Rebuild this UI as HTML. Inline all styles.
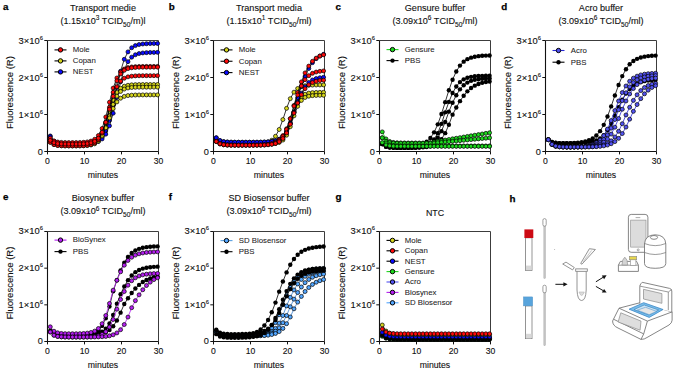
<!DOCTYPE html>
<html><head><meta charset="utf-8"><style>
html,body{margin:0;padding:0;background:#fff;overflow:hidden;width:676px;height:371px;}
svg{display:block;}
text{font-family:"Liberation Sans", sans-serif;} .t{fill:#111;stroke:#111;stroke-width:0.12px;} .lg{fill:#222;stroke:#222;stroke-width:0.06px;}
</style></head><body>
<svg width="676" height="371" viewBox="0 0 676 371">
<rect width="676" height="371" fill="#fff"/>
<text x="3.0" y="9.8" font-size="9.8" font-weight="bold" fill="#000" stroke="#000" stroke-width="0.25">a</text>
<text x="103.0" y="10.5" font-size="9.1" text-anchor="middle" class="t">Transport medie</text>
<text x="103.0" y="23.9" font-size="9.1" text-anchor="middle" class="t">(1.15x10<tspan dy="-3.6" font-size="6.5">3</tspan><tspan dy="3.6"> TCID</tspan><tspan dy="2.6" font-size="6.6">50</tspan><tspan dy="-2.6">/m)l</tspan></text>
<path d="M47.5 40.5H158.5V151.5" fill="none" stroke="#3c3c3c" stroke-width="1.0"/>
<path d="M47.5 40.5V151.5H158.5" fill="none" stroke="#111" stroke-width="1.1"/>
<path d="M44.3 151.5H47.5" stroke="#111" stroke-width="1"/>
<text x="42.9" y="154.8" font-size="9.2" text-anchor="end" class="t">0</text>
<path d="M44.3 114.5H47.5" stroke="#111" stroke-width="1"/>
<text x="42.9" y="117.8" font-size="9.4" text-anchor="end" class="t">1×10<tspan dy="-3.9" font-size="5.8">6</tspan></text>
<path d="M44.3 77.5H47.5" stroke="#111" stroke-width="1"/>
<text x="42.9" y="80.8" font-size="9.4" text-anchor="end" class="t">2×10<tspan dy="-3.9" font-size="5.8">6</tspan></text>
<path d="M44.3 40.5H47.5" stroke="#111" stroke-width="1"/>
<text x="42.9" y="43.8" font-size="9.4" text-anchor="end" class="t">3×10<tspan dy="-3.9" font-size="5.8">6</tspan></text>
<path d="M47.5 151.5V154.4" stroke="#111" stroke-width="1"/>
<text x="47.5" y="164.4" font-size="8.6" text-anchor="middle" class="t">0</text>
<path d="M84.5 151.5V154.4" stroke="#111" stroke-width="1"/>
<text x="84.5" y="164.4" font-size="8.6" text-anchor="middle" class="t">10</text>
<path d="M121.5 151.5V154.4" stroke="#111" stroke-width="1"/>
<text x="121.5" y="164.4" font-size="8.6" text-anchor="middle" class="t">20</text>
<path d="M158.5 151.5V154.4" stroke="#111" stroke-width="1"/>
<text x="158.5" y="164.4" font-size="8.6" text-anchor="middle" class="t">30</text>
<text x="103.0" y="177.9" font-size="8.7" text-anchor="middle" class="t">minutes</text>
<text transform="translate(12.899999999999999 92.6) rotate(-90)" x="0" y="0" font-size="9.5" text-anchor="middle" class="t">Fluorescence (R)</text>
<polyline points="50.27,135.96 53.98,141.10 57.67,143.00 61.38,143.69 65.08,143.95 68.78,144.03 72.47,144.06 76.17,144.04 79.88,144.00 83.58,143.89 87.28,143.68 90.97,143.24 94.68,142.35 98.38,140.59 102.08,137.19 105.78,130.92 109.47,120.42 113.17,105.26 116.88,87.52 120.58,71.24 124.28,59.29 127.98,51.89 131.68,47.77 135.38,45.62 139.07,44.53 142.78,43.99 146.48,43.72 150.18,43.59 153.88,43.52 157.57,43.49" fill="none" stroke="#000" stroke-width="0.8"/>
<circle cx="50.27" cy="135.96" r="2.0" fill="#0a0aff" stroke="#000" stroke-width="0.7"/>
<circle cx="53.98" cy="141.10" r="2.0" fill="#0a0aff" stroke="#000" stroke-width="0.7"/>
<circle cx="57.67" cy="143.00" r="2.0" fill="#0a0aff" stroke="#000" stroke-width="0.7"/>
<circle cx="61.38" cy="143.69" r="2.0" fill="#0a0aff" stroke="#000" stroke-width="0.7"/>
<circle cx="65.08" cy="143.95" r="2.0" fill="#0a0aff" stroke="#000" stroke-width="0.7"/>
<circle cx="68.78" cy="144.03" r="2.0" fill="#0a0aff" stroke="#000" stroke-width="0.7"/>
<circle cx="72.47" cy="144.06" r="2.0" fill="#0a0aff" stroke="#000" stroke-width="0.7"/>
<circle cx="76.17" cy="144.04" r="2.0" fill="#0a0aff" stroke="#000" stroke-width="0.7"/>
<circle cx="79.88" cy="144.00" r="2.0" fill="#0a0aff" stroke="#000" stroke-width="0.7"/>
<circle cx="83.58" cy="143.89" r="2.0" fill="#0a0aff" stroke="#000" stroke-width="0.7"/>
<circle cx="87.28" cy="143.68" r="2.0" fill="#0a0aff" stroke="#000" stroke-width="0.7"/>
<circle cx="90.97" cy="143.24" r="2.0" fill="#0a0aff" stroke="#000" stroke-width="0.7"/>
<circle cx="94.68" cy="142.35" r="2.0" fill="#0a0aff" stroke="#000" stroke-width="0.7"/>
<circle cx="98.38" cy="140.59" r="2.0" fill="#0a0aff" stroke="#000" stroke-width="0.7"/>
<circle cx="102.08" cy="137.19" r="2.0" fill="#0a0aff" stroke="#000" stroke-width="0.7"/>
<circle cx="105.78" cy="130.92" r="2.0" fill="#0a0aff" stroke="#000" stroke-width="0.7"/>
<circle cx="109.47" cy="120.42" r="2.0" fill="#0a0aff" stroke="#000" stroke-width="0.7"/>
<circle cx="113.17" cy="105.26" r="2.0" fill="#0a0aff" stroke="#000" stroke-width="0.7"/>
<circle cx="116.88" cy="87.52" r="2.0" fill="#0a0aff" stroke="#000" stroke-width="0.7"/>
<circle cx="120.58" cy="71.24" r="2.0" fill="#0a0aff" stroke="#000" stroke-width="0.7"/>
<circle cx="124.28" cy="59.29" r="2.0" fill="#0a0aff" stroke="#000" stroke-width="0.7"/>
<circle cx="127.98" cy="51.89" r="2.0" fill="#0a0aff" stroke="#000" stroke-width="0.7"/>
<circle cx="131.68" cy="47.77" r="2.0" fill="#0a0aff" stroke="#000" stroke-width="0.7"/>
<circle cx="135.38" cy="45.62" r="2.0" fill="#0a0aff" stroke="#000" stroke-width="0.7"/>
<circle cx="139.07" cy="44.53" r="2.0" fill="#0a0aff" stroke="#000" stroke-width="0.7"/>
<circle cx="142.78" cy="43.99" r="2.0" fill="#0a0aff" stroke="#000" stroke-width="0.7"/>
<circle cx="146.48" cy="43.72" r="2.0" fill="#0a0aff" stroke="#000" stroke-width="0.7"/>
<circle cx="150.18" cy="43.59" r="2.0" fill="#0a0aff" stroke="#000" stroke-width="0.7"/>
<circle cx="153.88" cy="43.52" r="2.0" fill="#0a0aff" stroke="#000" stroke-width="0.7"/>
<circle cx="157.57" cy="43.49" r="2.0" fill="#0a0aff" stroke="#000" stroke-width="0.7"/>
<polyline points="50.27,136.70 53.98,141.38 57.67,143.10 61.38,143.73 65.08,143.96 68.78,144.04 72.47,144.06 76.17,144.06 79.88,144.02 83.58,143.95 87.28,143.79 90.97,143.46 94.68,142.81 98.38,141.50 102.08,138.95 105.78,134.15 109.47,125.84 113.17,113.22 116.88,97.40 120.58,81.78 124.28,69.57 127.98,61.67 131.68,57.16 135.38,54.76 139.07,53.54 142.78,52.93 146.48,52.63 150.18,52.48 153.88,52.41 157.57,52.37" fill="none" stroke="#000" stroke-width="0.8"/>
<circle cx="50.27" cy="136.70" r="2.0" fill="#0a0aff" stroke="#000" stroke-width="0.7"/>
<circle cx="53.98" cy="141.38" r="2.0" fill="#0a0aff" stroke="#000" stroke-width="0.7"/>
<circle cx="57.67" cy="143.10" r="2.0" fill="#0a0aff" stroke="#000" stroke-width="0.7"/>
<circle cx="61.38" cy="143.73" r="2.0" fill="#0a0aff" stroke="#000" stroke-width="0.7"/>
<circle cx="65.08" cy="143.96" r="2.0" fill="#0a0aff" stroke="#000" stroke-width="0.7"/>
<circle cx="68.78" cy="144.04" r="2.0" fill="#0a0aff" stroke="#000" stroke-width="0.7"/>
<circle cx="72.47" cy="144.06" r="2.0" fill="#0a0aff" stroke="#000" stroke-width="0.7"/>
<circle cx="76.17" cy="144.06" r="2.0" fill="#0a0aff" stroke="#000" stroke-width="0.7"/>
<circle cx="79.88" cy="144.02" r="2.0" fill="#0a0aff" stroke="#000" stroke-width="0.7"/>
<circle cx="83.58" cy="143.95" r="2.0" fill="#0a0aff" stroke="#000" stroke-width="0.7"/>
<circle cx="87.28" cy="143.79" r="2.0" fill="#0a0aff" stroke="#000" stroke-width="0.7"/>
<circle cx="90.97" cy="143.46" r="2.0" fill="#0a0aff" stroke="#000" stroke-width="0.7"/>
<circle cx="94.68" cy="142.81" r="2.0" fill="#0a0aff" stroke="#000" stroke-width="0.7"/>
<circle cx="98.38" cy="141.50" r="2.0" fill="#0a0aff" stroke="#000" stroke-width="0.7"/>
<circle cx="102.08" cy="138.95" r="2.0" fill="#0a0aff" stroke="#000" stroke-width="0.7"/>
<circle cx="105.78" cy="134.15" r="2.0" fill="#0a0aff" stroke="#000" stroke-width="0.7"/>
<circle cx="109.47" cy="125.84" r="2.0" fill="#0a0aff" stroke="#000" stroke-width="0.7"/>
<circle cx="113.17" cy="113.22" r="2.0" fill="#0a0aff" stroke="#000" stroke-width="0.7"/>
<circle cx="116.88" cy="97.40" r="2.0" fill="#0a0aff" stroke="#000" stroke-width="0.7"/>
<circle cx="120.58" cy="81.78" r="2.0" fill="#0a0aff" stroke="#000" stroke-width="0.7"/>
<circle cx="124.28" cy="69.57" r="2.0" fill="#0a0aff" stroke="#000" stroke-width="0.7"/>
<circle cx="127.98" cy="61.67" r="2.0" fill="#0a0aff" stroke="#000" stroke-width="0.7"/>
<circle cx="131.68" cy="57.16" r="2.0" fill="#0a0aff" stroke="#000" stroke-width="0.7"/>
<circle cx="135.38" cy="54.76" r="2.0" fill="#0a0aff" stroke="#000" stroke-width="0.7"/>
<circle cx="139.07" cy="53.54" r="2.0" fill="#0a0aff" stroke="#000" stroke-width="0.7"/>
<circle cx="142.78" cy="52.93" r="2.0" fill="#0a0aff" stroke="#000" stroke-width="0.7"/>
<circle cx="146.48" cy="52.63" r="2.0" fill="#0a0aff" stroke="#000" stroke-width="0.7"/>
<circle cx="150.18" cy="52.48" r="2.0" fill="#0a0aff" stroke="#000" stroke-width="0.7"/>
<circle cx="153.88" cy="52.41" r="2.0" fill="#0a0aff" stroke="#000" stroke-width="0.7"/>
<circle cx="157.57" cy="52.37" r="2.0" fill="#0a0aff" stroke="#000" stroke-width="0.7"/>
<polyline points="50.27,139.66 53.98,142.47 57.67,143.50 61.38,143.88 65.08,144.02 68.78,144.06 72.47,144.07 76.17,144.06 79.88,144.01 83.58,143.89 87.28,143.61 90.97,142.98 94.68,141.59 98.38,138.63 102.08,132.86 105.78,123.33 109.47,111.22 113.17,100.07 116.88,92.45 120.58,88.25 124.28,86.21 127.98,85.27 131.68,84.85 135.38,84.67 139.07,84.59 142.78,84.56 146.48,84.54 150.18,84.54 153.88,84.53 157.57,84.53" fill="none" stroke="#000" stroke-width="0.8"/>
<circle cx="50.27" cy="139.66" r="2.0" fill="#d4d41c" stroke="#000" stroke-width="0.7"/>
<circle cx="53.98" cy="142.47" r="2.0" fill="#d4d41c" stroke="#000" stroke-width="0.7"/>
<circle cx="57.67" cy="143.50" r="2.0" fill="#d4d41c" stroke="#000" stroke-width="0.7"/>
<circle cx="61.38" cy="143.88" r="2.0" fill="#d4d41c" stroke="#000" stroke-width="0.7"/>
<circle cx="65.08" cy="144.02" r="2.0" fill="#d4d41c" stroke="#000" stroke-width="0.7"/>
<circle cx="68.78" cy="144.06" r="2.0" fill="#d4d41c" stroke="#000" stroke-width="0.7"/>
<circle cx="72.47" cy="144.07" r="2.0" fill="#d4d41c" stroke="#000" stroke-width="0.7"/>
<circle cx="76.17" cy="144.06" r="2.0" fill="#d4d41c" stroke="#000" stroke-width="0.7"/>
<circle cx="79.88" cy="144.01" r="2.0" fill="#d4d41c" stroke="#000" stroke-width="0.7"/>
<circle cx="83.58" cy="143.89" r="2.0" fill="#d4d41c" stroke="#000" stroke-width="0.7"/>
<circle cx="87.28" cy="143.61" r="2.0" fill="#d4d41c" stroke="#000" stroke-width="0.7"/>
<circle cx="90.97" cy="142.98" r="2.0" fill="#d4d41c" stroke="#000" stroke-width="0.7"/>
<circle cx="94.68" cy="141.59" r="2.0" fill="#d4d41c" stroke="#000" stroke-width="0.7"/>
<circle cx="98.38" cy="138.63" r="2.0" fill="#d4d41c" stroke="#000" stroke-width="0.7"/>
<circle cx="102.08" cy="132.86" r="2.0" fill="#d4d41c" stroke="#000" stroke-width="0.7"/>
<circle cx="105.78" cy="123.33" r="2.0" fill="#d4d41c" stroke="#000" stroke-width="0.7"/>
<circle cx="109.47" cy="111.22" r="2.0" fill="#d4d41c" stroke="#000" stroke-width="0.7"/>
<circle cx="113.17" cy="100.07" r="2.0" fill="#d4d41c" stroke="#000" stroke-width="0.7"/>
<circle cx="116.88" cy="92.45" r="2.0" fill="#d4d41c" stroke="#000" stroke-width="0.7"/>
<circle cx="120.58" cy="88.25" r="2.0" fill="#d4d41c" stroke="#000" stroke-width="0.7"/>
<circle cx="124.28" cy="86.21" r="2.0" fill="#d4d41c" stroke="#000" stroke-width="0.7"/>
<circle cx="127.98" cy="85.27" r="2.0" fill="#d4d41c" stroke="#000" stroke-width="0.7"/>
<circle cx="131.68" cy="84.85" r="2.0" fill="#d4d41c" stroke="#000" stroke-width="0.7"/>
<circle cx="135.38" cy="84.67" r="2.0" fill="#d4d41c" stroke="#000" stroke-width="0.7"/>
<circle cx="139.07" cy="84.59" r="2.0" fill="#d4d41c" stroke="#000" stroke-width="0.7"/>
<circle cx="142.78" cy="84.56" r="2.0" fill="#d4d41c" stroke="#000" stroke-width="0.7"/>
<circle cx="146.48" cy="84.54" r="2.0" fill="#d4d41c" stroke="#000" stroke-width="0.7"/>
<circle cx="150.18" cy="84.54" r="2.0" fill="#d4d41c" stroke="#000" stroke-width="0.7"/>
<circle cx="153.88" cy="84.53" r="2.0" fill="#d4d41c" stroke="#000" stroke-width="0.7"/>
<circle cx="157.57" cy="84.53" r="2.0" fill="#d4d41c" stroke="#000" stroke-width="0.7"/>
<polyline points="50.27,142.25 53.98,144.59 57.67,145.45 61.38,145.76 65.08,145.88 68.78,145.92 72.47,145.93 76.17,145.91 79.88,145.87 83.58,145.77 87.28,145.54 90.97,145.01 94.68,143.84 98.38,141.31 102.08,136.27 105.78,127.61 109.47,115.92 113.17,104.43 116.88,96.14 120.58,91.41 124.28,89.07 127.98,87.98 131.68,87.50 135.38,87.28 139.07,87.19 142.78,87.15 146.48,87.13 150.18,87.13 153.88,87.12 157.57,87.12" fill="none" stroke="#000" stroke-width="0.8"/>
<circle cx="50.27" cy="142.25" r="2.0" fill="#d4d41c" stroke="#000" stroke-width="0.7"/>
<circle cx="53.98" cy="144.59" r="2.0" fill="#d4d41c" stroke="#000" stroke-width="0.7"/>
<circle cx="57.67" cy="145.45" r="2.0" fill="#d4d41c" stroke="#000" stroke-width="0.7"/>
<circle cx="61.38" cy="145.76" r="2.0" fill="#d4d41c" stroke="#000" stroke-width="0.7"/>
<circle cx="65.08" cy="145.88" r="2.0" fill="#d4d41c" stroke="#000" stroke-width="0.7"/>
<circle cx="68.78" cy="145.92" r="2.0" fill="#d4d41c" stroke="#000" stroke-width="0.7"/>
<circle cx="72.47" cy="145.93" r="2.0" fill="#d4d41c" stroke="#000" stroke-width="0.7"/>
<circle cx="76.17" cy="145.91" r="2.0" fill="#d4d41c" stroke="#000" stroke-width="0.7"/>
<circle cx="79.88" cy="145.87" r="2.0" fill="#d4d41c" stroke="#000" stroke-width="0.7"/>
<circle cx="83.58" cy="145.77" r="2.0" fill="#d4d41c" stroke="#000" stroke-width="0.7"/>
<circle cx="87.28" cy="145.54" r="2.0" fill="#d4d41c" stroke="#000" stroke-width="0.7"/>
<circle cx="90.97" cy="145.01" r="2.0" fill="#d4d41c" stroke="#000" stroke-width="0.7"/>
<circle cx="94.68" cy="143.84" r="2.0" fill="#d4d41c" stroke="#000" stroke-width="0.7"/>
<circle cx="98.38" cy="141.31" r="2.0" fill="#d4d41c" stroke="#000" stroke-width="0.7"/>
<circle cx="102.08" cy="136.27" r="2.0" fill="#d4d41c" stroke="#000" stroke-width="0.7"/>
<circle cx="105.78" cy="127.61" r="2.0" fill="#d4d41c" stroke="#000" stroke-width="0.7"/>
<circle cx="109.47" cy="115.92" r="2.0" fill="#d4d41c" stroke="#000" stroke-width="0.7"/>
<circle cx="113.17" cy="104.43" r="2.0" fill="#d4d41c" stroke="#000" stroke-width="0.7"/>
<circle cx="116.88" cy="96.14" r="2.0" fill="#d4d41c" stroke="#000" stroke-width="0.7"/>
<circle cx="120.58" cy="91.41" r="2.0" fill="#d4d41c" stroke="#000" stroke-width="0.7"/>
<circle cx="124.28" cy="89.07" r="2.0" fill="#d4d41c" stroke="#000" stroke-width="0.7"/>
<circle cx="127.98" cy="87.98" r="2.0" fill="#d4d41c" stroke="#000" stroke-width="0.7"/>
<circle cx="131.68" cy="87.50" r="2.0" fill="#d4d41c" stroke="#000" stroke-width="0.7"/>
<circle cx="135.38" cy="87.28" r="2.0" fill="#d4d41c" stroke="#000" stroke-width="0.7"/>
<circle cx="139.07" cy="87.19" r="2.0" fill="#d4d41c" stroke="#000" stroke-width="0.7"/>
<circle cx="142.78" cy="87.15" r="2.0" fill="#d4d41c" stroke="#000" stroke-width="0.7"/>
<circle cx="146.48" cy="87.13" r="2.0" fill="#d4d41c" stroke="#000" stroke-width="0.7"/>
<circle cx="150.18" cy="87.13" r="2.0" fill="#d4d41c" stroke="#000" stroke-width="0.7"/>
<circle cx="153.88" cy="87.12" r="2.0" fill="#d4d41c" stroke="#000" stroke-width="0.7"/>
<circle cx="157.57" cy="87.12" r="2.0" fill="#d4d41c" stroke="#000" stroke-width="0.7"/>
<polyline points="50.27,140.40 53.98,142.74 57.67,143.60 61.38,143.91 65.08,144.03 68.78,144.07 72.47,144.08 76.17,144.07 79.88,144.03 83.58,143.94 87.28,143.73 90.97,143.25 94.68,142.19 98.38,139.91 102.08,135.42 105.78,127.86 109.47,117.96 113.17,108.53 116.88,101.92 120.58,98.21 124.28,96.39 127.98,95.55 131.68,95.18 135.38,95.02 139.07,94.95 142.78,94.91 146.48,94.90 150.18,94.89 153.88,94.89 157.57,94.89" fill="none" stroke="#000" stroke-width="0.8"/>
<circle cx="50.27" cy="140.40" r="2.0" fill="#d4d41c" stroke="#000" stroke-width="0.7"/>
<circle cx="53.98" cy="142.74" r="2.0" fill="#d4d41c" stroke="#000" stroke-width="0.7"/>
<circle cx="57.67" cy="143.60" r="2.0" fill="#d4d41c" stroke="#000" stroke-width="0.7"/>
<circle cx="61.38" cy="143.91" r="2.0" fill="#d4d41c" stroke="#000" stroke-width="0.7"/>
<circle cx="65.08" cy="144.03" r="2.0" fill="#d4d41c" stroke="#000" stroke-width="0.7"/>
<circle cx="68.78" cy="144.07" r="2.0" fill="#d4d41c" stroke="#000" stroke-width="0.7"/>
<circle cx="72.47" cy="144.08" r="2.0" fill="#d4d41c" stroke="#000" stroke-width="0.7"/>
<circle cx="76.17" cy="144.07" r="2.0" fill="#d4d41c" stroke="#000" stroke-width="0.7"/>
<circle cx="79.88" cy="144.03" r="2.0" fill="#d4d41c" stroke="#000" stroke-width="0.7"/>
<circle cx="83.58" cy="143.94" r="2.0" fill="#d4d41c" stroke="#000" stroke-width="0.7"/>
<circle cx="87.28" cy="143.73" r="2.0" fill="#d4d41c" stroke="#000" stroke-width="0.7"/>
<circle cx="90.97" cy="143.25" r="2.0" fill="#d4d41c" stroke="#000" stroke-width="0.7"/>
<circle cx="94.68" cy="142.19" r="2.0" fill="#d4d41c" stroke="#000" stroke-width="0.7"/>
<circle cx="98.38" cy="139.91" r="2.0" fill="#d4d41c" stroke="#000" stroke-width="0.7"/>
<circle cx="102.08" cy="135.42" r="2.0" fill="#d4d41c" stroke="#000" stroke-width="0.7"/>
<circle cx="105.78" cy="127.86" r="2.0" fill="#d4d41c" stroke="#000" stroke-width="0.7"/>
<circle cx="109.47" cy="117.96" r="2.0" fill="#d4d41c" stroke="#000" stroke-width="0.7"/>
<circle cx="113.17" cy="108.53" r="2.0" fill="#d4d41c" stroke="#000" stroke-width="0.7"/>
<circle cx="116.88" cy="101.92" r="2.0" fill="#d4d41c" stroke="#000" stroke-width="0.7"/>
<circle cx="120.58" cy="98.21" r="2.0" fill="#d4d41c" stroke="#000" stroke-width="0.7"/>
<circle cx="124.28" cy="96.39" r="2.0" fill="#d4d41c" stroke="#000" stroke-width="0.7"/>
<circle cx="127.98" cy="95.55" r="2.0" fill="#d4d41c" stroke="#000" stroke-width="0.7"/>
<circle cx="131.68" cy="95.18" r="2.0" fill="#d4d41c" stroke="#000" stroke-width="0.7"/>
<circle cx="135.38" cy="95.02" r="2.0" fill="#d4d41c" stroke="#000" stroke-width="0.7"/>
<circle cx="139.07" cy="94.95" r="2.0" fill="#d4d41c" stroke="#000" stroke-width="0.7"/>
<circle cx="142.78" cy="94.91" r="2.0" fill="#d4d41c" stroke="#000" stroke-width="0.7"/>
<circle cx="146.48" cy="94.90" r="2.0" fill="#d4d41c" stroke="#000" stroke-width="0.7"/>
<circle cx="150.18" cy="94.89" r="2.0" fill="#d4d41c" stroke="#000" stroke-width="0.7"/>
<circle cx="153.88" cy="94.89" r="2.0" fill="#d4d41c" stroke="#000" stroke-width="0.7"/>
<circle cx="157.57" cy="94.89" r="2.0" fill="#d4d41c" stroke="#000" stroke-width="0.7"/>
<polyline points="50.27,138.18 53.98,140.99 57.67,142.02 61.38,142.40 65.08,142.53 68.78,142.58 72.47,142.58 76.17,142.55 79.88,142.48 83.58,142.30 87.28,141.92 90.97,141.08 94.68,139.27 98.38,135.55 102.08,128.49 105.78,116.99 109.47,102.23 113.17,88.12 116.88,77.98 120.58,72.08 124.28,69.06 127.98,67.62 131.68,66.95 135.38,66.65 139.07,66.51 142.78,66.45 146.48,66.42 150.18,66.41 153.88,66.40 157.57,66.40" fill="none" stroke="#000" stroke-width="0.8"/>
<circle cx="50.27" cy="138.18" r="2.0" fill="#ff0a0a" stroke="#000" stroke-width="0.7"/>
<circle cx="53.98" cy="140.99" r="2.0" fill="#ff0a0a" stroke="#000" stroke-width="0.7"/>
<circle cx="57.67" cy="142.02" r="2.0" fill="#ff0a0a" stroke="#000" stroke-width="0.7"/>
<circle cx="61.38" cy="142.40" r="2.0" fill="#ff0a0a" stroke="#000" stroke-width="0.7"/>
<circle cx="65.08" cy="142.53" r="2.0" fill="#ff0a0a" stroke="#000" stroke-width="0.7"/>
<circle cx="68.78" cy="142.58" r="2.0" fill="#ff0a0a" stroke="#000" stroke-width="0.7"/>
<circle cx="72.47" cy="142.58" r="2.0" fill="#ff0a0a" stroke="#000" stroke-width="0.7"/>
<circle cx="76.17" cy="142.55" r="2.0" fill="#ff0a0a" stroke="#000" stroke-width="0.7"/>
<circle cx="79.88" cy="142.48" r="2.0" fill="#ff0a0a" stroke="#000" stroke-width="0.7"/>
<circle cx="83.58" cy="142.30" r="2.0" fill="#ff0a0a" stroke="#000" stroke-width="0.7"/>
<circle cx="87.28" cy="141.92" r="2.0" fill="#ff0a0a" stroke="#000" stroke-width="0.7"/>
<circle cx="90.97" cy="141.08" r="2.0" fill="#ff0a0a" stroke="#000" stroke-width="0.7"/>
<circle cx="94.68" cy="139.27" r="2.0" fill="#ff0a0a" stroke="#000" stroke-width="0.7"/>
<circle cx="98.38" cy="135.55" r="2.0" fill="#ff0a0a" stroke="#000" stroke-width="0.7"/>
<circle cx="102.08" cy="128.49" r="2.0" fill="#ff0a0a" stroke="#000" stroke-width="0.7"/>
<circle cx="105.78" cy="116.99" r="2.0" fill="#ff0a0a" stroke="#000" stroke-width="0.7"/>
<circle cx="109.47" cy="102.23" r="2.0" fill="#ff0a0a" stroke="#000" stroke-width="0.7"/>
<circle cx="113.17" cy="88.12" r="2.0" fill="#ff0a0a" stroke="#000" stroke-width="0.7"/>
<circle cx="116.88" cy="77.98" r="2.0" fill="#ff0a0a" stroke="#000" stroke-width="0.7"/>
<circle cx="120.58" cy="72.08" r="2.0" fill="#ff0a0a" stroke="#000" stroke-width="0.7"/>
<circle cx="124.28" cy="69.06" r="2.0" fill="#ff0a0a" stroke="#000" stroke-width="0.7"/>
<circle cx="127.98" cy="67.62" r="2.0" fill="#ff0a0a" stroke="#000" stroke-width="0.7"/>
<circle cx="131.68" cy="66.95" r="2.0" fill="#ff0a0a" stroke="#000" stroke-width="0.7"/>
<circle cx="135.38" cy="66.65" r="2.0" fill="#ff0a0a" stroke="#000" stroke-width="0.7"/>
<circle cx="139.07" cy="66.51" r="2.0" fill="#ff0a0a" stroke="#000" stroke-width="0.7"/>
<circle cx="142.78" cy="66.45" r="2.0" fill="#ff0a0a" stroke="#000" stroke-width="0.7"/>
<circle cx="146.48" cy="66.42" r="2.0" fill="#ff0a0a" stroke="#000" stroke-width="0.7"/>
<circle cx="150.18" cy="66.41" r="2.0" fill="#ff0a0a" stroke="#000" stroke-width="0.7"/>
<circle cx="153.88" cy="66.40" r="2.0" fill="#ff0a0a" stroke="#000" stroke-width="0.7"/>
<circle cx="157.57" cy="66.40" r="2.0" fill="#ff0a0a" stroke="#000" stroke-width="0.7"/>
<polyline points="50.27,142.25 53.98,144.59 57.67,145.45 61.38,145.76 65.08,145.88 68.78,145.91 72.47,145.92 76.17,145.89 79.88,145.82 83.58,145.67 87.28,145.33 90.97,144.59 94.68,142.98 98.38,139.63 102.08,133.15 105.78,122.19 109.47,107.33 113.17,92.25 116.88,80.83 120.58,73.94 124.28,70.35 127.98,68.61 131.68,67.81 135.38,67.44 139.07,67.28 142.78,67.20 146.48,67.17 150.18,67.15 153.88,67.15 157.57,67.14" fill="none" stroke="#000" stroke-width="0.8"/>
<circle cx="50.27" cy="142.25" r="2.0" fill="#ff0a0a" stroke="#000" stroke-width="0.7"/>
<circle cx="53.98" cy="144.59" r="2.0" fill="#ff0a0a" stroke="#000" stroke-width="0.7"/>
<circle cx="57.67" cy="145.45" r="2.0" fill="#ff0a0a" stroke="#000" stroke-width="0.7"/>
<circle cx="61.38" cy="145.76" r="2.0" fill="#ff0a0a" stroke="#000" stroke-width="0.7"/>
<circle cx="65.08" cy="145.88" r="2.0" fill="#ff0a0a" stroke="#000" stroke-width="0.7"/>
<circle cx="68.78" cy="145.91" r="2.0" fill="#ff0a0a" stroke="#000" stroke-width="0.7"/>
<circle cx="72.47" cy="145.92" r="2.0" fill="#ff0a0a" stroke="#000" stroke-width="0.7"/>
<circle cx="76.17" cy="145.89" r="2.0" fill="#ff0a0a" stroke="#000" stroke-width="0.7"/>
<circle cx="79.88" cy="145.82" r="2.0" fill="#ff0a0a" stroke="#000" stroke-width="0.7"/>
<circle cx="83.58" cy="145.67" r="2.0" fill="#ff0a0a" stroke="#000" stroke-width="0.7"/>
<circle cx="87.28" cy="145.33" r="2.0" fill="#ff0a0a" stroke="#000" stroke-width="0.7"/>
<circle cx="90.97" cy="144.59" r="2.0" fill="#ff0a0a" stroke="#000" stroke-width="0.7"/>
<circle cx="94.68" cy="142.98" r="2.0" fill="#ff0a0a" stroke="#000" stroke-width="0.7"/>
<circle cx="98.38" cy="139.63" r="2.0" fill="#ff0a0a" stroke="#000" stroke-width="0.7"/>
<circle cx="102.08" cy="133.15" r="2.0" fill="#ff0a0a" stroke="#000" stroke-width="0.7"/>
<circle cx="105.78" cy="122.19" r="2.0" fill="#ff0a0a" stroke="#000" stroke-width="0.7"/>
<circle cx="109.47" cy="107.33" r="2.0" fill="#ff0a0a" stroke="#000" stroke-width="0.7"/>
<circle cx="113.17" cy="92.25" r="2.0" fill="#ff0a0a" stroke="#000" stroke-width="0.7"/>
<circle cx="116.88" cy="80.83" r="2.0" fill="#ff0a0a" stroke="#000" stroke-width="0.7"/>
<circle cx="120.58" cy="73.94" r="2.0" fill="#ff0a0a" stroke="#000" stroke-width="0.7"/>
<circle cx="124.28" cy="70.35" r="2.0" fill="#ff0a0a" stroke="#000" stroke-width="0.7"/>
<circle cx="127.98" cy="68.61" r="2.0" fill="#ff0a0a" stroke="#000" stroke-width="0.7"/>
<circle cx="131.68" cy="67.81" r="2.0" fill="#ff0a0a" stroke="#000" stroke-width="0.7"/>
<circle cx="135.38" cy="67.44" r="2.0" fill="#ff0a0a" stroke="#000" stroke-width="0.7"/>
<circle cx="139.07" cy="67.28" r="2.0" fill="#ff0a0a" stroke="#000" stroke-width="0.7"/>
<circle cx="142.78" cy="67.20" r="2.0" fill="#ff0a0a" stroke="#000" stroke-width="0.7"/>
<circle cx="146.48" cy="67.17" r="2.0" fill="#ff0a0a" stroke="#000" stroke-width="0.7"/>
<circle cx="150.18" cy="67.15" r="2.0" fill="#ff0a0a" stroke="#000" stroke-width="0.7"/>
<circle cx="153.88" cy="67.15" r="2.0" fill="#ff0a0a" stroke="#000" stroke-width="0.7"/>
<circle cx="157.57" cy="67.14" r="2.0" fill="#ff0a0a" stroke="#000" stroke-width="0.7"/>
<polyline points="50.27,140.40 53.98,142.74 57.67,143.60 61.38,143.91 65.08,144.03 68.78,144.06 72.47,144.07 76.17,144.04 79.88,143.98 83.58,143.84 87.28,143.52 90.97,142.82 94.68,141.31 98.38,138.19 102.08,132.21 105.78,122.29 109.47,109.19 113.17,96.29 116.88,86.77 120.58,81.14 124.28,78.23 127.98,76.83 131.68,76.19 135.38,75.89 139.07,75.76 142.78,75.70 146.48,75.67 150.18,75.66 153.88,75.65 157.57,75.65" fill="none" stroke="#000" stroke-width="0.8"/>
<circle cx="50.27" cy="140.40" r="2.0" fill="#ff0a0a" stroke="#000" stroke-width="0.7"/>
<circle cx="53.98" cy="142.74" r="2.0" fill="#ff0a0a" stroke="#000" stroke-width="0.7"/>
<circle cx="57.67" cy="143.60" r="2.0" fill="#ff0a0a" stroke="#000" stroke-width="0.7"/>
<circle cx="61.38" cy="143.91" r="2.0" fill="#ff0a0a" stroke="#000" stroke-width="0.7"/>
<circle cx="65.08" cy="144.03" r="2.0" fill="#ff0a0a" stroke="#000" stroke-width="0.7"/>
<circle cx="68.78" cy="144.06" r="2.0" fill="#ff0a0a" stroke="#000" stroke-width="0.7"/>
<circle cx="72.47" cy="144.07" r="2.0" fill="#ff0a0a" stroke="#000" stroke-width="0.7"/>
<circle cx="76.17" cy="144.04" r="2.0" fill="#ff0a0a" stroke="#000" stroke-width="0.7"/>
<circle cx="79.88" cy="143.98" r="2.0" fill="#ff0a0a" stroke="#000" stroke-width="0.7"/>
<circle cx="83.58" cy="143.84" r="2.0" fill="#ff0a0a" stroke="#000" stroke-width="0.7"/>
<circle cx="87.28" cy="143.52" r="2.0" fill="#ff0a0a" stroke="#000" stroke-width="0.7"/>
<circle cx="90.97" cy="142.82" r="2.0" fill="#ff0a0a" stroke="#000" stroke-width="0.7"/>
<circle cx="94.68" cy="141.31" r="2.0" fill="#ff0a0a" stroke="#000" stroke-width="0.7"/>
<circle cx="98.38" cy="138.19" r="2.0" fill="#ff0a0a" stroke="#000" stroke-width="0.7"/>
<circle cx="102.08" cy="132.21" r="2.0" fill="#ff0a0a" stroke="#000" stroke-width="0.7"/>
<circle cx="105.78" cy="122.29" r="2.0" fill="#ff0a0a" stroke="#000" stroke-width="0.7"/>
<circle cx="109.47" cy="109.19" r="2.0" fill="#ff0a0a" stroke="#000" stroke-width="0.7"/>
<circle cx="113.17" cy="96.29" r="2.0" fill="#ff0a0a" stroke="#000" stroke-width="0.7"/>
<circle cx="116.88" cy="86.77" r="2.0" fill="#ff0a0a" stroke="#000" stroke-width="0.7"/>
<circle cx="120.58" cy="81.14" r="2.0" fill="#ff0a0a" stroke="#000" stroke-width="0.7"/>
<circle cx="124.28" cy="78.23" r="2.0" fill="#ff0a0a" stroke="#000" stroke-width="0.7"/>
<circle cx="127.98" cy="76.83" r="2.0" fill="#ff0a0a" stroke="#000" stroke-width="0.7"/>
<circle cx="131.68" cy="76.19" r="2.0" fill="#ff0a0a" stroke="#000" stroke-width="0.7"/>
<circle cx="135.38" cy="75.89" r="2.0" fill="#ff0a0a" stroke="#000" stroke-width="0.7"/>
<circle cx="139.07" cy="75.76" r="2.0" fill="#ff0a0a" stroke="#000" stroke-width="0.7"/>
<circle cx="142.78" cy="75.70" r="2.0" fill="#ff0a0a" stroke="#000" stroke-width="0.7"/>
<circle cx="146.48" cy="75.67" r="2.0" fill="#ff0a0a" stroke="#000" stroke-width="0.7"/>
<circle cx="150.18" cy="75.66" r="2.0" fill="#ff0a0a" stroke="#000" stroke-width="0.7"/>
<circle cx="153.88" cy="75.65" r="2.0" fill="#ff0a0a" stroke="#000" stroke-width="0.7"/>
<circle cx="157.57" cy="75.65" r="2.0" fill="#ff0a0a" stroke="#000" stroke-width="0.7"/>
<path d="M54.5 49.9H66.5" stroke="#000" stroke-width="1.1"/>
<circle cx="60.5" cy="49.9" r="2.2" fill="#ff0a0a" stroke="#000" stroke-width="1.0"/>
<text x="72.8" y="52.25" font-size="7.8" class="lg">Mole</text>
<path d="M54.5 60.9H66.5" stroke="#000" stroke-width="1.1"/>
<circle cx="60.5" cy="60.9" r="2.2" fill="#d4d41c" stroke="#000" stroke-width="1.0"/>
<text x="72.8" y="63.25" font-size="7.8" class="lg">Copan</text>
<path d="M54.5 71.9H66.5" stroke="#000" stroke-width="1.1"/>
<circle cx="60.5" cy="71.9" r="2.2" fill="#0a0aff" stroke="#000" stroke-width="1.0"/>
<text x="72.8" y="74.25" font-size="7.8" class="lg">NEST</text>
<text x="168.8" y="9.8" font-size="9.8" font-weight="bold" fill="#000" stroke="#000" stroke-width="0.25">b</text>
<text x="269.0" y="10.5" font-size="9.1" text-anchor="middle" class="t">Transport media</text>
<text x="269.0" y="23.9" font-size="9.1" text-anchor="middle" class="t">(1.15x10<tspan dy="-3.6" font-size="6.5">1</tspan><tspan dy="3.6"> TCID</tspan><tspan dy="2.6" font-size="6.6">50</tspan><tspan dy="-2.6">/ml)</tspan></text>
<path d="M213.5 40.5H324.5V151.5" fill="none" stroke="#3c3c3c" stroke-width="1.0"/>
<path d="M213.5 40.5V151.5H324.5" fill="none" stroke="#111" stroke-width="1.1"/>
<path d="M210.3 151.5H213.5" stroke="#111" stroke-width="1"/>
<text x="208.9" y="154.8" font-size="9.2" text-anchor="end" class="t">0</text>
<path d="M210.3 114.5H213.5" stroke="#111" stroke-width="1"/>
<text x="208.9" y="117.8" font-size="9.4" text-anchor="end" class="t">1×10<tspan dy="-3.9" font-size="5.8">6</tspan></text>
<path d="M210.3 77.5H213.5" stroke="#111" stroke-width="1"/>
<text x="208.9" y="80.8" font-size="9.4" text-anchor="end" class="t">2×10<tspan dy="-3.9" font-size="5.8">6</tspan></text>
<path d="M210.3 40.5H213.5" stroke="#111" stroke-width="1"/>
<text x="208.9" y="43.8" font-size="9.4" text-anchor="end" class="t">3×10<tspan dy="-3.9" font-size="5.8">6</tspan></text>
<path d="M213.5 151.5V154.4" stroke="#111" stroke-width="1"/>
<text x="213.5" y="164.4" font-size="8.6" text-anchor="middle" class="t">0</text>
<path d="M250.5 151.5V154.4" stroke="#111" stroke-width="1"/>
<text x="250.5" y="164.4" font-size="8.6" text-anchor="middle" class="t">10</text>
<path d="M287.5 151.5V154.4" stroke="#111" stroke-width="1"/>
<text x="287.5" y="164.4" font-size="8.6" text-anchor="middle" class="t">20</text>
<path d="M324.5 151.5V154.4" stroke="#111" stroke-width="1"/>
<text x="324.5" y="164.4" font-size="8.6" text-anchor="middle" class="t">30</text>
<text x="269.0" y="177.9" font-size="8.7" text-anchor="middle" class="t">minutes</text>
<text transform="translate(178.9 92.6) rotate(-90)" x="0" y="0" font-size="9.5" text-anchor="middle" class="t">Fluorescence (R)</text>
<polyline points="216.28,140.40 219.97,142.74 223.68,143.60 227.38,143.92 231.07,144.03 234.78,144.07 238.47,144.09 242.18,144.09 245.88,144.08 249.57,144.06 253.28,144.01 256.98,143.91 260.68,143.69 264.38,143.22 268.07,142.23 271.77,140.21 275.48,136.29 279.18,129.49 282.88,119.57 286.57,108.33 290.27,98.68 293.98,92.20 297.68,88.52 301.38,86.64 305.07,85.72 308.77,85.28 312.48,85.08 316.18,84.98 319.88,84.94 323.57,84.92" fill="none" stroke="#000" stroke-width="0.8"/>
<circle cx="216.28" cy="140.40" r="2.0" fill="#d4d41c" stroke="#000" stroke-width="0.7"/>
<circle cx="219.97" cy="142.74" r="2.0" fill="#d4d41c" stroke="#000" stroke-width="0.7"/>
<circle cx="223.68" cy="143.60" r="2.0" fill="#d4d41c" stroke="#000" stroke-width="0.7"/>
<circle cx="227.38" cy="143.92" r="2.0" fill="#d4d41c" stroke="#000" stroke-width="0.7"/>
<circle cx="231.07" cy="144.03" r="2.0" fill="#d4d41c" stroke="#000" stroke-width="0.7"/>
<circle cx="234.78" cy="144.07" r="2.0" fill="#d4d41c" stroke="#000" stroke-width="0.7"/>
<circle cx="238.47" cy="144.09" r="2.0" fill="#d4d41c" stroke="#000" stroke-width="0.7"/>
<circle cx="242.18" cy="144.09" r="2.0" fill="#d4d41c" stroke="#000" stroke-width="0.7"/>
<circle cx="245.88" cy="144.08" r="2.0" fill="#d4d41c" stroke="#000" stroke-width="0.7"/>
<circle cx="249.57" cy="144.06" r="2.0" fill="#d4d41c" stroke="#000" stroke-width="0.7"/>
<circle cx="253.28" cy="144.01" r="2.0" fill="#d4d41c" stroke="#000" stroke-width="0.7"/>
<circle cx="256.98" cy="143.91" r="2.0" fill="#d4d41c" stroke="#000" stroke-width="0.7"/>
<circle cx="260.68" cy="143.69" r="2.0" fill="#d4d41c" stroke="#000" stroke-width="0.7"/>
<circle cx="264.38" cy="143.22" r="2.0" fill="#d4d41c" stroke="#000" stroke-width="0.7"/>
<circle cx="268.07" cy="142.23" r="2.0" fill="#d4d41c" stroke="#000" stroke-width="0.7"/>
<circle cx="271.77" cy="140.21" r="2.0" fill="#d4d41c" stroke="#000" stroke-width="0.7"/>
<circle cx="275.48" cy="136.29" r="2.0" fill="#d4d41c" stroke="#000" stroke-width="0.7"/>
<circle cx="279.18" cy="129.49" r="2.0" fill="#d4d41c" stroke="#000" stroke-width="0.7"/>
<circle cx="282.88" cy="119.57" r="2.0" fill="#d4d41c" stroke="#000" stroke-width="0.7"/>
<circle cx="286.57" cy="108.33" r="2.0" fill="#d4d41c" stroke="#000" stroke-width="0.7"/>
<circle cx="290.27" cy="98.68" r="2.0" fill="#d4d41c" stroke="#000" stroke-width="0.7"/>
<circle cx="293.98" cy="92.20" r="2.0" fill="#d4d41c" stroke="#000" stroke-width="0.7"/>
<circle cx="297.68" cy="88.52" r="2.0" fill="#d4d41c" stroke="#000" stroke-width="0.7"/>
<circle cx="301.38" cy="86.64" r="2.0" fill="#d4d41c" stroke="#000" stroke-width="0.7"/>
<circle cx="305.07" cy="85.72" r="2.0" fill="#d4d41c" stroke="#000" stroke-width="0.7"/>
<circle cx="308.77" cy="85.28" r="2.0" fill="#d4d41c" stroke="#000" stroke-width="0.7"/>
<circle cx="312.48" cy="85.08" r="2.0" fill="#d4d41c" stroke="#000" stroke-width="0.7"/>
<circle cx="316.18" cy="84.98" r="2.0" fill="#d4d41c" stroke="#000" stroke-width="0.7"/>
<circle cx="319.88" cy="84.94" r="2.0" fill="#d4d41c" stroke="#000" stroke-width="0.7"/>
<circle cx="323.57" cy="84.92" r="2.0" fill="#d4d41c" stroke="#000" stroke-width="0.7"/>
<polyline points="216.28,140.40 219.97,142.74 223.68,143.60 227.38,143.92 231.07,144.03 234.78,144.08 238.47,144.09 242.18,144.10 245.88,144.10 249.57,144.10 253.28,144.10 256.98,144.09 260.68,144.08 264.38,144.04 268.07,143.95 271.77,143.74 275.48,143.21 279.18,141.94 282.88,139.06 286.57,133.16 290.27,123.43 293.98,111.86 297.68,102.47 301.38,96.94 305.07,94.28 308.77,93.11 312.48,92.63 316.18,92.43 319.88,92.35 323.57,92.32" fill="none" stroke="#000" stroke-width="0.8"/>
<circle cx="216.28" cy="140.40" r="2.0" fill="#d4d41c" stroke="#000" stroke-width="0.7"/>
<circle cx="219.97" cy="142.74" r="2.0" fill="#d4d41c" stroke="#000" stroke-width="0.7"/>
<circle cx="223.68" cy="143.60" r="2.0" fill="#d4d41c" stroke="#000" stroke-width="0.7"/>
<circle cx="227.38" cy="143.92" r="2.0" fill="#d4d41c" stroke="#000" stroke-width="0.7"/>
<circle cx="231.07" cy="144.03" r="2.0" fill="#d4d41c" stroke="#000" stroke-width="0.7"/>
<circle cx="234.78" cy="144.08" r="2.0" fill="#d4d41c" stroke="#000" stroke-width="0.7"/>
<circle cx="238.47" cy="144.09" r="2.0" fill="#d4d41c" stroke="#000" stroke-width="0.7"/>
<circle cx="242.18" cy="144.10" r="2.0" fill="#d4d41c" stroke="#000" stroke-width="0.7"/>
<circle cx="245.88" cy="144.10" r="2.0" fill="#d4d41c" stroke="#000" stroke-width="0.7"/>
<circle cx="249.57" cy="144.10" r="2.0" fill="#d4d41c" stroke="#000" stroke-width="0.7"/>
<circle cx="253.28" cy="144.10" r="2.0" fill="#d4d41c" stroke="#000" stroke-width="0.7"/>
<circle cx="256.98" cy="144.09" r="2.0" fill="#d4d41c" stroke="#000" stroke-width="0.7"/>
<circle cx="260.68" cy="144.08" r="2.0" fill="#d4d41c" stroke="#000" stroke-width="0.7"/>
<circle cx="264.38" cy="144.04" r="2.0" fill="#d4d41c" stroke="#000" stroke-width="0.7"/>
<circle cx="268.07" cy="143.95" r="2.0" fill="#d4d41c" stroke="#000" stroke-width="0.7"/>
<circle cx="271.77" cy="143.74" r="2.0" fill="#d4d41c" stroke="#000" stroke-width="0.7"/>
<circle cx="275.48" cy="143.21" r="2.0" fill="#d4d41c" stroke="#000" stroke-width="0.7"/>
<circle cx="279.18" cy="141.94" r="2.0" fill="#d4d41c" stroke="#000" stroke-width="0.7"/>
<circle cx="282.88" cy="139.06" r="2.0" fill="#d4d41c" stroke="#000" stroke-width="0.7"/>
<circle cx="286.57" cy="133.16" r="2.0" fill="#d4d41c" stroke="#000" stroke-width="0.7"/>
<circle cx="290.27" cy="123.43" r="2.0" fill="#d4d41c" stroke="#000" stroke-width="0.7"/>
<circle cx="293.98" cy="111.86" r="2.0" fill="#d4d41c" stroke="#000" stroke-width="0.7"/>
<circle cx="297.68" cy="102.47" r="2.0" fill="#d4d41c" stroke="#000" stroke-width="0.7"/>
<circle cx="301.38" cy="96.94" r="2.0" fill="#d4d41c" stroke="#000" stroke-width="0.7"/>
<circle cx="305.07" cy="94.28" r="2.0" fill="#d4d41c" stroke="#000" stroke-width="0.7"/>
<circle cx="308.77" cy="93.11" r="2.0" fill="#d4d41c" stroke="#000" stroke-width="0.7"/>
<circle cx="312.48" cy="92.63" r="2.0" fill="#d4d41c" stroke="#000" stroke-width="0.7"/>
<circle cx="316.18" cy="92.43" r="2.0" fill="#d4d41c" stroke="#000" stroke-width="0.7"/>
<circle cx="319.88" cy="92.35" r="2.0" fill="#d4d41c" stroke="#000" stroke-width="0.7"/>
<circle cx="323.57" cy="92.32" r="2.0" fill="#d4d41c" stroke="#000" stroke-width="0.7"/>
<polyline points="216.28,140.40 219.97,142.74 223.68,143.60 227.38,143.92 231.07,144.03 234.78,144.08 238.47,144.09 242.18,144.10 245.88,144.10 249.57,144.10 253.28,144.10 256.98,144.09 260.68,144.08 264.38,144.05 268.07,143.98 271.77,143.81 275.48,143.40 279.18,142.39 282.88,140.07 286.57,135.19 290.27,126.69 293.98,115.83 297.68,106.33 301.38,100.42 305.07,97.48 308.77,96.18 312.48,95.63 316.18,95.41 319.88,95.32 323.57,95.28" fill="none" stroke="#000" stroke-width="0.8"/>
<circle cx="216.28" cy="140.40" r="2.0" fill="#d4d41c" stroke="#000" stroke-width="0.7"/>
<circle cx="219.97" cy="142.74" r="2.0" fill="#d4d41c" stroke="#000" stroke-width="0.7"/>
<circle cx="223.68" cy="143.60" r="2.0" fill="#d4d41c" stroke="#000" stroke-width="0.7"/>
<circle cx="227.38" cy="143.92" r="2.0" fill="#d4d41c" stroke="#000" stroke-width="0.7"/>
<circle cx="231.07" cy="144.03" r="2.0" fill="#d4d41c" stroke="#000" stroke-width="0.7"/>
<circle cx="234.78" cy="144.08" r="2.0" fill="#d4d41c" stroke="#000" stroke-width="0.7"/>
<circle cx="238.47" cy="144.09" r="2.0" fill="#d4d41c" stroke="#000" stroke-width="0.7"/>
<circle cx="242.18" cy="144.10" r="2.0" fill="#d4d41c" stroke="#000" stroke-width="0.7"/>
<circle cx="245.88" cy="144.10" r="2.0" fill="#d4d41c" stroke="#000" stroke-width="0.7"/>
<circle cx="249.57" cy="144.10" r="2.0" fill="#d4d41c" stroke="#000" stroke-width="0.7"/>
<circle cx="253.28" cy="144.10" r="2.0" fill="#d4d41c" stroke="#000" stroke-width="0.7"/>
<circle cx="256.98" cy="144.09" r="2.0" fill="#d4d41c" stroke="#000" stroke-width="0.7"/>
<circle cx="260.68" cy="144.08" r="2.0" fill="#d4d41c" stroke="#000" stroke-width="0.7"/>
<circle cx="264.38" cy="144.05" r="2.0" fill="#d4d41c" stroke="#000" stroke-width="0.7"/>
<circle cx="268.07" cy="143.98" r="2.0" fill="#d4d41c" stroke="#000" stroke-width="0.7"/>
<circle cx="271.77" cy="143.81" r="2.0" fill="#d4d41c" stroke="#000" stroke-width="0.7"/>
<circle cx="275.48" cy="143.40" r="2.0" fill="#d4d41c" stroke="#000" stroke-width="0.7"/>
<circle cx="279.18" cy="142.39" r="2.0" fill="#d4d41c" stroke="#000" stroke-width="0.7"/>
<circle cx="282.88" cy="140.07" r="2.0" fill="#d4d41c" stroke="#000" stroke-width="0.7"/>
<circle cx="286.57" cy="135.19" r="2.0" fill="#d4d41c" stroke="#000" stroke-width="0.7"/>
<circle cx="290.27" cy="126.69" r="2.0" fill="#d4d41c" stroke="#000" stroke-width="0.7"/>
<circle cx="293.98" cy="115.83" r="2.0" fill="#d4d41c" stroke="#000" stroke-width="0.7"/>
<circle cx="297.68" cy="106.33" r="2.0" fill="#d4d41c" stroke="#000" stroke-width="0.7"/>
<circle cx="301.38" cy="100.42" r="2.0" fill="#d4d41c" stroke="#000" stroke-width="0.7"/>
<circle cx="305.07" cy="97.48" r="2.0" fill="#d4d41c" stroke="#000" stroke-width="0.7"/>
<circle cx="308.77" cy="96.18" r="2.0" fill="#d4d41c" stroke="#000" stroke-width="0.7"/>
<circle cx="312.48" cy="95.63" r="2.0" fill="#d4d41c" stroke="#000" stroke-width="0.7"/>
<circle cx="316.18" cy="95.41" r="2.0" fill="#d4d41c" stroke="#000" stroke-width="0.7"/>
<circle cx="319.88" cy="95.32" r="2.0" fill="#d4d41c" stroke="#000" stroke-width="0.7"/>
<circle cx="323.57" cy="95.28" r="2.0" fill="#d4d41c" stroke="#000" stroke-width="0.7"/>
<polyline points="216.28,137.81 219.97,140.62 223.68,141.65 227.38,142.03 231.07,142.17 234.78,142.22 238.47,142.24 242.18,142.24 245.88,142.24 249.57,142.23 253.28,142.22 256.98,142.19 260.68,142.14 264.38,142.03 268.07,141.83 271.77,141.43 275.48,140.67 279.18,139.23 282.88,136.54 286.57,131.76 290.27,123.83 293.98,112.17 297.68,97.68 301.38,86.36 305.07,76.43 308.77,68.48 312.48,62.65 316.18,58.64 319.88,56.00 323.57,54.32" fill="none" stroke="#000" stroke-width="0.8"/>
<circle cx="216.28" cy="137.81" r="2.0" fill="#0a0aff" stroke="#000" stroke-width="0.7"/>
<circle cx="219.97" cy="140.62" r="2.0" fill="#0a0aff" stroke="#000" stroke-width="0.7"/>
<circle cx="223.68" cy="141.65" r="2.0" fill="#0a0aff" stroke="#000" stroke-width="0.7"/>
<circle cx="227.38" cy="142.03" r="2.0" fill="#0a0aff" stroke="#000" stroke-width="0.7"/>
<circle cx="231.07" cy="142.17" r="2.0" fill="#0a0aff" stroke="#000" stroke-width="0.7"/>
<circle cx="234.78" cy="142.22" r="2.0" fill="#0a0aff" stroke="#000" stroke-width="0.7"/>
<circle cx="238.47" cy="142.24" r="2.0" fill="#0a0aff" stroke="#000" stroke-width="0.7"/>
<circle cx="242.18" cy="142.24" r="2.0" fill="#0a0aff" stroke="#000" stroke-width="0.7"/>
<circle cx="245.88" cy="142.24" r="2.0" fill="#0a0aff" stroke="#000" stroke-width="0.7"/>
<circle cx="249.57" cy="142.23" r="2.0" fill="#0a0aff" stroke="#000" stroke-width="0.7"/>
<circle cx="253.28" cy="142.22" r="2.0" fill="#0a0aff" stroke="#000" stroke-width="0.7"/>
<circle cx="256.98" cy="142.19" r="2.0" fill="#0a0aff" stroke="#000" stroke-width="0.7"/>
<circle cx="260.68" cy="142.14" r="2.0" fill="#0a0aff" stroke="#000" stroke-width="0.7"/>
<circle cx="264.38" cy="142.03" r="2.0" fill="#0a0aff" stroke="#000" stroke-width="0.7"/>
<circle cx="268.07" cy="141.83" r="2.0" fill="#0a0aff" stroke="#000" stroke-width="0.7"/>
<circle cx="271.77" cy="141.43" r="2.0" fill="#0a0aff" stroke="#000" stroke-width="0.7"/>
<circle cx="275.48" cy="140.67" r="2.0" fill="#0a0aff" stroke="#000" stroke-width="0.7"/>
<circle cx="279.18" cy="139.23" r="2.0" fill="#0a0aff" stroke="#000" stroke-width="0.7"/>
<circle cx="282.88" cy="136.54" r="2.0" fill="#0a0aff" stroke="#000" stroke-width="0.7"/>
<circle cx="286.57" cy="131.76" r="2.0" fill="#0a0aff" stroke="#000" stroke-width="0.7"/>
<circle cx="290.27" cy="123.83" r="2.0" fill="#0a0aff" stroke="#000" stroke-width="0.7"/>
<circle cx="293.98" cy="112.17" r="2.0" fill="#0a0aff" stroke="#000" stroke-width="0.7"/>
<circle cx="297.68" cy="97.68" r="2.0" fill="#0a0aff" stroke="#000" stroke-width="0.7"/>
<circle cx="301.38" cy="86.36" r="2.0" fill="#0a0aff" stroke="#000" stroke-width="0.7"/>
<circle cx="305.07" cy="76.43" r="2.0" fill="#0a0aff" stroke="#000" stroke-width="0.7"/>
<circle cx="308.77" cy="68.48" r="2.0" fill="#0a0aff" stroke="#000" stroke-width="0.7"/>
<circle cx="312.48" cy="62.65" r="2.0" fill="#0a0aff" stroke="#000" stroke-width="0.7"/>
<circle cx="316.18" cy="58.64" r="2.0" fill="#0a0aff" stroke="#000" stroke-width="0.7"/>
<circle cx="319.88" cy="56.00" r="2.0" fill="#0a0aff" stroke="#000" stroke-width="0.7"/>
<circle cx="323.57" cy="54.32" r="2.0" fill="#0a0aff" stroke="#000" stroke-width="0.7"/>
<polyline points="216.28,137.81 219.97,140.62 223.68,141.65 227.38,142.03 231.07,142.17 234.78,142.22 238.47,142.24 242.18,142.24 245.88,142.24 249.57,142.24 253.28,142.23 256.98,142.21 260.68,142.16 264.38,142.07 268.07,141.88 271.77,141.50 275.48,140.75 279.18,139.25 282.88,136.40 286.57,131.31 290.27,123.22 293.98,112.42 297.68,101.97 301.38,93.19 305.07,86.72 308.77,82.49 312.48,79.96 316.18,78.51 319.88,77.71 323.57,77.27" fill="none" stroke="#000" stroke-width="0.8"/>
<circle cx="216.28" cy="137.81" r="2.0" fill="#0a0aff" stroke="#000" stroke-width="0.7"/>
<circle cx="219.97" cy="140.62" r="2.0" fill="#0a0aff" stroke="#000" stroke-width="0.7"/>
<circle cx="223.68" cy="141.65" r="2.0" fill="#0a0aff" stroke="#000" stroke-width="0.7"/>
<circle cx="227.38" cy="142.03" r="2.0" fill="#0a0aff" stroke="#000" stroke-width="0.7"/>
<circle cx="231.07" cy="142.17" r="2.0" fill="#0a0aff" stroke="#000" stroke-width="0.7"/>
<circle cx="234.78" cy="142.22" r="2.0" fill="#0a0aff" stroke="#000" stroke-width="0.7"/>
<circle cx="238.47" cy="142.24" r="2.0" fill="#0a0aff" stroke="#000" stroke-width="0.7"/>
<circle cx="242.18" cy="142.24" r="2.0" fill="#0a0aff" stroke="#000" stroke-width="0.7"/>
<circle cx="245.88" cy="142.24" r="2.0" fill="#0a0aff" stroke="#000" stroke-width="0.7"/>
<circle cx="249.57" cy="142.24" r="2.0" fill="#0a0aff" stroke="#000" stroke-width="0.7"/>
<circle cx="253.28" cy="142.23" r="2.0" fill="#0a0aff" stroke="#000" stroke-width="0.7"/>
<circle cx="256.98" cy="142.21" r="2.0" fill="#0a0aff" stroke="#000" stroke-width="0.7"/>
<circle cx="260.68" cy="142.16" r="2.0" fill="#0a0aff" stroke="#000" stroke-width="0.7"/>
<circle cx="264.38" cy="142.07" r="2.0" fill="#0a0aff" stroke="#000" stroke-width="0.7"/>
<circle cx="268.07" cy="141.88" r="2.0" fill="#0a0aff" stroke="#000" stroke-width="0.7"/>
<circle cx="271.77" cy="141.50" r="2.0" fill="#0a0aff" stroke="#000" stroke-width="0.7"/>
<circle cx="275.48" cy="140.75" r="2.0" fill="#0a0aff" stroke="#000" stroke-width="0.7"/>
<circle cx="279.18" cy="139.25" r="2.0" fill="#0a0aff" stroke="#000" stroke-width="0.7"/>
<circle cx="282.88" cy="136.40" r="2.0" fill="#0a0aff" stroke="#000" stroke-width="0.7"/>
<circle cx="286.57" cy="131.31" r="2.0" fill="#0a0aff" stroke="#000" stroke-width="0.7"/>
<circle cx="290.27" cy="123.22" r="2.0" fill="#0a0aff" stroke="#000" stroke-width="0.7"/>
<circle cx="293.98" cy="112.42" r="2.0" fill="#0a0aff" stroke="#000" stroke-width="0.7"/>
<circle cx="297.68" cy="101.97" r="2.0" fill="#0a0aff" stroke="#000" stroke-width="0.7"/>
<circle cx="301.38" cy="93.19" r="2.0" fill="#0a0aff" stroke="#000" stroke-width="0.7"/>
<circle cx="305.07" cy="86.72" r="2.0" fill="#0a0aff" stroke="#000" stroke-width="0.7"/>
<circle cx="308.77" cy="82.49" r="2.0" fill="#0a0aff" stroke="#000" stroke-width="0.7"/>
<circle cx="312.48" cy="79.96" r="2.0" fill="#0a0aff" stroke="#000" stroke-width="0.7"/>
<circle cx="316.18" cy="78.51" r="2.0" fill="#0a0aff" stroke="#000" stroke-width="0.7"/>
<circle cx="319.88" cy="77.71" r="2.0" fill="#0a0aff" stroke="#000" stroke-width="0.7"/>
<circle cx="323.57" cy="77.27" r="2.0" fill="#0a0aff" stroke="#000" stroke-width="0.7"/>
<polyline points="216.28,141.51 219.97,143.85 223.68,144.71 227.38,145.02 231.07,145.14 234.78,145.18 238.47,145.19 242.18,145.20 245.88,145.19 249.57,145.17 253.28,145.14 256.98,145.08 260.68,144.96 264.38,144.74 268.07,144.34 271.77,143.60 275.48,142.24 279.18,139.81 282.88,135.61 286.57,128.76 290.27,118.59 293.98,105.42 297.68,92.64 301.38,81.88 305.07,72.91 308.77,66.12 312.48,61.33 316.18,58.14 319.88,56.08 323.57,54.78" fill="none" stroke="#000" stroke-width="0.8"/>
<circle cx="216.28" cy="141.51" r="2.0" fill="#ff0a0a" stroke="#000" stroke-width="0.7"/>
<circle cx="219.97" cy="143.85" r="2.0" fill="#ff0a0a" stroke="#000" stroke-width="0.7"/>
<circle cx="223.68" cy="144.71" r="2.0" fill="#ff0a0a" stroke="#000" stroke-width="0.7"/>
<circle cx="227.38" cy="145.02" r="2.0" fill="#ff0a0a" stroke="#000" stroke-width="0.7"/>
<circle cx="231.07" cy="145.14" r="2.0" fill="#ff0a0a" stroke="#000" stroke-width="0.7"/>
<circle cx="234.78" cy="145.18" r="2.0" fill="#ff0a0a" stroke="#000" stroke-width="0.7"/>
<circle cx="238.47" cy="145.19" r="2.0" fill="#ff0a0a" stroke="#000" stroke-width="0.7"/>
<circle cx="242.18" cy="145.20" r="2.0" fill="#ff0a0a" stroke="#000" stroke-width="0.7"/>
<circle cx="245.88" cy="145.19" r="2.0" fill="#ff0a0a" stroke="#000" stroke-width="0.7"/>
<circle cx="249.57" cy="145.17" r="2.0" fill="#ff0a0a" stroke="#000" stroke-width="0.7"/>
<circle cx="253.28" cy="145.14" r="2.0" fill="#ff0a0a" stroke="#000" stroke-width="0.7"/>
<circle cx="256.98" cy="145.08" r="2.0" fill="#ff0a0a" stroke="#000" stroke-width="0.7"/>
<circle cx="260.68" cy="144.96" r="2.0" fill="#ff0a0a" stroke="#000" stroke-width="0.7"/>
<circle cx="264.38" cy="144.74" r="2.0" fill="#ff0a0a" stroke="#000" stroke-width="0.7"/>
<circle cx="268.07" cy="144.34" r="2.0" fill="#ff0a0a" stroke="#000" stroke-width="0.7"/>
<circle cx="271.77" cy="143.60" r="2.0" fill="#ff0a0a" stroke="#000" stroke-width="0.7"/>
<circle cx="275.48" cy="142.24" r="2.0" fill="#ff0a0a" stroke="#000" stroke-width="0.7"/>
<circle cx="279.18" cy="139.81" r="2.0" fill="#ff0a0a" stroke="#000" stroke-width="0.7"/>
<circle cx="282.88" cy="135.61" r="2.0" fill="#ff0a0a" stroke="#000" stroke-width="0.7"/>
<circle cx="286.57" cy="128.76" r="2.0" fill="#ff0a0a" stroke="#000" stroke-width="0.7"/>
<circle cx="290.27" cy="118.59" r="2.0" fill="#ff0a0a" stroke="#000" stroke-width="0.7"/>
<circle cx="293.98" cy="105.42" r="2.0" fill="#ff0a0a" stroke="#000" stroke-width="0.7"/>
<circle cx="297.68" cy="92.64" r="2.0" fill="#ff0a0a" stroke="#000" stroke-width="0.7"/>
<circle cx="301.38" cy="81.88" r="2.0" fill="#ff0a0a" stroke="#000" stroke-width="0.7"/>
<circle cx="305.07" cy="72.91" r="2.0" fill="#ff0a0a" stroke="#000" stroke-width="0.7"/>
<circle cx="308.77" cy="66.12" r="2.0" fill="#ff0a0a" stroke="#000" stroke-width="0.7"/>
<circle cx="312.48" cy="61.33" r="2.0" fill="#ff0a0a" stroke="#000" stroke-width="0.7"/>
<circle cx="316.18" cy="58.14" r="2.0" fill="#ff0a0a" stroke="#000" stroke-width="0.7"/>
<circle cx="319.88" cy="56.08" r="2.0" fill="#ff0a0a" stroke="#000" stroke-width="0.7"/>
<circle cx="323.57" cy="54.78" r="2.0" fill="#ff0a0a" stroke="#000" stroke-width="0.7"/>
<polyline points="216.28,141.51 219.97,143.85 223.68,144.71 227.38,145.03 231.07,145.14 234.78,145.18 238.47,145.20 242.18,145.20 245.88,145.20 249.57,145.19 253.28,145.18 256.98,145.14 260.68,145.08 264.38,144.94 268.07,144.65 271.77,144.08 275.48,142.94 279.18,140.72 282.88,136.58 286.57,129.47 290.27,118.85 293.98,106.09 297.68,94.96 301.38,85.93 305.07,79.63 308.77,75.67 312.48,73.34 316.18,72.04 319.88,71.32 323.57,70.93" fill="none" stroke="#000" stroke-width="0.8"/>
<circle cx="216.28" cy="141.51" r="2.0" fill="#ff0a0a" stroke="#000" stroke-width="0.7"/>
<circle cx="219.97" cy="143.85" r="2.0" fill="#ff0a0a" stroke="#000" stroke-width="0.7"/>
<circle cx="223.68" cy="144.71" r="2.0" fill="#ff0a0a" stroke="#000" stroke-width="0.7"/>
<circle cx="227.38" cy="145.03" r="2.0" fill="#ff0a0a" stroke="#000" stroke-width="0.7"/>
<circle cx="231.07" cy="145.14" r="2.0" fill="#ff0a0a" stroke="#000" stroke-width="0.7"/>
<circle cx="234.78" cy="145.18" r="2.0" fill="#ff0a0a" stroke="#000" stroke-width="0.7"/>
<circle cx="238.47" cy="145.20" r="2.0" fill="#ff0a0a" stroke="#000" stroke-width="0.7"/>
<circle cx="242.18" cy="145.20" r="2.0" fill="#ff0a0a" stroke="#000" stroke-width="0.7"/>
<circle cx="245.88" cy="145.20" r="2.0" fill="#ff0a0a" stroke="#000" stroke-width="0.7"/>
<circle cx="249.57" cy="145.19" r="2.0" fill="#ff0a0a" stroke="#000" stroke-width="0.7"/>
<circle cx="253.28" cy="145.18" r="2.0" fill="#ff0a0a" stroke="#000" stroke-width="0.7"/>
<circle cx="256.98" cy="145.14" r="2.0" fill="#ff0a0a" stroke="#000" stroke-width="0.7"/>
<circle cx="260.68" cy="145.08" r="2.0" fill="#ff0a0a" stroke="#000" stroke-width="0.7"/>
<circle cx="264.38" cy="144.94" r="2.0" fill="#ff0a0a" stroke="#000" stroke-width="0.7"/>
<circle cx="268.07" cy="144.65" r="2.0" fill="#ff0a0a" stroke="#000" stroke-width="0.7"/>
<circle cx="271.77" cy="144.08" r="2.0" fill="#ff0a0a" stroke="#000" stroke-width="0.7"/>
<circle cx="275.48" cy="142.94" r="2.0" fill="#ff0a0a" stroke="#000" stroke-width="0.7"/>
<circle cx="279.18" cy="140.72" r="2.0" fill="#ff0a0a" stroke="#000" stroke-width="0.7"/>
<circle cx="282.88" cy="136.58" r="2.0" fill="#ff0a0a" stroke="#000" stroke-width="0.7"/>
<circle cx="286.57" cy="129.47" r="2.0" fill="#ff0a0a" stroke="#000" stroke-width="0.7"/>
<circle cx="290.27" cy="118.85" r="2.0" fill="#ff0a0a" stroke="#000" stroke-width="0.7"/>
<circle cx="293.98" cy="106.09" r="2.0" fill="#ff0a0a" stroke="#000" stroke-width="0.7"/>
<circle cx="297.68" cy="94.96" r="2.0" fill="#ff0a0a" stroke="#000" stroke-width="0.7"/>
<circle cx="301.38" cy="85.93" r="2.0" fill="#ff0a0a" stroke="#000" stroke-width="0.7"/>
<circle cx="305.07" cy="79.63" r="2.0" fill="#ff0a0a" stroke="#000" stroke-width="0.7"/>
<circle cx="308.77" cy="75.67" r="2.0" fill="#ff0a0a" stroke="#000" stroke-width="0.7"/>
<circle cx="312.48" cy="73.34" r="2.0" fill="#ff0a0a" stroke="#000" stroke-width="0.7"/>
<circle cx="316.18" cy="72.04" r="2.0" fill="#ff0a0a" stroke="#000" stroke-width="0.7"/>
<circle cx="319.88" cy="71.32" r="2.0" fill="#ff0a0a" stroke="#000" stroke-width="0.7"/>
<circle cx="323.57" cy="70.93" r="2.0" fill="#ff0a0a" stroke="#000" stroke-width="0.7"/>
<polyline points="216.28,141.51 219.97,143.85 223.68,144.71 227.38,145.03 231.07,145.14 234.78,145.18 238.47,145.20 242.18,145.20 245.88,145.20 249.57,145.20 253.28,145.19 256.98,145.16 260.68,145.11 264.38,145.00 268.07,144.79 271.77,144.35 275.48,143.48 279.18,141.77 282.88,138.55 286.57,132.91 290.27,124.20 293.98,113.05 297.68,103.02 301.38,94.66 305.07,88.67 308.77,84.83 312.48,82.56 316.18,81.27 319.88,80.56 323.57,80.17" fill="none" stroke="#000" stroke-width="0.8"/>
<circle cx="216.28" cy="141.51" r="2.0" fill="#ff0a0a" stroke="#000" stroke-width="0.7"/>
<circle cx="219.97" cy="143.85" r="2.0" fill="#ff0a0a" stroke="#000" stroke-width="0.7"/>
<circle cx="223.68" cy="144.71" r="2.0" fill="#ff0a0a" stroke="#000" stroke-width="0.7"/>
<circle cx="227.38" cy="145.03" r="2.0" fill="#ff0a0a" stroke="#000" stroke-width="0.7"/>
<circle cx="231.07" cy="145.14" r="2.0" fill="#ff0a0a" stroke="#000" stroke-width="0.7"/>
<circle cx="234.78" cy="145.18" r="2.0" fill="#ff0a0a" stroke="#000" stroke-width="0.7"/>
<circle cx="238.47" cy="145.20" r="2.0" fill="#ff0a0a" stroke="#000" stroke-width="0.7"/>
<circle cx="242.18" cy="145.20" r="2.0" fill="#ff0a0a" stroke="#000" stroke-width="0.7"/>
<circle cx="245.88" cy="145.20" r="2.0" fill="#ff0a0a" stroke="#000" stroke-width="0.7"/>
<circle cx="249.57" cy="145.20" r="2.0" fill="#ff0a0a" stroke="#000" stroke-width="0.7"/>
<circle cx="253.28" cy="145.19" r="2.0" fill="#ff0a0a" stroke="#000" stroke-width="0.7"/>
<circle cx="256.98" cy="145.16" r="2.0" fill="#ff0a0a" stroke="#000" stroke-width="0.7"/>
<circle cx="260.68" cy="145.11" r="2.0" fill="#ff0a0a" stroke="#000" stroke-width="0.7"/>
<circle cx="264.38" cy="145.00" r="2.0" fill="#ff0a0a" stroke="#000" stroke-width="0.7"/>
<circle cx="268.07" cy="144.79" r="2.0" fill="#ff0a0a" stroke="#000" stroke-width="0.7"/>
<circle cx="271.77" cy="144.35" r="2.0" fill="#ff0a0a" stroke="#000" stroke-width="0.7"/>
<circle cx="275.48" cy="143.48" r="2.0" fill="#ff0a0a" stroke="#000" stroke-width="0.7"/>
<circle cx="279.18" cy="141.77" r="2.0" fill="#ff0a0a" stroke="#000" stroke-width="0.7"/>
<circle cx="282.88" cy="138.55" r="2.0" fill="#ff0a0a" stroke="#000" stroke-width="0.7"/>
<circle cx="286.57" cy="132.91" r="2.0" fill="#ff0a0a" stroke="#000" stroke-width="0.7"/>
<circle cx="290.27" cy="124.20" r="2.0" fill="#ff0a0a" stroke="#000" stroke-width="0.7"/>
<circle cx="293.98" cy="113.05" r="2.0" fill="#ff0a0a" stroke="#000" stroke-width="0.7"/>
<circle cx="297.68" cy="103.02" r="2.0" fill="#ff0a0a" stroke="#000" stroke-width="0.7"/>
<circle cx="301.38" cy="94.66" r="2.0" fill="#ff0a0a" stroke="#000" stroke-width="0.7"/>
<circle cx="305.07" cy="88.67" r="2.0" fill="#ff0a0a" stroke="#000" stroke-width="0.7"/>
<circle cx="308.77" cy="84.83" r="2.0" fill="#ff0a0a" stroke="#000" stroke-width="0.7"/>
<circle cx="312.48" cy="82.56" r="2.0" fill="#ff0a0a" stroke="#000" stroke-width="0.7"/>
<circle cx="316.18" cy="81.27" r="2.0" fill="#ff0a0a" stroke="#000" stroke-width="0.7"/>
<circle cx="319.88" cy="80.56" r="2.0" fill="#ff0a0a" stroke="#000" stroke-width="0.7"/>
<circle cx="323.57" cy="80.17" r="2.0" fill="#ff0a0a" stroke="#000" stroke-width="0.7"/>
<path d="M220.5 49.9H232.5" stroke="#000" stroke-width="1.1"/>
<circle cx="226.5" cy="49.9" r="2.2" fill="#d4d41c" stroke="#000" stroke-width="1.0"/>
<text x="238.8" y="52.25" font-size="7.8" class="lg">Mole</text>
<path d="M220.5 61.25H232.5" stroke="#000" stroke-width="1.1"/>
<circle cx="226.5" cy="61.25" r="2.2" fill="#ff0a0a" stroke="#000" stroke-width="1.0"/>
<text x="238.8" y="63.6" font-size="7.8" class="lg">Copan</text>
<path d="M220.5 72.6H232.5" stroke="#000" stroke-width="1.1"/>
<circle cx="226.5" cy="72.6" r="2.2" fill="#0a0aff" stroke="#000" stroke-width="1.0"/>
<text x="238.8" y="74.94999999999999" font-size="7.8" class="lg">NEST</text>
<text x="335.5" y="9.8" font-size="9.8" font-weight="bold" fill="#000" stroke="#000" stroke-width="0.25">c</text>
<text x="435.0" y="10.5" font-size="9.1" text-anchor="middle" class="t">Gensure buffer</text>
<text x="435.0" y="23.9" font-size="9.1" text-anchor="middle" class="t">(3.09x10<tspan dy="-3.6" font-size="6.5">6</tspan><tspan dy="3.6"> TCID</tspan><tspan dy="2.6" font-size="6.6">50</tspan><tspan dy="-2.6">/ml)</tspan></text>
<path d="M379.5 40.5H490.5V151.5" fill="none" stroke="#3c3c3c" stroke-width="1.0"/>
<path d="M379.5 40.5V151.5H490.5" fill="none" stroke="#111" stroke-width="1.1"/>
<path d="M376.3 151.5H379.5" stroke="#111" stroke-width="1"/>
<text x="374.9" y="154.8" font-size="9.2" text-anchor="end" class="t">0</text>
<path d="M376.3 114.5H379.5" stroke="#111" stroke-width="1"/>
<text x="374.9" y="117.8" font-size="9.4" text-anchor="end" class="t">1×10<tspan dy="-3.9" font-size="5.8">6</tspan></text>
<path d="M376.3 77.5H379.5" stroke="#111" stroke-width="1"/>
<text x="374.9" y="80.8" font-size="9.4" text-anchor="end" class="t">2×10<tspan dy="-3.9" font-size="5.8">6</tspan></text>
<path d="M376.3 40.5H379.5" stroke="#111" stroke-width="1"/>
<text x="374.9" y="43.8" font-size="9.4" text-anchor="end" class="t">3×10<tspan dy="-3.9" font-size="5.8">6</tspan></text>
<path d="M379.5 151.5V154.4" stroke="#111" stroke-width="1"/>
<text x="379.5" y="164.4" font-size="8.6" text-anchor="middle" class="t">0</text>
<path d="M416.5 151.5V154.4" stroke="#111" stroke-width="1"/>
<text x="416.5" y="164.4" font-size="8.6" text-anchor="middle" class="t">10</text>
<path d="M453.5 151.5V154.4" stroke="#111" stroke-width="1"/>
<text x="453.5" y="164.4" font-size="8.6" text-anchor="middle" class="t">20</text>
<path d="M490.5 151.5V154.4" stroke="#111" stroke-width="1"/>
<text x="490.5" y="164.4" font-size="8.6" text-anchor="middle" class="t">30</text>
<text x="435.0" y="177.9" font-size="8.7" text-anchor="middle" class="t">minutes</text>
<text transform="translate(344.9 92.6) rotate(-90)" x="0" y="0" font-size="9.5" text-anchor="middle" class="t">Fluorescence (R)</text>
<polyline points="382.27,144.09 385.98,146.42 389.68,147.27 393.38,147.56 397.07,147.64 400.77,147.61 404.48,147.52 408.18,147.33 411.88,147.02 415.57,146.48 419.27,145.59 422.98,144.12 426.68,141.74 430.38,137.99 434.07,132.33 437.77,124.33 441.48,114.01 445.18,102.16 448.88,90.22 452.57,79.70 456.27,71.46 459.98,65.58 463.68,61.66 467.38,59.17 471.07,57.63 474.77,56.69 478.48,56.13 482.18,55.79 485.88,55.59 489.57,55.47" fill="none" stroke="#000" stroke-width="0.8"/>
<circle cx="382.27" cy="144.09" r="2.2" fill="#000"/>
<circle cx="385.98" cy="146.42" r="2.2" fill="#000"/>
<circle cx="389.68" cy="147.27" r="2.2" fill="#000"/>
<circle cx="393.38" cy="147.56" r="2.2" fill="#000"/>
<circle cx="397.07" cy="147.64" r="2.2" fill="#000"/>
<circle cx="400.77" cy="147.61" r="2.2" fill="#000"/>
<circle cx="404.48" cy="147.52" r="2.2" fill="#000"/>
<circle cx="408.18" cy="147.33" r="2.2" fill="#000"/>
<circle cx="411.88" cy="147.02" r="2.2" fill="#000"/>
<circle cx="415.57" cy="146.48" r="2.2" fill="#000"/>
<circle cx="419.27" cy="145.59" r="2.2" fill="#000"/>
<circle cx="422.98" cy="144.12" r="2.2" fill="#000"/>
<circle cx="426.68" cy="141.74" r="2.2" fill="#000"/>
<circle cx="430.38" cy="137.99" r="2.2" fill="#000"/>
<circle cx="434.07" cy="132.33" r="2.2" fill="#000"/>
<circle cx="437.77" cy="124.33" r="2.2" fill="#000"/>
<circle cx="441.48" cy="114.01" r="2.2" fill="#000"/>
<circle cx="445.18" cy="102.16" r="2.2" fill="#000"/>
<circle cx="448.88" cy="90.22" r="2.2" fill="#000"/>
<circle cx="452.57" cy="79.70" r="2.2" fill="#000"/>
<circle cx="456.27" cy="71.46" r="2.2" fill="#000"/>
<circle cx="459.98" cy="65.58" r="2.2" fill="#000"/>
<circle cx="463.68" cy="61.66" r="2.2" fill="#000"/>
<circle cx="467.38" cy="59.17" r="2.2" fill="#000"/>
<circle cx="471.07" cy="57.63" r="2.2" fill="#000"/>
<circle cx="474.77" cy="56.69" r="2.2" fill="#000"/>
<circle cx="478.48" cy="56.13" r="2.2" fill="#000"/>
<circle cx="482.18" cy="55.79" r="2.2" fill="#000"/>
<circle cx="485.88" cy="55.59" r="2.2" fill="#000"/>
<circle cx="489.57" cy="55.47" r="2.2" fill="#000"/>
<polyline points="382.27,144.10 385.98,146.44 389.68,147.30 393.38,147.61 397.07,147.72 400.77,147.75 404.48,147.75 408.18,147.71 411.88,147.63 415.57,147.46 419.27,147.15 422.98,146.54 426.68,145.39 430.38,143.26 434.07,139.45 437.77,133.14 441.48,123.86 445.18,112.33 448.88,101.90 452.57,93.04 456.27,86.47 459.98,82.09 463.68,79.37 467.38,77.76 471.07,76.84 474.77,76.32 478.48,76.02 482.18,75.86 485.88,75.76 489.57,75.71" fill="none" stroke="#000" stroke-width="0.8"/>
<circle cx="382.27" cy="144.10" r="2.2" fill="#000"/>
<circle cx="385.98" cy="146.44" r="2.2" fill="#000"/>
<circle cx="389.68" cy="147.30" r="2.2" fill="#000"/>
<circle cx="393.38" cy="147.61" r="2.2" fill="#000"/>
<circle cx="397.07" cy="147.72" r="2.2" fill="#000"/>
<circle cx="400.77" cy="147.75" r="2.2" fill="#000"/>
<circle cx="404.48" cy="147.75" r="2.2" fill="#000"/>
<circle cx="408.18" cy="147.71" r="2.2" fill="#000"/>
<circle cx="411.88" cy="147.63" r="2.2" fill="#000"/>
<circle cx="415.57" cy="147.46" r="2.2" fill="#000"/>
<circle cx="419.27" cy="147.15" r="2.2" fill="#000"/>
<circle cx="422.98" cy="146.54" r="2.2" fill="#000"/>
<circle cx="426.68" cy="145.39" r="2.2" fill="#000"/>
<circle cx="430.38" cy="143.26" r="2.2" fill="#000"/>
<circle cx="434.07" cy="139.45" r="2.2" fill="#000"/>
<circle cx="437.77" cy="133.14" r="2.2" fill="#000"/>
<circle cx="441.48" cy="123.86" r="2.2" fill="#000"/>
<circle cx="445.18" cy="112.33" r="2.2" fill="#000"/>
<circle cx="448.88" cy="101.90" r="2.2" fill="#000"/>
<circle cx="452.57" cy="93.04" r="2.2" fill="#000"/>
<circle cx="456.27" cy="86.47" r="2.2" fill="#000"/>
<circle cx="459.98" cy="82.09" r="2.2" fill="#000"/>
<circle cx="463.68" cy="79.37" r="2.2" fill="#000"/>
<circle cx="467.38" cy="77.76" r="2.2" fill="#000"/>
<circle cx="471.07" cy="76.84" r="2.2" fill="#000"/>
<circle cx="474.77" cy="76.32" r="2.2" fill="#000"/>
<circle cx="478.48" cy="76.02" r="2.2" fill="#000"/>
<circle cx="482.18" cy="75.86" r="2.2" fill="#000"/>
<circle cx="485.88" cy="75.76" r="2.2" fill="#000"/>
<circle cx="489.57" cy="75.71" r="2.2" fill="#000"/>
<polyline points="382.27,144.10 385.98,146.44 389.68,147.30 393.38,147.61 397.07,147.72 400.77,147.75 404.48,147.75 408.18,147.72 411.88,147.65 415.57,147.53 419.27,147.29 422.98,146.85 426.68,146.05 430.38,144.60 434.07,142.05 437.77,137.77 441.48,131.15 445.18,122.05 448.88,111.65 452.57,102.80 456.27,95.20 459.98,89.37 463.68,85.28 467.38,82.58 471.07,80.87 474.77,79.82 478.48,79.18 482.18,78.80 485.88,78.57 489.57,78.44" fill="none" stroke="#000" stroke-width="0.8"/>
<circle cx="382.27" cy="144.10" r="2.2" fill="#000"/>
<circle cx="385.98" cy="146.44" r="2.2" fill="#000"/>
<circle cx="389.68" cy="147.30" r="2.2" fill="#000"/>
<circle cx="393.38" cy="147.61" r="2.2" fill="#000"/>
<circle cx="397.07" cy="147.72" r="2.2" fill="#000"/>
<circle cx="400.77" cy="147.75" r="2.2" fill="#000"/>
<circle cx="404.48" cy="147.75" r="2.2" fill="#000"/>
<circle cx="408.18" cy="147.72" r="2.2" fill="#000"/>
<circle cx="411.88" cy="147.65" r="2.2" fill="#000"/>
<circle cx="415.57" cy="147.53" r="2.2" fill="#000"/>
<circle cx="419.27" cy="147.29" r="2.2" fill="#000"/>
<circle cx="422.98" cy="146.85" r="2.2" fill="#000"/>
<circle cx="426.68" cy="146.05" r="2.2" fill="#000"/>
<circle cx="430.38" cy="144.60" r="2.2" fill="#000"/>
<circle cx="434.07" cy="142.05" r="2.2" fill="#000"/>
<circle cx="437.77" cy="137.77" r="2.2" fill="#000"/>
<circle cx="441.48" cy="131.15" r="2.2" fill="#000"/>
<circle cx="445.18" cy="122.05" r="2.2" fill="#000"/>
<circle cx="448.88" cy="111.65" r="2.2" fill="#000"/>
<circle cx="452.57" cy="102.80" r="2.2" fill="#000"/>
<circle cx="456.27" cy="95.20" r="2.2" fill="#000"/>
<circle cx="459.98" cy="89.37" r="2.2" fill="#000"/>
<circle cx="463.68" cy="85.28" r="2.2" fill="#000"/>
<circle cx="467.38" cy="82.58" r="2.2" fill="#000"/>
<circle cx="471.07" cy="80.87" r="2.2" fill="#000"/>
<circle cx="474.77" cy="79.82" r="2.2" fill="#000"/>
<circle cx="478.48" cy="79.18" r="2.2" fill="#000"/>
<circle cx="482.18" cy="78.80" r="2.2" fill="#000"/>
<circle cx="485.88" cy="78.57" r="2.2" fill="#000"/>
<circle cx="489.57" cy="78.44" r="2.2" fill="#000"/>
<polyline points="382.27,144.10 385.98,146.44 389.68,147.30 393.38,147.61 397.07,147.73 400.77,147.76 404.48,147.77 408.18,147.76 411.88,147.73 415.57,147.67 419.27,147.57 422.98,147.36 426.68,146.99 430.38,146.30 434.07,145.05 437.77,142.84 441.48,139.09 445.18,133.16 448.88,124.80 452.57,114.66 456.27,107.55 459.98,101.16 463.68,95.70 467.38,91.35 471.07,88.06 474.77,85.67 478.48,83.99 482.18,82.83 485.88,82.04 489.57,81.51" fill="none" stroke="#000" stroke-width="0.8"/>
<circle cx="382.27" cy="144.10" r="2.2" fill="#000"/>
<circle cx="385.98" cy="146.44" r="2.2" fill="#000"/>
<circle cx="389.68" cy="147.30" r="2.2" fill="#000"/>
<circle cx="393.38" cy="147.61" r="2.2" fill="#000"/>
<circle cx="397.07" cy="147.73" r="2.2" fill="#000"/>
<circle cx="400.77" cy="147.76" r="2.2" fill="#000"/>
<circle cx="404.48" cy="147.77" r="2.2" fill="#000"/>
<circle cx="408.18" cy="147.76" r="2.2" fill="#000"/>
<circle cx="411.88" cy="147.73" r="2.2" fill="#000"/>
<circle cx="415.57" cy="147.67" r="2.2" fill="#000"/>
<circle cx="419.27" cy="147.57" r="2.2" fill="#000"/>
<circle cx="422.98" cy="147.36" r="2.2" fill="#000"/>
<circle cx="426.68" cy="146.99" r="2.2" fill="#000"/>
<circle cx="430.38" cy="146.30" r="2.2" fill="#000"/>
<circle cx="434.07" cy="145.05" r="2.2" fill="#000"/>
<circle cx="437.77" cy="142.84" r="2.2" fill="#000"/>
<circle cx="441.48" cy="139.09" r="2.2" fill="#000"/>
<circle cx="445.18" cy="133.16" r="2.2" fill="#000"/>
<circle cx="448.88" cy="124.80" r="2.2" fill="#000"/>
<circle cx="452.57" cy="114.66" r="2.2" fill="#000"/>
<circle cx="456.27" cy="107.55" r="2.2" fill="#000"/>
<circle cx="459.98" cy="101.16" r="2.2" fill="#000"/>
<circle cx="463.68" cy="95.70" r="2.2" fill="#000"/>
<circle cx="467.38" cy="91.35" r="2.2" fill="#000"/>
<circle cx="471.07" cy="88.06" r="2.2" fill="#000"/>
<circle cx="474.77" cy="85.67" r="2.2" fill="#000"/>
<circle cx="478.48" cy="83.99" r="2.2" fill="#000"/>
<circle cx="482.18" cy="82.83" r="2.2" fill="#000"/>
<circle cx="485.88" cy="82.04" r="2.2" fill="#000"/>
<circle cx="489.57" cy="81.51" r="2.2" fill="#000"/>
<polyline points="382.27,131.89 385.98,138.91 389.68,141.49 393.38,142.44 397.07,142.79 400.77,142.92 404.48,142.96 408.18,142.98 411.88,142.99 415.57,142.99 419.27,142.99 422.98,142.99 426.68,142.99 430.38,142.53 434.07,141.92 437.77,141.31 441.48,140.70 445.18,140.09 448.88,139.48 452.57,138.87 456.27,138.26 459.98,137.65 463.68,137.04 467.38,136.43 471.07,135.82 474.77,135.21 478.48,134.60 482.18,133.99 485.88,133.37 489.57,132.76" fill="none" stroke="#1ed81e" stroke-width="0.8"/>
<circle cx="382.27" cy="131.89" r="2.0" fill="#1ed81e" stroke="#000" stroke-width="0.7"/>
<circle cx="385.98" cy="138.91" r="2.0" fill="#1ed81e" stroke="#000" stroke-width="0.7"/>
<circle cx="389.68" cy="141.49" r="2.0" fill="#1ed81e" stroke="#000" stroke-width="0.7"/>
<circle cx="393.38" cy="142.44" r="2.0" fill="#1ed81e" stroke="#000" stroke-width="0.7"/>
<circle cx="397.07" cy="142.79" r="2.0" fill="#1ed81e" stroke="#000" stroke-width="0.7"/>
<circle cx="400.77" cy="142.92" r="2.0" fill="#1ed81e" stroke="#000" stroke-width="0.7"/>
<circle cx="404.48" cy="142.96" r="2.0" fill="#1ed81e" stroke="#000" stroke-width="0.7"/>
<circle cx="408.18" cy="142.98" r="2.0" fill="#1ed81e" stroke="#000" stroke-width="0.7"/>
<circle cx="411.88" cy="142.99" r="2.0" fill="#1ed81e" stroke="#000" stroke-width="0.7"/>
<circle cx="415.57" cy="142.99" r="2.0" fill="#1ed81e" stroke="#000" stroke-width="0.7"/>
<circle cx="419.27" cy="142.99" r="2.0" fill="#1ed81e" stroke="#000" stroke-width="0.7"/>
<circle cx="422.98" cy="142.99" r="2.0" fill="#1ed81e" stroke="#000" stroke-width="0.7"/>
<circle cx="426.68" cy="142.99" r="2.0" fill="#1ed81e" stroke="#000" stroke-width="0.7"/>
<circle cx="430.38" cy="142.53" r="2.0" fill="#1ed81e" stroke="#000" stroke-width="0.7"/>
<circle cx="434.07" cy="141.92" r="2.0" fill="#1ed81e" stroke="#000" stroke-width="0.7"/>
<circle cx="437.77" cy="141.31" r="2.0" fill="#1ed81e" stroke="#000" stroke-width="0.7"/>
<circle cx="441.48" cy="140.70" r="2.0" fill="#1ed81e" stroke="#000" stroke-width="0.7"/>
<circle cx="445.18" cy="140.09" r="2.0" fill="#1ed81e" stroke="#000" stroke-width="0.7"/>
<circle cx="448.88" cy="139.48" r="2.0" fill="#1ed81e" stroke="#000" stroke-width="0.7"/>
<circle cx="452.57" cy="138.87" r="2.0" fill="#1ed81e" stroke="#000" stroke-width="0.7"/>
<circle cx="456.27" cy="138.26" r="2.0" fill="#1ed81e" stroke="#000" stroke-width="0.7"/>
<circle cx="459.98" cy="137.65" r="2.0" fill="#1ed81e" stroke="#000" stroke-width="0.7"/>
<circle cx="463.68" cy="137.04" r="2.0" fill="#1ed81e" stroke="#000" stroke-width="0.7"/>
<circle cx="467.38" cy="136.43" r="2.0" fill="#1ed81e" stroke="#000" stroke-width="0.7"/>
<circle cx="471.07" cy="135.82" r="2.0" fill="#1ed81e" stroke="#000" stroke-width="0.7"/>
<circle cx="474.77" cy="135.21" r="2.0" fill="#1ed81e" stroke="#000" stroke-width="0.7"/>
<circle cx="478.48" cy="134.60" r="2.0" fill="#1ed81e" stroke="#000" stroke-width="0.7"/>
<circle cx="482.18" cy="133.99" r="2.0" fill="#1ed81e" stroke="#000" stroke-width="0.7"/>
<circle cx="485.88" cy="133.37" r="2.0" fill="#1ed81e" stroke="#000" stroke-width="0.7"/>
<circle cx="489.57" cy="132.76" r="2.0" fill="#1ed81e" stroke="#000" stroke-width="0.7"/>
<polyline points="382.27,137.81 385.98,141.32 389.68,142.61 393.38,143.08 397.07,143.26 400.77,143.32 404.48,143.35 408.18,143.35 411.88,143.36 415.57,143.36 419.27,143.36 422.98,143.36 426.68,143.36 430.38,143.36 434.07,143.10 437.77,142.74 441.48,142.39 445.18,142.04 448.88,141.69 452.57,141.34 456.27,140.99 459.98,140.64 463.68,140.28 467.38,139.93 471.07,139.58 474.77,139.23 478.48,138.88 482.18,138.53 485.88,138.18 489.57,137.82" fill="none" stroke="#1ed81e" stroke-width="0.8"/>
<circle cx="382.27" cy="137.81" r="2.0" fill="#1ed81e" stroke="#000" stroke-width="0.7"/>
<circle cx="385.98" cy="141.32" r="2.0" fill="#1ed81e" stroke="#000" stroke-width="0.7"/>
<circle cx="389.68" cy="142.61" r="2.0" fill="#1ed81e" stroke="#000" stroke-width="0.7"/>
<circle cx="393.38" cy="143.08" r="2.0" fill="#1ed81e" stroke="#000" stroke-width="0.7"/>
<circle cx="397.07" cy="143.26" r="2.0" fill="#1ed81e" stroke="#000" stroke-width="0.7"/>
<circle cx="400.77" cy="143.32" r="2.0" fill="#1ed81e" stroke="#000" stroke-width="0.7"/>
<circle cx="404.48" cy="143.35" r="2.0" fill="#1ed81e" stroke="#000" stroke-width="0.7"/>
<circle cx="408.18" cy="143.35" r="2.0" fill="#1ed81e" stroke="#000" stroke-width="0.7"/>
<circle cx="411.88" cy="143.36" r="2.0" fill="#1ed81e" stroke="#000" stroke-width="0.7"/>
<circle cx="415.57" cy="143.36" r="2.0" fill="#1ed81e" stroke="#000" stroke-width="0.7"/>
<circle cx="419.27" cy="143.36" r="2.0" fill="#1ed81e" stroke="#000" stroke-width="0.7"/>
<circle cx="422.98" cy="143.36" r="2.0" fill="#1ed81e" stroke="#000" stroke-width="0.7"/>
<circle cx="426.68" cy="143.36" r="2.0" fill="#1ed81e" stroke="#000" stroke-width="0.7"/>
<circle cx="430.38" cy="143.36" r="2.0" fill="#1ed81e" stroke="#000" stroke-width="0.7"/>
<circle cx="434.07" cy="143.10" r="2.0" fill="#1ed81e" stroke="#000" stroke-width="0.7"/>
<circle cx="437.77" cy="142.74" r="2.0" fill="#1ed81e" stroke="#000" stroke-width="0.7"/>
<circle cx="441.48" cy="142.39" r="2.0" fill="#1ed81e" stroke="#000" stroke-width="0.7"/>
<circle cx="445.18" cy="142.04" r="2.0" fill="#1ed81e" stroke="#000" stroke-width="0.7"/>
<circle cx="448.88" cy="141.69" r="2.0" fill="#1ed81e" stroke="#000" stroke-width="0.7"/>
<circle cx="452.57" cy="141.34" r="2.0" fill="#1ed81e" stroke="#000" stroke-width="0.7"/>
<circle cx="456.27" cy="140.99" r="2.0" fill="#1ed81e" stroke="#000" stroke-width="0.7"/>
<circle cx="459.98" cy="140.64" r="2.0" fill="#1ed81e" stroke="#000" stroke-width="0.7"/>
<circle cx="463.68" cy="140.28" r="2.0" fill="#1ed81e" stroke="#000" stroke-width="0.7"/>
<circle cx="467.38" cy="139.93" r="2.0" fill="#1ed81e" stroke="#000" stroke-width="0.7"/>
<circle cx="471.07" cy="139.58" r="2.0" fill="#1ed81e" stroke="#000" stroke-width="0.7"/>
<circle cx="474.77" cy="139.23" r="2.0" fill="#1ed81e" stroke="#000" stroke-width="0.7"/>
<circle cx="478.48" cy="138.88" r="2.0" fill="#1ed81e" stroke="#000" stroke-width="0.7"/>
<circle cx="482.18" cy="138.53" r="2.0" fill="#1ed81e" stroke="#000" stroke-width="0.7"/>
<circle cx="485.88" cy="138.18" r="2.0" fill="#1ed81e" stroke="#000" stroke-width="0.7"/>
<circle cx="489.57" cy="137.82" r="2.0" fill="#1ed81e" stroke="#000" stroke-width="0.7"/>
<polyline points="382.27,137.81 385.98,142.96 389.68,144.85 393.38,145.54 397.07,145.80 400.77,145.90 404.48,145.93 408.18,145.94 411.88,145.95 415.57,145.95 419.27,145.95 422.98,145.95 426.68,145.95 430.38,145.95 434.07,145.95 437.77,145.95 441.48,145.95 445.18,145.95 448.88,145.95 452.57,145.95 456.27,145.95 459.98,145.95 463.68,145.95 467.38,145.95 471.07,145.95 474.77,145.95 478.48,145.95 482.18,145.95 485.88,145.95 489.57,145.95" fill="none" stroke="#1ed81e" stroke-width="0.8"/>
<circle cx="382.27" cy="137.81" r="2.0" fill="#1ed81e" stroke="#000" stroke-width="0.7"/>
<circle cx="385.98" cy="142.96" r="2.0" fill="#1ed81e" stroke="#000" stroke-width="0.7"/>
<circle cx="389.68" cy="144.85" r="2.0" fill="#1ed81e" stroke="#000" stroke-width="0.7"/>
<circle cx="393.38" cy="145.54" r="2.0" fill="#1ed81e" stroke="#000" stroke-width="0.7"/>
<circle cx="397.07" cy="145.80" r="2.0" fill="#1ed81e" stroke="#000" stroke-width="0.7"/>
<circle cx="400.77" cy="145.90" r="2.0" fill="#1ed81e" stroke="#000" stroke-width="0.7"/>
<circle cx="404.48" cy="145.93" r="2.0" fill="#1ed81e" stroke="#000" stroke-width="0.7"/>
<circle cx="408.18" cy="145.94" r="2.0" fill="#1ed81e" stroke="#000" stroke-width="0.7"/>
<circle cx="411.88" cy="145.95" r="2.0" fill="#1ed81e" stroke="#000" stroke-width="0.7"/>
<circle cx="415.57" cy="145.95" r="2.0" fill="#1ed81e" stroke="#000" stroke-width="0.7"/>
<circle cx="419.27" cy="145.95" r="2.0" fill="#1ed81e" stroke="#000" stroke-width="0.7"/>
<circle cx="422.98" cy="145.95" r="2.0" fill="#1ed81e" stroke="#000" stroke-width="0.7"/>
<circle cx="426.68" cy="145.95" r="2.0" fill="#1ed81e" stroke="#000" stroke-width="0.7"/>
<circle cx="430.38" cy="145.95" r="2.0" fill="#1ed81e" stroke="#000" stroke-width="0.7"/>
<circle cx="434.07" cy="145.95" r="2.0" fill="#1ed81e" stroke="#000" stroke-width="0.7"/>
<circle cx="437.77" cy="145.95" r="2.0" fill="#1ed81e" stroke="#000" stroke-width="0.7"/>
<circle cx="441.48" cy="145.95" r="2.0" fill="#1ed81e" stroke="#000" stroke-width="0.7"/>
<circle cx="445.18" cy="145.95" r="2.0" fill="#1ed81e" stroke="#000" stroke-width="0.7"/>
<circle cx="448.88" cy="145.95" r="2.0" fill="#1ed81e" stroke="#000" stroke-width="0.7"/>
<circle cx="452.57" cy="145.95" r="2.0" fill="#1ed81e" stroke="#000" stroke-width="0.7"/>
<circle cx="456.27" cy="145.95" r="2.0" fill="#1ed81e" stroke="#000" stroke-width="0.7"/>
<circle cx="459.98" cy="145.95" r="2.0" fill="#1ed81e" stroke="#000" stroke-width="0.7"/>
<circle cx="463.68" cy="145.95" r="2.0" fill="#1ed81e" stroke="#000" stroke-width="0.7"/>
<circle cx="467.38" cy="145.95" r="2.0" fill="#1ed81e" stroke="#000" stroke-width="0.7"/>
<circle cx="471.07" cy="145.95" r="2.0" fill="#1ed81e" stroke="#000" stroke-width="0.7"/>
<circle cx="474.77" cy="145.95" r="2.0" fill="#1ed81e" stroke="#000" stroke-width="0.7"/>
<circle cx="478.48" cy="145.95" r="2.0" fill="#1ed81e" stroke="#000" stroke-width="0.7"/>
<circle cx="482.18" cy="145.95" r="2.0" fill="#1ed81e" stroke="#000" stroke-width="0.7"/>
<circle cx="485.88" cy="145.95" r="2.0" fill="#1ed81e" stroke="#000" stroke-width="0.7"/>
<circle cx="489.57" cy="145.95" r="2.0" fill="#1ed81e" stroke="#000" stroke-width="0.7"/>
<polyline points="382.27,142.62 385.98,144.96 389.68,145.82 393.38,146.14 397.07,146.25 400.77,146.30 404.48,146.31 408.18,146.32 411.88,146.32 415.57,146.32 419.27,146.32 422.98,146.32 426.68,146.32 430.38,146.32 434.07,146.32 437.77,146.32 441.48,146.32 445.18,146.32 448.88,146.32 452.57,146.32 456.27,146.32 459.98,146.32 463.68,146.32 467.38,146.32 471.07,146.32 474.77,146.32 478.48,146.32 482.18,146.32 485.88,146.32 489.57,146.32" fill="none" stroke="#1ed81e" stroke-width="0.8"/>
<circle cx="382.27" cy="142.62" r="2.0" fill="#1ed81e" stroke="#000" stroke-width="0.7"/>
<circle cx="385.98" cy="144.96" r="2.0" fill="#1ed81e" stroke="#000" stroke-width="0.7"/>
<circle cx="389.68" cy="145.82" r="2.0" fill="#1ed81e" stroke="#000" stroke-width="0.7"/>
<circle cx="393.38" cy="146.14" r="2.0" fill="#1ed81e" stroke="#000" stroke-width="0.7"/>
<circle cx="397.07" cy="146.25" r="2.0" fill="#1ed81e" stroke="#000" stroke-width="0.7"/>
<circle cx="400.77" cy="146.30" r="2.0" fill="#1ed81e" stroke="#000" stroke-width="0.7"/>
<circle cx="404.48" cy="146.31" r="2.0" fill="#1ed81e" stroke="#000" stroke-width="0.7"/>
<circle cx="408.18" cy="146.32" r="2.0" fill="#1ed81e" stroke="#000" stroke-width="0.7"/>
<circle cx="411.88" cy="146.32" r="2.0" fill="#1ed81e" stroke="#000" stroke-width="0.7"/>
<circle cx="415.57" cy="146.32" r="2.0" fill="#1ed81e" stroke="#000" stroke-width="0.7"/>
<circle cx="419.27" cy="146.32" r="2.0" fill="#1ed81e" stroke="#000" stroke-width="0.7"/>
<circle cx="422.98" cy="146.32" r="2.0" fill="#1ed81e" stroke="#000" stroke-width="0.7"/>
<circle cx="426.68" cy="146.32" r="2.0" fill="#1ed81e" stroke="#000" stroke-width="0.7"/>
<circle cx="430.38" cy="146.32" r="2.0" fill="#1ed81e" stroke="#000" stroke-width="0.7"/>
<circle cx="434.07" cy="146.32" r="2.0" fill="#1ed81e" stroke="#000" stroke-width="0.7"/>
<circle cx="437.77" cy="146.32" r="2.0" fill="#1ed81e" stroke="#000" stroke-width="0.7"/>
<circle cx="441.48" cy="146.32" r="2.0" fill="#1ed81e" stroke="#000" stroke-width="0.7"/>
<circle cx="445.18" cy="146.32" r="2.0" fill="#1ed81e" stroke="#000" stroke-width="0.7"/>
<circle cx="448.88" cy="146.32" r="2.0" fill="#1ed81e" stroke="#000" stroke-width="0.7"/>
<circle cx="452.57" cy="146.32" r="2.0" fill="#1ed81e" stroke="#000" stroke-width="0.7"/>
<circle cx="456.27" cy="146.32" r="2.0" fill="#1ed81e" stroke="#000" stroke-width="0.7"/>
<circle cx="459.98" cy="146.32" r="2.0" fill="#1ed81e" stroke="#000" stroke-width="0.7"/>
<circle cx="463.68" cy="146.32" r="2.0" fill="#1ed81e" stroke="#000" stroke-width="0.7"/>
<circle cx="467.38" cy="146.32" r="2.0" fill="#1ed81e" stroke="#000" stroke-width="0.7"/>
<circle cx="471.07" cy="146.32" r="2.0" fill="#1ed81e" stroke="#000" stroke-width="0.7"/>
<circle cx="474.77" cy="146.32" r="2.0" fill="#1ed81e" stroke="#000" stroke-width="0.7"/>
<circle cx="478.48" cy="146.32" r="2.0" fill="#1ed81e" stroke="#000" stroke-width="0.7"/>
<circle cx="482.18" cy="146.32" r="2.0" fill="#1ed81e" stroke="#000" stroke-width="0.7"/>
<circle cx="485.88" cy="146.32" r="2.0" fill="#1ed81e" stroke="#000" stroke-width="0.7"/>
<circle cx="489.57" cy="146.32" r="2.0" fill="#1ed81e" stroke="#000" stroke-width="0.7"/>
<path d="M386.5 49.6H398.5" stroke="#1ed81e" stroke-width="1.1"/>
<circle cx="392.5" cy="49.6" r="2.2" fill="#1ed81e" stroke="#000" stroke-width="1.0"/>
<text x="404.8" y="51.95" font-size="7.8" class="lg">Gensure</text>
<path d="M386.5 60.6H398.5" stroke="#000" stroke-width="1.1"/>
<circle cx="392.5" cy="60.6" r="2.2" fill="#000"/>
<text x="404.8" y="62.95" font-size="7.8" class="lg">PBS</text>
<text x="501.3" y="9.8" font-size="9.8" font-weight="bold" fill="#000" stroke="#000" stroke-width="0.25">d</text>
<text x="601.0" y="10.5" font-size="9.1" text-anchor="middle" class="t">Acro buffer</text>
<text x="601.0" y="23.9" font-size="9.1" text-anchor="middle" class="t">(3.09x10<tspan dy="-3.6" font-size="6.5">6</tspan><tspan dy="3.6"> TCID</tspan><tspan dy="2.6" font-size="6.6">50</tspan><tspan dy="-2.6">/ml)</tspan></text>
<path d="M545.5 40.5H656.5V151.5" fill="none" stroke="#3c3c3c" stroke-width="1.0"/>
<path d="M545.5 40.5V151.5H656.5" fill="none" stroke="#111" stroke-width="1.1"/>
<path d="M542.3 151.5H545.5" stroke="#111" stroke-width="1"/>
<text x="540.9" y="154.8" font-size="9.2" text-anchor="end" class="t">0</text>
<path d="M542.3 114.5H545.5" stroke="#111" stroke-width="1"/>
<text x="540.9" y="117.8" font-size="9.4" text-anchor="end" class="t">1×10<tspan dy="-3.9" font-size="5.8">6</tspan></text>
<path d="M542.3 77.5H545.5" stroke="#111" stroke-width="1"/>
<text x="540.9" y="80.8" font-size="9.4" text-anchor="end" class="t">2×10<tspan dy="-3.9" font-size="5.8">6</tspan></text>
<path d="M542.3 40.5H545.5" stroke="#111" stroke-width="1"/>
<text x="540.9" y="43.8" font-size="9.4" text-anchor="end" class="t">3×10<tspan dy="-3.9" font-size="5.8">6</tspan></text>
<path d="M545.5 151.5V154.4" stroke="#111" stroke-width="1"/>
<text x="545.5" y="164.4" font-size="8.6" text-anchor="middle" class="t">0</text>
<path d="M582.5 151.5V154.4" stroke="#111" stroke-width="1"/>
<text x="582.5" y="164.4" font-size="8.6" text-anchor="middle" class="t">10</text>
<path d="M619.5 151.5V154.4" stroke="#111" stroke-width="1"/>
<text x="619.5" y="164.4" font-size="8.6" text-anchor="middle" class="t">20</text>
<path d="M656.5 151.5V154.4" stroke="#111" stroke-width="1"/>
<text x="656.5" y="164.4" font-size="8.6" text-anchor="middle" class="t">30</text>
<text x="601.0" y="177.9" font-size="8.7" text-anchor="middle" class="t">minutes</text>
<text transform="translate(510.9 92.6) rotate(-90)" x="0" y="0" font-size="9.5" text-anchor="middle" class="t">Fluorescence (R)</text>
<polyline points="548.27,139.65 551.98,141.98 555.67,142.82 559.38,143.12 563.08,143.20 566.77,143.18 570.48,143.09 574.17,142.93 577.88,142.66 581.58,142.21 585.27,141.48 588.98,140.30 592.67,138.43 596.38,135.52 600.08,131.13 603.77,124.87 607.48,116.53 611.17,106.42 614.88,95.49 618.58,85.01 622.27,76.08 625.98,69.19 629.67,64.28 633.38,60.98 637.08,58.83 640.77,57.48 644.48,56.63 648.17,56.11 651.88,55.80 655.58,55.60" fill="none" stroke="#000" stroke-width="0.8"/>
<circle cx="548.27" cy="139.65" r="2.2" fill="#000"/>
<circle cx="551.98" cy="141.98" r="2.2" fill="#000"/>
<circle cx="555.67" cy="142.82" r="2.2" fill="#000"/>
<circle cx="559.38" cy="143.12" r="2.2" fill="#000"/>
<circle cx="563.08" cy="143.20" r="2.2" fill="#000"/>
<circle cx="566.77" cy="143.18" r="2.2" fill="#000"/>
<circle cx="570.48" cy="143.09" r="2.2" fill="#000"/>
<circle cx="574.17" cy="142.93" r="2.2" fill="#000"/>
<circle cx="577.88" cy="142.66" r="2.2" fill="#000"/>
<circle cx="581.58" cy="142.21" r="2.2" fill="#000"/>
<circle cx="585.27" cy="141.48" r="2.2" fill="#000"/>
<circle cx="588.98" cy="140.30" r="2.2" fill="#000"/>
<circle cx="592.67" cy="138.43" r="2.2" fill="#000"/>
<circle cx="596.38" cy="135.52" r="2.2" fill="#000"/>
<circle cx="600.08" cy="131.13" r="2.2" fill="#000"/>
<circle cx="603.77" cy="124.87" r="2.2" fill="#000"/>
<circle cx="607.48" cy="116.53" r="2.2" fill="#000"/>
<circle cx="611.17" cy="106.42" r="2.2" fill="#000"/>
<circle cx="614.88" cy="95.49" r="2.2" fill="#000"/>
<circle cx="618.58" cy="85.01" r="2.2" fill="#000"/>
<circle cx="622.27" cy="76.08" r="2.2" fill="#000"/>
<circle cx="625.98" cy="69.19" r="2.2" fill="#000"/>
<circle cx="629.67" cy="64.28" r="2.2" fill="#000"/>
<circle cx="633.38" cy="60.98" r="2.2" fill="#000"/>
<circle cx="637.08" cy="58.83" r="2.2" fill="#000"/>
<circle cx="640.77" cy="57.48" r="2.2" fill="#000"/>
<circle cx="644.48" cy="56.63" r="2.2" fill="#000"/>
<circle cx="648.17" cy="56.11" r="2.2" fill="#000"/>
<circle cx="651.88" cy="55.80" r="2.2" fill="#000"/>
<circle cx="655.58" cy="55.60" r="2.2" fill="#000"/>
<polyline points="548.27,139.66 551.98,141.99 555.67,142.85 559.38,143.16 563.08,143.27 566.77,143.30 570.48,143.29 574.17,143.25 577.88,143.17 581.58,143.03 585.27,142.78 588.98,142.36 592.67,141.64 596.38,140.42 600.08,138.41 603.77,135.20 607.48,130.37 611.17,123.71 614.88,115.50 618.58,107.19 622.27,99.79 625.98,93.62 629.67,88.94 633.38,85.65 637.08,83.46 640.77,82.04 644.48,81.15 648.17,80.59 651.88,80.25 655.58,80.04" fill="none" stroke="#000" stroke-width="0.8"/>
<circle cx="548.27" cy="139.66" r="2.2" fill="#000"/>
<circle cx="551.98" cy="141.99" r="2.2" fill="#000"/>
<circle cx="555.67" cy="142.85" r="2.2" fill="#000"/>
<circle cx="559.38" cy="143.16" r="2.2" fill="#000"/>
<circle cx="563.08" cy="143.27" r="2.2" fill="#000"/>
<circle cx="566.77" cy="143.30" r="2.2" fill="#000"/>
<circle cx="570.48" cy="143.29" r="2.2" fill="#000"/>
<circle cx="574.17" cy="143.25" r="2.2" fill="#000"/>
<circle cx="577.88" cy="143.17" r="2.2" fill="#000"/>
<circle cx="581.58" cy="143.03" r="2.2" fill="#000"/>
<circle cx="585.27" cy="142.78" r="2.2" fill="#000"/>
<circle cx="588.98" cy="142.36" r="2.2" fill="#000"/>
<circle cx="592.67" cy="141.64" r="2.2" fill="#000"/>
<circle cx="596.38" cy="140.42" r="2.2" fill="#000"/>
<circle cx="600.08" cy="138.41" r="2.2" fill="#000"/>
<circle cx="603.77" cy="135.20" r="2.2" fill="#000"/>
<circle cx="607.48" cy="130.37" r="2.2" fill="#000"/>
<circle cx="611.17" cy="123.71" r="2.2" fill="#000"/>
<circle cx="614.88" cy="115.50" r="2.2" fill="#000"/>
<circle cx="618.58" cy="107.19" r="2.2" fill="#000"/>
<circle cx="622.27" cy="99.79" r="2.2" fill="#000"/>
<circle cx="625.98" cy="93.62" r="2.2" fill="#000"/>
<circle cx="629.67" cy="88.94" r="2.2" fill="#000"/>
<circle cx="633.38" cy="85.65" r="2.2" fill="#000"/>
<circle cx="637.08" cy="83.46" r="2.2" fill="#000"/>
<circle cx="640.77" cy="82.04" r="2.2" fill="#000"/>
<circle cx="644.48" cy="81.15" r="2.2" fill="#000"/>
<circle cx="648.17" cy="80.59" r="2.2" fill="#000"/>
<circle cx="651.88" cy="80.25" r="2.2" fill="#000"/>
<circle cx="655.58" cy="80.04" r="2.2" fill="#000"/>
<polyline points="548.27,139.66 551.98,144.33 555.67,146.05 559.38,146.67 563.08,146.89 566.77,146.96 570.48,146.95 574.17,146.89 577.88,146.78 581.58,146.58 585.27,146.22 588.98,145.62 592.67,144.58 596.38,142.84 600.08,140.00 603.77,135.58 607.48,129.11 611.17,120.56 614.88,110.57 618.58,101.00 622.27,92.58 625.98,85.99 629.67,81.29 633.38,78.15 637.08,76.15 640.77,74.92 644.48,74.17 648.17,73.72 651.88,73.45 655.58,73.29" fill="none" stroke="#2828d8" stroke-width="0.8"/>
<circle cx="548.27" cy="139.66" r="2.0" fill="#5252f0" stroke="#000" stroke-width="0.7"/>
<circle cx="551.98" cy="144.33" r="2.0" fill="#5252f0" stroke="#000" stroke-width="0.7"/>
<circle cx="555.67" cy="146.05" r="2.0" fill="#5252f0" stroke="#000" stroke-width="0.7"/>
<circle cx="559.38" cy="146.67" r="2.0" fill="#5252f0" stroke="#000" stroke-width="0.7"/>
<circle cx="563.08" cy="146.89" r="2.0" fill="#5252f0" stroke="#000" stroke-width="0.7"/>
<circle cx="566.77" cy="146.96" r="2.0" fill="#5252f0" stroke="#000" stroke-width="0.7"/>
<circle cx="570.48" cy="146.95" r="2.0" fill="#5252f0" stroke="#000" stroke-width="0.7"/>
<circle cx="574.17" cy="146.89" r="2.0" fill="#5252f0" stroke="#000" stroke-width="0.7"/>
<circle cx="577.88" cy="146.78" r="2.0" fill="#5252f0" stroke="#000" stroke-width="0.7"/>
<circle cx="581.58" cy="146.58" r="2.0" fill="#5252f0" stroke="#000" stroke-width="0.7"/>
<circle cx="585.27" cy="146.22" r="2.0" fill="#5252f0" stroke="#000" stroke-width="0.7"/>
<circle cx="588.98" cy="145.62" r="2.0" fill="#5252f0" stroke="#000" stroke-width="0.7"/>
<circle cx="592.67" cy="144.58" r="2.0" fill="#5252f0" stroke="#000" stroke-width="0.7"/>
<circle cx="596.38" cy="142.84" r="2.0" fill="#5252f0" stroke="#000" stroke-width="0.7"/>
<circle cx="600.08" cy="140.00" r="2.0" fill="#5252f0" stroke="#000" stroke-width="0.7"/>
<circle cx="603.77" cy="135.58" r="2.0" fill="#5252f0" stroke="#000" stroke-width="0.7"/>
<circle cx="607.48" cy="129.11" r="2.0" fill="#5252f0" stroke="#000" stroke-width="0.7"/>
<circle cx="611.17" cy="120.56" r="2.0" fill="#5252f0" stroke="#000" stroke-width="0.7"/>
<circle cx="614.88" cy="110.57" r="2.0" fill="#5252f0" stroke="#000" stroke-width="0.7"/>
<circle cx="618.58" cy="101.00" r="2.0" fill="#5252f0" stroke="#000" stroke-width="0.7"/>
<circle cx="622.27" cy="92.58" r="2.0" fill="#5252f0" stroke="#000" stroke-width="0.7"/>
<circle cx="625.98" cy="85.99" r="2.0" fill="#5252f0" stroke="#000" stroke-width="0.7"/>
<circle cx="629.67" cy="81.29" r="2.0" fill="#5252f0" stroke="#000" stroke-width="0.7"/>
<circle cx="633.38" cy="78.15" r="2.0" fill="#5252f0" stroke="#000" stroke-width="0.7"/>
<circle cx="637.08" cy="76.15" r="2.0" fill="#5252f0" stroke="#000" stroke-width="0.7"/>
<circle cx="640.77" cy="74.92" r="2.0" fill="#5252f0" stroke="#000" stroke-width="0.7"/>
<circle cx="644.48" cy="74.17" r="2.0" fill="#5252f0" stroke="#000" stroke-width="0.7"/>
<circle cx="648.17" cy="73.72" r="2.0" fill="#5252f0" stroke="#000" stroke-width="0.7"/>
<circle cx="651.88" cy="73.45" r="2.0" fill="#5252f0" stroke="#000" stroke-width="0.7"/>
<circle cx="655.58" cy="73.29" r="2.0" fill="#5252f0" stroke="#000" stroke-width="0.7"/>
<polyline points="548.27,139.66 551.98,144.33 555.67,146.05 559.38,146.68 563.08,146.91 566.77,146.98 570.48,146.98 574.17,146.95 577.88,146.88 581.58,146.76 585.27,146.54 588.98,146.16 592.67,145.50 596.38,144.38 600.08,142.52 603.77,139.50 607.48,134.83 611.17,128.14 614.88,119.49 618.58,109.75 622.27,100.63 625.98,92.78 629.67,86.77 633.38,82.54 637.08,79.76 640.77,77.99 644.48,76.91 648.17,76.25 651.88,75.86 655.58,75.62" fill="none" stroke="#2828d8" stroke-width="0.8"/>
<circle cx="548.27" cy="139.66" r="2.0" fill="#5252f0" stroke="#000" stroke-width="0.7"/>
<circle cx="551.98" cy="144.33" r="2.0" fill="#5252f0" stroke="#000" stroke-width="0.7"/>
<circle cx="555.67" cy="146.05" r="2.0" fill="#5252f0" stroke="#000" stroke-width="0.7"/>
<circle cx="559.38" cy="146.68" r="2.0" fill="#5252f0" stroke="#000" stroke-width="0.7"/>
<circle cx="563.08" cy="146.91" r="2.0" fill="#5252f0" stroke="#000" stroke-width="0.7"/>
<circle cx="566.77" cy="146.98" r="2.0" fill="#5252f0" stroke="#000" stroke-width="0.7"/>
<circle cx="570.48" cy="146.98" r="2.0" fill="#5252f0" stroke="#000" stroke-width="0.7"/>
<circle cx="574.17" cy="146.95" r="2.0" fill="#5252f0" stroke="#000" stroke-width="0.7"/>
<circle cx="577.88" cy="146.88" r="2.0" fill="#5252f0" stroke="#000" stroke-width="0.7"/>
<circle cx="581.58" cy="146.76" r="2.0" fill="#5252f0" stroke="#000" stroke-width="0.7"/>
<circle cx="585.27" cy="146.54" r="2.0" fill="#5252f0" stroke="#000" stroke-width="0.7"/>
<circle cx="588.98" cy="146.16" r="2.0" fill="#5252f0" stroke="#000" stroke-width="0.7"/>
<circle cx="592.67" cy="145.50" r="2.0" fill="#5252f0" stroke="#000" stroke-width="0.7"/>
<circle cx="596.38" cy="144.38" r="2.0" fill="#5252f0" stroke="#000" stroke-width="0.7"/>
<circle cx="600.08" cy="142.52" r="2.0" fill="#5252f0" stroke="#000" stroke-width="0.7"/>
<circle cx="603.77" cy="139.50" r="2.0" fill="#5252f0" stroke="#000" stroke-width="0.7"/>
<circle cx="607.48" cy="134.83" r="2.0" fill="#5252f0" stroke="#000" stroke-width="0.7"/>
<circle cx="611.17" cy="128.14" r="2.0" fill="#5252f0" stroke="#000" stroke-width="0.7"/>
<circle cx="614.88" cy="119.49" r="2.0" fill="#5252f0" stroke="#000" stroke-width="0.7"/>
<circle cx="618.58" cy="109.75" r="2.0" fill="#5252f0" stroke="#000" stroke-width="0.7"/>
<circle cx="622.27" cy="100.63" r="2.0" fill="#5252f0" stroke="#000" stroke-width="0.7"/>
<circle cx="625.98" cy="92.78" r="2.0" fill="#5252f0" stroke="#000" stroke-width="0.7"/>
<circle cx="629.67" cy="86.77" r="2.0" fill="#5252f0" stroke="#000" stroke-width="0.7"/>
<circle cx="633.38" cy="82.54" r="2.0" fill="#5252f0" stroke="#000" stroke-width="0.7"/>
<circle cx="637.08" cy="79.76" r="2.0" fill="#5252f0" stroke="#000" stroke-width="0.7"/>
<circle cx="640.77" cy="77.99" r="2.0" fill="#5252f0" stroke="#000" stroke-width="0.7"/>
<circle cx="644.48" cy="76.91" r="2.0" fill="#5252f0" stroke="#000" stroke-width="0.7"/>
<circle cx="648.17" cy="76.25" r="2.0" fill="#5252f0" stroke="#000" stroke-width="0.7"/>
<circle cx="651.88" cy="75.86" r="2.0" fill="#5252f0" stroke="#000" stroke-width="0.7"/>
<circle cx="655.58" cy="75.62" r="2.0" fill="#5252f0" stroke="#000" stroke-width="0.7"/>
<polyline points="548.27,139.66 551.98,144.34 555.67,146.05 559.38,146.68 563.08,146.91 566.77,146.99 570.48,147.01 574.17,146.99 577.88,146.95 581.58,146.87 585.27,146.73 588.98,146.50 592.67,146.08 596.38,145.37 600.08,144.17 603.77,142.18 607.48,138.97 611.17,134.08 614.88,127.19 618.58,118.49 622.27,109.24 625.98,100.97 629.67,93.91 633.38,88.47 637.08,84.60 640.77,81.98 644.48,80.29 648.17,79.22 651.88,78.55 655.58,78.14" fill="none" stroke="#2828d8" stroke-width="0.8"/>
<circle cx="548.27" cy="139.66" r="2.0" fill="#5252f0" stroke="#000" stroke-width="0.7"/>
<circle cx="551.98" cy="144.34" r="2.0" fill="#5252f0" stroke="#000" stroke-width="0.7"/>
<circle cx="555.67" cy="146.05" r="2.0" fill="#5252f0" stroke="#000" stroke-width="0.7"/>
<circle cx="559.38" cy="146.68" r="2.0" fill="#5252f0" stroke="#000" stroke-width="0.7"/>
<circle cx="563.08" cy="146.91" r="2.0" fill="#5252f0" stroke="#000" stroke-width="0.7"/>
<circle cx="566.77" cy="146.99" r="2.0" fill="#5252f0" stroke="#000" stroke-width="0.7"/>
<circle cx="570.48" cy="147.01" r="2.0" fill="#5252f0" stroke="#000" stroke-width="0.7"/>
<circle cx="574.17" cy="146.99" r="2.0" fill="#5252f0" stroke="#000" stroke-width="0.7"/>
<circle cx="577.88" cy="146.95" r="2.0" fill="#5252f0" stroke="#000" stroke-width="0.7"/>
<circle cx="581.58" cy="146.87" r="2.0" fill="#5252f0" stroke="#000" stroke-width="0.7"/>
<circle cx="585.27" cy="146.73" r="2.0" fill="#5252f0" stroke="#000" stroke-width="0.7"/>
<circle cx="588.98" cy="146.50" r="2.0" fill="#5252f0" stroke="#000" stroke-width="0.7"/>
<circle cx="592.67" cy="146.08" r="2.0" fill="#5252f0" stroke="#000" stroke-width="0.7"/>
<circle cx="596.38" cy="145.37" r="2.0" fill="#5252f0" stroke="#000" stroke-width="0.7"/>
<circle cx="600.08" cy="144.17" r="2.0" fill="#5252f0" stroke="#000" stroke-width="0.7"/>
<circle cx="603.77" cy="142.18" r="2.0" fill="#5252f0" stroke="#000" stroke-width="0.7"/>
<circle cx="607.48" cy="138.97" r="2.0" fill="#5252f0" stroke="#000" stroke-width="0.7"/>
<circle cx="611.17" cy="134.08" r="2.0" fill="#5252f0" stroke="#000" stroke-width="0.7"/>
<circle cx="614.88" cy="127.19" r="2.0" fill="#5252f0" stroke="#000" stroke-width="0.7"/>
<circle cx="618.58" cy="118.49" r="2.0" fill="#5252f0" stroke="#000" stroke-width="0.7"/>
<circle cx="622.27" cy="109.24" r="2.0" fill="#5252f0" stroke="#000" stroke-width="0.7"/>
<circle cx="625.98" cy="100.97" r="2.0" fill="#5252f0" stroke="#000" stroke-width="0.7"/>
<circle cx="629.67" cy="93.91" r="2.0" fill="#5252f0" stroke="#000" stroke-width="0.7"/>
<circle cx="633.38" cy="88.47" r="2.0" fill="#5252f0" stroke="#000" stroke-width="0.7"/>
<circle cx="637.08" cy="84.60" r="2.0" fill="#5252f0" stroke="#000" stroke-width="0.7"/>
<circle cx="640.77" cy="81.98" r="2.0" fill="#5252f0" stroke="#000" stroke-width="0.7"/>
<circle cx="644.48" cy="80.29" r="2.0" fill="#5252f0" stroke="#000" stroke-width="0.7"/>
<circle cx="648.17" cy="79.22" r="2.0" fill="#5252f0" stroke="#000" stroke-width="0.7"/>
<circle cx="651.88" cy="78.55" r="2.0" fill="#5252f0" stroke="#000" stroke-width="0.7"/>
<circle cx="655.58" cy="78.14" r="2.0" fill="#5252f0" stroke="#000" stroke-width="0.7"/>
<polyline points="548.27,139.66 551.98,144.34 555.67,146.06 559.38,146.69 563.08,146.92 566.77,147.00 570.48,147.03 574.17,147.03 577.88,147.01 581.58,146.98 585.27,146.92 588.98,146.82 592.67,146.64 596.38,146.32 600.08,145.79 603.77,144.88 607.48,143.35 611.17,140.85 614.88,136.95 618.58,131.27 622.27,123.74 625.98,114.95 629.67,107.26 633.38,100.38 637.08,94.77 640.77,90.55 644.48,87.57 648.17,85.56 651.88,84.24 655.58,83.38" fill="none" stroke="#2828d8" stroke-width="0.8"/>
<circle cx="548.27" cy="139.66" r="2.0" fill="#5252f0" stroke="#000" stroke-width="0.7"/>
<circle cx="551.98" cy="144.34" r="2.0" fill="#5252f0" stroke="#000" stroke-width="0.7"/>
<circle cx="555.67" cy="146.06" r="2.0" fill="#5252f0" stroke="#000" stroke-width="0.7"/>
<circle cx="559.38" cy="146.69" r="2.0" fill="#5252f0" stroke="#000" stroke-width="0.7"/>
<circle cx="563.08" cy="146.92" r="2.0" fill="#5252f0" stroke="#000" stroke-width="0.7"/>
<circle cx="566.77" cy="147.00" r="2.0" fill="#5252f0" stroke="#000" stroke-width="0.7"/>
<circle cx="570.48" cy="147.03" r="2.0" fill="#5252f0" stroke="#000" stroke-width="0.7"/>
<circle cx="574.17" cy="147.03" r="2.0" fill="#5252f0" stroke="#000" stroke-width="0.7"/>
<circle cx="577.88" cy="147.01" r="2.0" fill="#5252f0" stroke="#000" stroke-width="0.7"/>
<circle cx="581.58" cy="146.98" r="2.0" fill="#5252f0" stroke="#000" stroke-width="0.7"/>
<circle cx="585.27" cy="146.92" r="2.0" fill="#5252f0" stroke="#000" stroke-width="0.7"/>
<circle cx="588.98" cy="146.82" r="2.0" fill="#5252f0" stroke="#000" stroke-width="0.7"/>
<circle cx="592.67" cy="146.64" r="2.0" fill="#5252f0" stroke="#000" stroke-width="0.7"/>
<circle cx="596.38" cy="146.32" r="2.0" fill="#5252f0" stroke="#000" stroke-width="0.7"/>
<circle cx="600.08" cy="145.79" r="2.0" fill="#5252f0" stroke="#000" stroke-width="0.7"/>
<circle cx="603.77" cy="144.88" r="2.0" fill="#5252f0" stroke="#000" stroke-width="0.7"/>
<circle cx="607.48" cy="143.35" r="2.0" fill="#5252f0" stroke="#000" stroke-width="0.7"/>
<circle cx="611.17" cy="140.85" r="2.0" fill="#5252f0" stroke="#000" stroke-width="0.7"/>
<circle cx="614.88" cy="136.95" r="2.0" fill="#5252f0" stroke="#000" stroke-width="0.7"/>
<circle cx="618.58" cy="131.27" r="2.0" fill="#5252f0" stroke="#000" stroke-width="0.7"/>
<circle cx="622.27" cy="123.74" r="2.0" fill="#5252f0" stroke="#000" stroke-width="0.7"/>
<circle cx="625.98" cy="114.95" r="2.0" fill="#5252f0" stroke="#000" stroke-width="0.7"/>
<circle cx="629.67" cy="107.26" r="2.0" fill="#5252f0" stroke="#000" stroke-width="0.7"/>
<circle cx="633.38" cy="100.38" r="2.0" fill="#5252f0" stroke="#000" stroke-width="0.7"/>
<circle cx="637.08" cy="94.77" r="2.0" fill="#5252f0" stroke="#000" stroke-width="0.7"/>
<circle cx="640.77" cy="90.55" r="2.0" fill="#5252f0" stroke="#000" stroke-width="0.7"/>
<circle cx="644.48" cy="87.57" r="2.0" fill="#5252f0" stroke="#000" stroke-width="0.7"/>
<circle cx="648.17" cy="85.56" r="2.0" fill="#5252f0" stroke="#000" stroke-width="0.7"/>
<circle cx="651.88" cy="84.24" r="2.0" fill="#5252f0" stroke="#000" stroke-width="0.7"/>
<circle cx="655.58" cy="83.38" r="2.0" fill="#5252f0" stroke="#000" stroke-width="0.7"/>
<polyline points="548.27,139.66 551.98,144.34 555.67,146.06 559.38,146.69 563.08,146.92 566.77,147.00 570.48,147.03 574.17,147.04 577.88,147.03 581.58,147.01 585.27,146.97 588.98,146.91 592.67,146.81 596.38,146.64 600.08,146.34 603.77,145.86 607.48,145.05 611.17,143.73 614.88,141.62 618.58,138.35 622.27,133.57 625.98,127.09 629.67,119.18 633.38,111.32 637.08,104.56 640.77,98.63 644.48,93.82 648.17,90.16 651.88,87.51 655.58,85.66" fill="none" stroke="#2828d8" stroke-width="0.8"/>
<circle cx="548.27" cy="139.66" r="2.0" fill="#5252f0" stroke="#000" stroke-width="0.7"/>
<circle cx="551.98" cy="144.34" r="2.0" fill="#5252f0" stroke="#000" stroke-width="0.7"/>
<circle cx="555.67" cy="146.06" r="2.0" fill="#5252f0" stroke="#000" stroke-width="0.7"/>
<circle cx="559.38" cy="146.69" r="2.0" fill="#5252f0" stroke="#000" stroke-width="0.7"/>
<circle cx="563.08" cy="146.92" r="2.0" fill="#5252f0" stroke="#000" stroke-width="0.7"/>
<circle cx="566.77" cy="147.00" r="2.0" fill="#5252f0" stroke="#000" stroke-width="0.7"/>
<circle cx="570.48" cy="147.03" r="2.0" fill="#5252f0" stroke="#000" stroke-width="0.7"/>
<circle cx="574.17" cy="147.04" r="2.0" fill="#5252f0" stroke="#000" stroke-width="0.7"/>
<circle cx="577.88" cy="147.03" r="2.0" fill="#5252f0" stroke="#000" stroke-width="0.7"/>
<circle cx="581.58" cy="147.01" r="2.0" fill="#5252f0" stroke="#000" stroke-width="0.7"/>
<circle cx="585.27" cy="146.97" r="2.0" fill="#5252f0" stroke="#000" stroke-width="0.7"/>
<circle cx="588.98" cy="146.91" r="2.0" fill="#5252f0" stroke="#000" stroke-width="0.7"/>
<circle cx="592.67" cy="146.81" r="2.0" fill="#5252f0" stroke="#000" stroke-width="0.7"/>
<circle cx="596.38" cy="146.64" r="2.0" fill="#5252f0" stroke="#000" stroke-width="0.7"/>
<circle cx="600.08" cy="146.34" r="2.0" fill="#5252f0" stroke="#000" stroke-width="0.7"/>
<circle cx="603.77" cy="145.86" r="2.0" fill="#5252f0" stroke="#000" stroke-width="0.7"/>
<circle cx="607.48" cy="145.05" r="2.0" fill="#5252f0" stroke="#000" stroke-width="0.7"/>
<circle cx="611.17" cy="143.73" r="2.0" fill="#5252f0" stroke="#000" stroke-width="0.7"/>
<circle cx="614.88" cy="141.62" r="2.0" fill="#5252f0" stroke="#000" stroke-width="0.7"/>
<circle cx="618.58" cy="138.35" r="2.0" fill="#5252f0" stroke="#000" stroke-width="0.7"/>
<circle cx="622.27" cy="133.57" r="2.0" fill="#5252f0" stroke="#000" stroke-width="0.7"/>
<circle cx="625.98" cy="127.09" r="2.0" fill="#5252f0" stroke="#000" stroke-width="0.7"/>
<circle cx="629.67" cy="119.18" r="2.0" fill="#5252f0" stroke="#000" stroke-width="0.7"/>
<circle cx="633.38" cy="111.32" r="2.0" fill="#5252f0" stroke="#000" stroke-width="0.7"/>
<circle cx="637.08" cy="104.56" r="2.0" fill="#5252f0" stroke="#000" stroke-width="0.7"/>
<circle cx="640.77" cy="98.63" r="2.0" fill="#5252f0" stroke="#000" stroke-width="0.7"/>
<circle cx="644.48" cy="93.82" r="2.0" fill="#5252f0" stroke="#000" stroke-width="0.7"/>
<circle cx="648.17" cy="90.16" r="2.0" fill="#5252f0" stroke="#000" stroke-width="0.7"/>
<circle cx="651.88" cy="87.51" r="2.0" fill="#5252f0" stroke="#000" stroke-width="0.7"/>
<circle cx="655.58" cy="85.66" r="2.0" fill="#5252f0" stroke="#000" stroke-width="0.7"/>
<path d="M552.5 50.5H564.5" stroke="#2828d8" stroke-width="1.1"/>
<circle cx="558.5" cy="50.5" r="2.2" fill="#5252f0" stroke="#000" stroke-width="1.0"/>
<text x="570.8" y="52.85" font-size="7.8" class="lg">Acro</text>
<path d="M552.5 62.2H564.5" stroke="#000" stroke-width="1.1"/>
<circle cx="558.5" cy="62.2" r="2.2" fill="#000"/>
<text x="570.8" y="64.55" font-size="7.8" class="lg">PBS</text>
<text x="3.0" y="200.10000000000002" font-size="9.8" font-weight="bold" fill="#000" stroke="#000" stroke-width="0.25">e</text>
<text x="103.0" y="200.8" font-size="9.1" text-anchor="middle" class="t">Biosynex buffer</text>
<text x="103.0" y="214.20000000000002" font-size="9.1" text-anchor="middle" class="t">(3.09x10<tspan dy="-3.6" font-size="6.5">6</tspan><tspan dy="3.6"> TCID</tspan><tspan dy="2.6" font-size="6.6">50</tspan><tspan dy="-2.6">/ml)</tspan></text>
<path d="M47.5 231.5H158.5V341.5" fill="none" stroke="#3c3c3c" stroke-width="1.0"/>
<path d="M47.5 231.5V341.5H158.5" fill="none" stroke="#111" stroke-width="1.1"/>
<path d="M44.3 341.5H47.5" stroke="#111" stroke-width="1"/>
<text x="42.9" y="344.38" font-size="9.2" text-anchor="end" class="t">0</text>
<path d="M44.3 304.8333333333333H47.5" stroke="#111" stroke-width="1"/>
<text x="42.9" y="307.7133333333333" font-size="9.4" text-anchor="end" class="t">1×10<tspan dy="-3.9" font-size="5.8">6</tspan></text>
<path d="M44.3 268.1666666666667H47.5" stroke="#111" stroke-width="1"/>
<text x="42.9" y="271.0466666666667" font-size="9.4" text-anchor="end" class="t">2×10<tspan dy="-3.9" font-size="5.8">6</tspan></text>
<path d="M44.3 231.5H47.5" stroke="#111" stroke-width="1"/>
<text x="42.9" y="234.38000000000002" font-size="9.4" text-anchor="end" class="t">3×10<tspan dy="-3.9" font-size="5.8">6</tspan></text>
<path d="M47.5 341.5V344.4" stroke="#111" stroke-width="1"/>
<text x="47.5" y="354.4" font-size="8.6" text-anchor="middle" class="t">0</text>
<path d="M84.5 341.5V344.4" stroke="#111" stroke-width="1"/>
<text x="84.5" y="354.4" font-size="8.6" text-anchor="middle" class="t">10</text>
<path d="M121.5 341.5V344.4" stroke="#111" stroke-width="1"/>
<text x="121.5" y="354.4" font-size="8.6" text-anchor="middle" class="t">20</text>
<path d="M158.5 341.5V344.4" stroke="#111" stroke-width="1"/>
<text x="158.5" y="354.4" font-size="8.6" text-anchor="middle" class="t">30</text>
<text x="103.0" y="367.9" font-size="8.7" text-anchor="middle" class="t">minutes</text>
<text transform="translate(12.899999999999999 283.1) rotate(-90)" x="0" y="0" font-size="9.5" text-anchor="middle" class="t">Fluorescence (R)</text>
<polyline points="50.27,331.23 53.98,333.55 57.67,334.40 61.38,334.71 65.08,334.82 68.78,334.86 72.47,334.86 76.17,334.83 79.88,334.76 83.58,334.62 87.28,334.33 90.97,333.74 94.68,332.56 98.38,330.24 102.08,325.88 105.78,318.23 109.47,306.43 113.17,291.33 116.88,280.19 120.58,270.47 124.28,262.69 127.98,256.98 131.68,253.05 135.38,250.48 139.07,248.83 142.78,247.80 146.48,247.17 150.18,246.78 153.88,246.54 157.57,246.39" fill="none" stroke="#000" stroke-width="0.8"/>
<circle cx="50.27" cy="331.23" r="2.2" fill="#000"/>
<circle cx="53.98" cy="333.55" r="2.2" fill="#000"/>
<circle cx="57.67" cy="334.40" r="2.2" fill="#000"/>
<circle cx="61.38" cy="334.71" r="2.2" fill="#000"/>
<circle cx="65.08" cy="334.82" r="2.2" fill="#000"/>
<circle cx="68.78" cy="334.86" r="2.2" fill="#000"/>
<circle cx="72.47" cy="334.86" r="2.2" fill="#000"/>
<circle cx="76.17" cy="334.83" r="2.2" fill="#000"/>
<circle cx="79.88" cy="334.76" r="2.2" fill="#000"/>
<circle cx="83.58" cy="334.62" r="2.2" fill="#000"/>
<circle cx="87.28" cy="334.33" r="2.2" fill="#000"/>
<circle cx="90.97" cy="333.74" r="2.2" fill="#000"/>
<circle cx="94.68" cy="332.56" r="2.2" fill="#000"/>
<circle cx="98.38" cy="330.24" r="2.2" fill="#000"/>
<circle cx="102.08" cy="325.88" r="2.2" fill="#000"/>
<circle cx="105.78" cy="318.23" r="2.2" fill="#000"/>
<circle cx="109.47" cy="306.43" r="2.2" fill="#000"/>
<circle cx="113.17" cy="291.33" r="2.2" fill="#000"/>
<circle cx="116.88" cy="280.19" r="2.2" fill="#000"/>
<circle cx="120.58" cy="270.47" r="2.2" fill="#000"/>
<circle cx="124.28" cy="262.69" r="2.2" fill="#000"/>
<circle cx="127.98" cy="256.98" r="2.2" fill="#000"/>
<circle cx="131.68" cy="253.05" r="2.2" fill="#000"/>
<circle cx="135.38" cy="250.48" r="2.2" fill="#000"/>
<circle cx="139.07" cy="248.83" r="2.2" fill="#000"/>
<circle cx="142.78" cy="247.80" r="2.2" fill="#000"/>
<circle cx="146.48" cy="247.17" r="2.2" fill="#000"/>
<circle cx="150.18" cy="246.78" r="2.2" fill="#000"/>
<circle cx="153.88" cy="246.54" r="2.2" fill="#000"/>
<circle cx="157.57" cy="246.39" r="2.2" fill="#000"/>
<polyline points="50.27,331.23 53.98,333.55 57.67,334.40 61.38,334.72 65.08,334.83 68.78,334.87 72.47,334.88 76.17,334.87 79.88,334.85 83.58,334.81 87.28,334.71 90.97,334.52 94.68,334.12 98.38,333.32 102.08,331.76 105.78,328.77 109.47,323.45 113.17,314.98 116.88,303.67 120.58,294.26 124.28,286.51 127.98,280.17 131.68,275.45 135.38,272.17 139.07,270.00 142.78,268.60 146.48,267.73 150.18,267.19 153.88,266.85 157.57,266.65" fill="none" stroke="#000" stroke-width="0.8"/>
<circle cx="50.27" cy="331.23" r="2.2" fill="#000"/>
<circle cx="53.98" cy="333.55" r="2.2" fill="#000"/>
<circle cx="57.67" cy="334.40" r="2.2" fill="#000"/>
<circle cx="61.38" cy="334.72" r="2.2" fill="#000"/>
<circle cx="65.08" cy="334.83" r="2.2" fill="#000"/>
<circle cx="68.78" cy="334.87" r="2.2" fill="#000"/>
<circle cx="72.47" cy="334.88" r="2.2" fill="#000"/>
<circle cx="76.17" cy="334.87" r="2.2" fill="#000"/>
<circle cx="79.88" cy="334.85" r="2.2" fill="#000"/>
<circle cx="83.58" cy="334.81" r="2.2" fill="#000"/>
<circle cx="87.28" cy="334.71" r="2.2" fill="#000"/>
<circle cx="90.97" cy="334.52" r="2.2" fill="#000"/>
<circle cx="94.68" cy="334.12" r="2.2" fill="#000"/>
<circle cx="98.38" cy="333.32" r="2.2" fill="#000"/>
<circle cx="102.08" cy="331.76" r="2.2" fill="#000"/>
<circle cx="105.78" cy="328.77" r="2.2" fill="#000"/>
<circle cx="109.47" cy="323.45" r="2.2" fill="#000"/>
<circle cx="113.17" cy="314.98" r="2.2" fill="#000"/>
<circle cx="116.88" cy="303.67" r="2.2" fill="#000"/>
<circle cx="120.58" cy="294.26" r="2.2" fill="#000"/>
<circle cx="124.28" cy="286.51" r="2.2" fill="#000"/>
<circle cx="127.98" cy="280.17" r="2.2" fill="#000"/>
<circle cx="131.68" cy="275.45" r="2.2" fill="#000"/>
<circle cx="135.38" cy="272.17" r="2.2" fill="#000"/>
<circle cx="139.07" cy="270.00" r="2.2" fill="#000"/>
<circle cx="142.78" cy="268.60" r="2.2" fill="#000"/>
<circle cx="146.48" cy="267.73" r="2.2" fill="#000"/>
<circle cx="150.18" cy="267.19" r="2.2" fill="#000"/>
<circle cx="153.88" cy="266.85" r="2.2" fill="#000"/>
<circle cx="157.57" cy="266.65" r="2.2" fill="#000"/>
<polyline points="50.27,331.23 53.98,333.55 57.67,334.40 61.38,334.72 65.08,334.83 68.78,334.87 72.47,334.88 76.17,334.88 79.88,334.86 83.58,334.83 87.28,334.77 90.97,334.66 94.68,334.46 98.38,334.08 102.08,333.39 105.78,332.13 109.47,329.93 113.17,326.23 116.88,320.51 120.58,312.64 124.28,303.97 127.98,298.29 131.68,293.07 135.38,288.56 139.07,284.90 142.78,282.06 146.48,279.93 150.18,278.38 153.88,277.27 157.57,276.50" fill="none" stroke="#000" stroke-width="0.8"/>
<circle cx="50.27" cy="331.23" r="2.2" fill="#000"/>
<circle cx="53.98" cy="333.55" r="2.2" fill="#000"/>
<circle cx="57.67" cy="334.40" r="2.2" fill="#000"/>
<circle cx="61.38" cy="334.72" r="2.2" fill="#000"/>
<circle cx="65.08" cy="334.83" r="2.2" fill="#000"/>
<circle cx="68.78" cy="334.87" r="2.2" fill="#000"/>
<circle cx="72.47" cy="334.88" r="2.2" fill="#000"/>
<circle cx="76.17" cy="334.88" r="2.2" fill="#000"/>
<circle cx="79.88" cy="334.86" r="2.2" fill="#000"/>
<circle cx="83.58" cy="334.83" r="2.2" fill="#000"/>
<circle cx="87.28" cy="334.77" r="2.2" fill="#000"/>
<circle cx="90.97" cy="334.66" r="2.2" fill="#000"/>
<circle cx="94.68" cy="334.46" r="2.2" fill="#000"/>
<circle cx="98.38" cy="334.08" r="2.2" fill="#000"/>
<circle cx="102.08" cy="333.39" r="2.2" fill="#000"/>
<circle cx="105.78" cy="332.13" r="2.2" fill="#000"/>
<circle cx="109.47" cy="329.93" r="2.2" fill="#000"/>
<circle cx="113.17" cy="326.23" r="2.2" fill="#000"/>
<circle cx="116.88" cy="320.51" r="2.2" fill="#000"/>
<circle cx="120.58" cy="312.64" r="2.2" fill="#000"/>
<circle cx="124.28" cy="303.97" r="2.2" fill="#000"/>
<circle cx="127.98" cy="298.29" r="2.2" fill="#000"/>
<circle cx="131.68" cy="293.07" r="2.2" fill="#000"/>
<circle cx="135.38" cy="288.56" r="2.2" fill="#000"/>
<circle cx="139.07" cy="284.90" r="2.2" fill="#000"/>
<circle cx="142.78" cy="282.06" r="2.2" fill="#000"/>
<circle cx="146.48" cy="279.93" r="2.2" fill="#000"/>
<circle cx="150.18" cy="278.38" r="2.2" fill="#000"/>
<circle cx="153.88" cy="277.27" r="2.2" fill="#000"/>
<circle cx="157.57" cy="276.50" r="2.2" fill="#000"/>
<polyline points="50.27,326.83 53.98,331.24 57.67,332.85 61.38,333.45 65.08,333.66 68.78,333.73 72.47,333.74 76.17,333.72 79.88,333.64 83.58,333.48 87.28,333.14 90.97,332.47 94.68,331.13 98.38,328.52 102.08,323.70 105.78,315.51 109.47,303.48 113.17,290.17 116.88,280.30 120.58,271.80 124.28,265.18 127.98,260.43 131.68,257.21 135.38,255.12 139.07,253.80 142.78,252.97 146.48,252.46 150.18,252.15 153.88,251.96 157.57,251.85" fill="none" stroke="#b41ef0" stroke-width="0.8"/>
<circle cx="50.27" cy="326.83" r="2.0" fill="#b41ef0" stroke="#000" stroke-width="0.7"/>
<circle cx="53.98" cy="331.24" r="2.0" fill="#b41ef0" stroke="#000" stroke-width="0.7"/>
<circle cx="57.67" cy="332.85" r="2.0" fill="#b41ef0" stroke="#000" stroke-width="0.7"/>
<circle cx="61.38" cy="333.45" r="2.0" fill="#b41ef0" stroke="#000" stroke-width="0.7"/>
<circle cx="65.08" cy="333.66" r="2.0" fill="#b41ef0" stroke="#000" stroke-width="0.7"/>
<circle cx="68.78" cy="333.73" r="2.0" fill="#b41ef0" stroke="#000" stroke-width="0.7"/>
<circle cx="72.47" cy="333.74" r="2.0" fill="#b41ef0" stroke="#000" stroke-width="0.7"/>
<circle cx="76.17" cy="333.72" r="2.0" fill="#b41ef0" stroke="#000" stroke-width="0.7"/>
<circle cx="79.88" cy="333.64" r="2.0" fill="#b41ef0" stroke="#000" stroke-width="0.7"/>
<circle cx="83.58" cy="333.48" r="2.0" fill="#b41ef0" stroke="#000" stroke-width="0.7"/>
<circle cx="87.28" cy="333.14" r="2.0" fill="#b41ef0" stroke="#000" stroke-width="0.7"/>
<circle cx="90.97" cy="332.47" r="2.0" fill="#b41ef0" stroke="#000" stroke-width="0.7"/>
<circle cx="94.68" cy="331.13" r="2.0" fill="#b41ef0" stroke="#000" stroke-width="0.7"/>
<circle cx="98.38" cy="328.52" r="2.0" fill="#b41ef0" stroke="#000" stroke-width="0.7"/>
<circle cx="102.08" cy="323.70" r="2.0" fill="#b41ef0" stroke="#000" stroke-width="0.7"/>
<circle cx="105.78" cy="315.51" r="2.0" fill="#b41ef0" stroke="#000" stroke-width="0.7"/>
<circle cx="109.47" cy="303.48" r="2.0" fill="#b41ef0" stroke="#000" stroke-width="0.7"/>
<circle cx="113.17" cy="290.17" r="2.0" fill="#b41ef0" stroke="#000" stroke-width="0.7"/>
<circle cx="116.88" cy="280.30" r="2.0" fill="#b41ef0" stroke="#000" stroke-width="0.7"/>
<circle cx="120.58" cy="271.80" r="2.0" fill="#b41ef0" stroke="#000" stroke-width="0.7"/>
<circle cx="124.28" cy="265.18" r="2.0" fill="#b41ef0" stroke="#000" stroke-width="0.7"/>
<circle cx="127.98" cy="260.43" r="2.0" fill="#b41ef0" stroke="#000" stroke-width="0.7"/>
<circle cx="131.68" cy="257.21" r="2.0" fill="#b41ef0" stroke="#000" stroke-width="0.7"/>
<circle cx="135.38" cy="255.12" r="2.0" fill="#b41ef0" stroke="#000" stroke-width="0.7"/>
<circle cx="139.07" cy="253.80" r="2.0" fill="#b41ef0" stroke="#000" stroke-width="0.7"/>
<circle cx="142.78" cy="252.97" r="2.0" fill="#b41ef0" stroke="#000" stroke-width="0.7"/>
<circle cx="146.48" cy="252.46" r="2.0" fill="#b41ef0" stroke="#000" stroke-width="0.7"/>
<circle cx="150.18" cy="252.15" r="2.0" fill="#b41ef0" stroke="#000" stroke-width="0.7"/>
<circle cx="153.88" cy="251.96" r="2.0" fill="#b41ef0" stroke="#000" stroke-width="0.7"/>
<circle cx="157.57" cy="251.85" r="2.0" fill="#b41ef0" stroke="#000" stroke-width="0.7"/>
<polyline points="50.27,331.97 53.98,335.21 57.67,336.40 61.38,336.84 65.08,337.00 68.78,337.06 72.47,337.08 76.17,337.08 79.88,337.06 83.58,337.02 87.28,336.94 90.97,336.77 94.68,336.42 98.38,335.73 102.08,334.37 105.78,331.76 109.47,327.07 113.17,319.49 116.88,309.17 120.58,299.50 124.28,291.52 127.98,285.21 131.68,280.72 135.38,277.78 139.07,275.95 142.78,274.85 146.48,274.20 150.18,273.82 153.88,273.60 157.57,273.47" fill="none" stroke="#b41ef0" stroke-width="0.8"/>
<circle cx="50.27" cy="331.97" r="2.0" fill="#b41ef0" stroke="#000" stroke-width="0.7"/>
<circle cx="53.98" cy="335.21" r="2.0" fill="#b41ef0" stroke="#000" stroke-width="0.7"/>
<circle cx="57.67" cy="336.40" r="2.0" fill="#b41ef0" stroke="#000" stroke-width="0.7"/>
<circle cx="61.38" cy="336.84" r="2.0" fill="#b41ef0" stroke="#000" stroke-width="0.7"/>
<circle cx="65.08" cy="337.00" r="2.0" fill="#b41ef0" stroke="#000" stroke-width="0.7"/>
<circle cx="68.78" cy="337.06" r="2.0" fill="#b41ef0" stroke="#000" stroke-width="0.7"/>
<circle cx="72.47" cy="337.08" r="2.0" fill="#b41ef0" stroke="#000" stroke-width="0.7"/>
<circle cx="76.17" cy="337.08" r="2.0" fill="#b41ef0" stroke="#000" stroke-width="0.7"/>
<circle cx="79.88" cy="337.06" r="2.0" fill="#b41ef0" stroke="#000" stroke-width="0.7"/>
<circle cx="83.58" cy="337.02" r="2.0" fill="#b41ef0" stroke="#000" stroke-width="0.7"/>
<circle cx="87.28" cy="336.94" r="2.0" fill="#b41ef0" stroke="#000" stroke-width="0.7"/>
<circle cx="90.97" cy="336.77" r="2.0" fill="#b41ef0" stroke="#000" stroke-width="0.7"/>
<circle cx="94.68" cy="336.42" r="2.0" fill="#b41ef0" stroke="#000" stroke-width="0.7"/>
<circle cx="98.38" cy="335.73" r="2.0" fill="#b41ef0" stroke="#000" stroke-width="0.7"/>
<circle cx="102.08" cy="334.37" r="2.0" fill="#b41ef0" stroke="#000" stroke-width="0.7"/>
<circle cx="105.78" cy="331.76" r="2.0" fill="#b41ef0" stroke="#000" stroke-width="0.7"/>
<circle cx="109.47" cy="327.07" r="2.0" fill="#b41ef0" stroke="#000" stroke-width="0.7"/>
<circle cx="113.17" cy="319.49" r="2.0" fill="#b41ef0" stroke="#000" stroke-width="0.7"/>
<circle cx="116.88" cy="309.17" r="2.0" fill="#b41ef0" stroke="#000" stroke-width="0.7"/>
<circle cx="120.58" cy="299.50" r="2.0" fill="#b41ef0" stroke="#000" stroke-width="0.7"/>
<circle cx="124.28" cy="291.52" r="2.0" fill="#b41ef0" stroke="#000" stroke-width="0.7"/>
<circle cx="127.98" cy="285.21" r="2.0" fill="#b41ef0" stroke="#000" stroke-width="0.7"/>
<circle cx="131.68" cy="280.72" r="2.0" fill="#b41ef0" stroke="#000" stroke-width="0.7"/>
<circle cx="135.38" cy="277.78" r="2.0" fill="#b41ef0" stroke="#000" stroke-width="0.7"/>
<circle cx="139.07" cy="275.95" r="2.0" fill="#b41ef0" stroke="#000" stroke-width="0.7"/>
<circle cx="142.78" cy="274.85" r="2.0" fill="#b41ef0" stroke="#000" stroke-width="0.7"/>
<circle cx="146.48" cy="274.20" r="2.0" fill="#b41ef0" stroke="#000" stroke-width="0.7"/>
<circle cx="150.18" cy="273.82" r="2.0" fill="#b41ef0" stroke="#000" stroke-width="0.7"/>
<circle cx="153.88" cy="273.60" r="2.0" fill="#b41ef0" stroke="#000" stroke-width="0.7"/>
<circle cx="157.57" cy="273.47" r="2.0" fill="#b41ef0" stroke="#000" stroke-width="0.7"/>
<polyline points="50.27,331.97 53.98,335.21 57.67,336.41 61.38,336.84 65.08,337.01 68.78,337.06 72.47,337.08 76.17,337.09 79.88,337.09 83.58,337.08 87.28,337.07 90.97,337.04 94.68,336.99 98.38,336.90 102.08,336.73 105.78,336.42 109.47,335.84 113.17,334.79 116.88,332.91 120.58,329.70 124.28,324.54 127.98,317.06 131.68,307.69 135.38,300.63 139.07,294.85 142.78,289.74 146.48,285.50 150.18,282.14 153.88,279.60 157.57,277.73" fill="none" stroke="#b41ef0" stroke-width="0.8"/>
<circle cx="50.27" cy="331.97" r="2.0" fill="#b41ef0" stroke="#000" stroke-width="0.7"/>
<circle cx="53.98" cy="335.21" r="2.0" fill="#b41ef0" stroke="#000" stroke-width="0.7"/>
<circle cx="57.67" cy="336.41" r="2.0" fill="#b41ef0" stroke="#000" stroke-width="0.7"/>
<circle cx="61.38" cy="336.84" r="2.0" fill="#b41ef0" stroke="#000" stroke-width="0.7"/>
<circle cx="65.08" cy="337.01" r="2.0" fill="#b41ef0" stroke="#000" stroke-width="0.7"/>
<circle cx="68.78" cy="337.06" r="2.0" fill="#b41ef0" stroke="#000" stroke-width="0.7"/>
<circle cx="72.47" cy="337.08" r="2.0" fill="#b41ef0" stroke="#000" stroke-width="0.7"/>
<circle cx="76.17" cy="337.09" r="2.0" fill="#b41ef0" stroke="#000" stroke-width="0.7"/>
<circle cx="79.88" cy="337.09" r="2.0" fill="#b41ef0" stroke="#000" stroke-width="0.7"/>
<circle cx="83.58" cy="337.08" r="2.0" fill="#b41ef0" stroke="#000" stroke-width="0.7"/>
<circle cx="87.28" cy="337.07" r="2.0" fill="#b41ef0" stroke="#000" stroke-width="0.7"/>
<circle cx="90.97" cy="337.04" r="2.0" fill="#b41ef0" stroke="#000" stroke-width="0.7"/>
<circle cx="94.68" cy="336.99" r="2.0" fill="#b41ef0" stroke="#000" stroke-width="0.7"/>
<circle cx="98.38" cy="336.90" r="2.0" fill="#b41ef0" stroke="#000" stroke-width="0.7"/>
<circle cx="102.08" cy="336.73" r="2.0" fill="#b41ef0" stroke="#000" stroke-width="0.7"/>
<circle cx="105.78" cy="336.42" r="2.0" fill="#b41ef0" stroke="#000" stroke-width="0.7"/>
<circle cx="109.47" cy="335.84" r="2.0" fill="#b41ef0" stroke="#000" stroke-width="0.7"/>
<circle cx="113.17" cy="334.79" r="2.0" fill="#b41ef0" stroke="#000" stroke-width="0.7"/>
<circle cx="116.88" cy="332.91" r="2.0" fill="#b41ef0" stroke="#000" stroke-width="0.7"/>
<circle cx="120.58" cy="329.70" r="2.0" fill="#b41ef0" stroke="#000" stroke-width="0.7"/>
<circle cx="124.28" cy="324.54" r="2.0" fill="#b41ef0" stroke="#000" stroke-width="0.7"/>
<circle cx="127.98" cy="317.06" r="2.0" fill="#b41ef0" stroke="#000" stroke-width="0.7"/>
<circle cx="131.68" cy="307.69" r="2.0" fill="#b41ef0" stroke="#000" stroke-width="0.7"/>
<circle cx="135.38" cy="300.63" r="2.0" fill="#b41ef0" stroke="#000" stroke-width="0.7"/>
<circle cx="139.07" cy="294.85" r="2.0" fill="#b41ef0" stroke="#000" stroke-width="0.7"/>
<circle cx="142.78" cy="289.74" r="2.0" fill="#b41ef0" stroke="#000" stroke-width="0.7"/>
<circle cx="146.48" cy="285.50" r="2.0" fill="#b41ef0" stroke="#000" stroke-width="0.7"/>
<circle cx="150.18" cy="282.14" r="2.0" fill="#b41ef0" stroke="#000" stroke-width="0.7"/>
<circle cx="153.88" cy="279.60" r="2.0" fill="#b41ef0" stroke="#000" stroke-width="0.7"/>
<circle cx="157.57" cy="277.73" r="2.0" fill="#b41ef0" stroke="#000" stroke-width="0.7"/>
<path d="M54.5 240.1H66.5" stroke="#b41ef0" stroke-width="1.1"/>
<circle cx="60.5" cy="240.1" r="2.2" fill="#b41ef0" stroke="#000" stroke-width="1.0"/>
<text x="72.8" y="242.45" font-size="7.8" class="lg">BioSynex</text>
<path d="M54.5 251.6H66.5" stroke="#000" stroke-width="1.1"/>
<circle cx="60.5" cy="251.6" r="2.2" fill="#000"/>
<text x="72.8" y="253.95" font-size="7.8" class="lg">PBS</text>
<text x="168.8" y="200.10000000000002" font-size="9.8" font-weight="bold" fill="#000" stroke="#000" stroke-width="0.25">f</text>
<text x="269.0" y="200.8" font-size="9.1" text-anchor="middle" class="t">SD Biosensor buffer</text>
<text x="269.0" y="214.20000000000002" font-size="9.1" text-anchor="middle" class="t">(3.09x10<tspan dy="-3.6" font-size="6.5">6</tspan><tspan dy="3.6"> TCID</tspan><tspan dy="2.6" font-size="6.6">50</tspan><tspan dy="-2.6">/ml)</tspan></text>
<path d="M213.5 231.5H324.5V341.5" fill="none" stroke="#3c3c3c" stroke-width="1.0"/>
<path d="M213.5 231.5V341.5H324.5" fill="none" stroke="#111" stroke-width="1.1"/>
<path d="M210.3 341.5H213.5" stroke="#111" stroke-width="1"/>
<text x="208.9" y="344.38" font-size="9.2" text-anchor="end" class="t">0</text>
<path d="M210.3 304.8333333333333H213.5" stroke="#111" stroke-width="1"/>
<text x="208.9" y="307.7133333333333" font-size="9.4" text-anchor="end" class="t">1×10<tspan dy="-3.9" font-size="5.8">6</tspan></text>
<path d="M210.3 268.1666666666667H213.5" stroke="#111" stroke-width="1"/>
<text x="208.9" y="271.0466666666667" font-size="9.4" text-anchor="end" class="t">2×10<tspan dy="-3.9" font-size="5.8">6</tspan></text>
<path d="M210.3 231.5H213.5" stroke="#111" stroke-width="1"/>
<text x="208.9" y="234.38000000000002" font-size="9.4" text-anchor="end" class="t">3×10<tspan dy="-3.9" font-size="5.8">6</tspan></text>
<path d="M213.5 341.5V344.4" stroke="#111" stroke-width="1"/>
<text x="213.5" y="354.4" font-size="8.6" text-anchor="middle" class="t">0</text>
<path d="M250.5 341.5V344.4" stroke="#111" stroke-width="1"/>
<text x="250.5" y="354.4" font-size="8.6" text-anchor="middle" class="t">10</text>
<path d="M287.5 341.5V344.4" stroke="#111" stroke-width="1"/>
<text x="287.5" y="354.4" font-size="8.6" text-anchor="middle" class="t">20</text>
<path d="M324.5 341.5V344.4" stroke="#111" stroke-width="1"/>
<text x="324.5" y="354.4" font-size="8.6" text-anchor="middle" class="t">30</text>
<text x="269.0" y="367.9" font-size="8.7" text-anchor="middle" class="t">minutes</text>
<text transform="translate(178.9 283.1) rotate(-90)" x="0" y="0" font-size="9.5" text-anchor="middle" class="t">Fluorescence (R)</text>
<polyline points="216.28,331.60 219.97,334.38 223.68,335.40 227.38,335.78 231.07,335.91 234.78,335.95 238.47,335.96 242.18,335.94 245.88,335.89 249.57,335.79 253.28,335.61 256.98,335.28 260.68,334.66 264.38,333.54 268.07,331.55 271.77,328.13 275.48,322.65 279.18,314.70 282.88,304.73 286.57,295.47 290.27,287.48 293.98,281.08 297.68,276.44 301.38,273.31 305.07,271.30 308.77,270.06 312.48,269.30 316.18,268.84 319.88,268.57 323.57,268.40" fill="none" stroke="#3a80d0" stroke-width="0.8"/>
<circle cx="216.28" cy="331.60" r="2.0" fill="#52a6ff" stroke="#000" stroke-width="0.7"/>
<circle cx="219.97" cy="334.38" r="2.0" fill="#52a6ff" stroke="#000" stroke-width="0.7"/>
<circle cx="223.68" cy="335.40" r="2.0" fill="#52a6ff" stroke="#000" stroke-width="0.7"/>
<circle cx="227.38" cy="335.78" r="2.0" fill="#52a6ff" stroke="#000" stroke-width="0.7"/>
<circle cx="231.07" cy="335.91" r="2.0" fill="#52a6ff" stroke="#000" stroke-width="0.7"/>
<circle cx="234.78" cy="335.95" r="2.0" fill="#52a6ff" stroke="#000" stroke-width="0.7"/>
<circle cx="238.47" cy="335.96" r="2.0" fill="#52a6ff" stroke="#000" stroke-width="0.7"/>
<circle cx="242.18" cy="335.94" r="2.0" fill="#52a6ff" stroke="#000" stroke-width="0.7"/>
<circle cx="245.88" cy="335.89" r="2.0" fill="#52a6ff" stroke="#000" stroke-width="0.7"/>
<circle cx="249.57" cy="335.79" r="2.0" fill="#52a6ff" stroke="#000" stroke-width="0.7"/>
<circle cx="253.28" cy="335.61" r="2.0" fill="#52a6ff" stroke="#000" stroke-width="0.7"/>
<circle cx="256.98" cy="335.28" r="2.0" fill="#52a6ff" stroke="#000" stroke-width="0.7"/>
<circle cx="260.68" cy="334.66" r="2.0" fill="#52a6ff" stroke="#000" stroke-width="0.7"/>
<circle cx="264.38" cy="333.54" r="2.0" fill="#52a6ff" stroke="#000" stroke-width="0.7"/>
<circle cx="268.07" cy="331.55" r="2.0" fill="#52a6ff" stroke="#000" stroke-width="0.7"/>
<circle cx="271.77" cy="328.13" r="2.0" fill="#52a6ff" stroke="#000" stroke-width="0.7"/>
<circle cx="275.48" cy="322.65" r="2.0" fill="#52a6ff" stroke="#000" stroke-width="0.7"/>
<circle cx="279.18" cy="314.70" r="2.0" fill="#52a6ff" stroke="#000" stroke-width="0.7"/>
<circle cx="282.88" cy="304.73" r="2.0" fill="#52a6ff" stroke="#000" stroke-width="0.7"/>
<circle cx="286.57" cy="295.47" r="2.0" fill="#52a6ff" stroke="#000" stroke-width="0.7"/>
<circle cx="290.27" cy="287.48" r="2.0" fill="#52a6ff" stroke="#000" stroke-width="0.7"/>
<circle cx="293.98" cy="281.08" r="2.0" fill="#52a6ff" stroke="#000" stroke-width="0.7"/>
<circle cx="297.68" cy="276.44" r="2.0" fill="#52a6ff" stroke="#000" stroke-width="0.7"/>
<circle cx="301.38" cy="273.31" r="2.0" fill="#52a6ff" stroke="#000" stroke-width="0.7"/>
<circle cx="305.07" cy="271.30" r="2.0" fill="#52a6ff" stroke="#000" stroke-width="0.7"/>
<circle cx="308.77" cy="270.06" r="2.0" fill="#52a6ff" stroke="#000" stroke-width="0.7"/>
<circle cx="312.48" cy="269.30" r="2.0" fill="#52a6ff" stroke="#000" stroke-width="0.7"/>
<circle cx="316.18" cy="268.84" r="2.0" fill="#52a6ff" stroke="#000" stroke-width="0.7"/>
<circle cx="319.88" cy="268.57" r="2.0" fill="#52a6ff" stroke="#000" stroke-width="0.7"/>
<circle cx="323.57" cy="268.40" r="2.0" fill="#52a6ff" stroke="#000" stroke-width="0.7"/>
<polyline points="216.28,331.60 219.97,334.38 223.68,335.40 227.38,335.78 231.07,335.91 234.78,335.96 238.47,335.97 242.18,335.97 245.88,335.94 249.57,335.89 253.28,335.80 256.98,335.63 260.68,335.30 264.38,334.71 268.07,333.64 271.77,331.72 275.48,328.43 279.18,323.15 282.88,315.50 286.57,305.91 290.27,297.32 293.98,289.94 297.68,283.91 301.38,279.41 305.07,276.29 308.77,274.22 312.48,272.89 316.18,272.06 319.88,271.54 323.57,271.23" fill="none" stroke="#3a80d0" stroke-width="0.8"/>
<circle cx="216.28" cy="331.60" r="2.0" fill="#52a6ff" stroke="#000" stroke-width="0.7"/>
<circle cx="219.97" cy="334.38" r="2.0" fill="#52a6ff" stroke="#000" stroke-width="0.7"/>
<circle cx="223.68" cy="335.40" r="2.0" fill="#52a6ff" stroke="#000" stroke-width="0.7"/>
<circle cx="227.38" cy="335.78" r="2.0" fill="#52a6ff" stroke="#000" stroke-width="0.7"/>
<circle cx="231.07" cy="335.91" r="2.0" fill="#52a6ff" stroke="#000" stroke-width="0.7"/>
<circle cx="234.78" cy="335.96" r="2.0" fill="#52a6ff" stroke="#000" stroke-width="0.7"/>
<circle cx="238.47" cy="335.97" r="2.0" fill="#52a6ff" stroke="#000" stroke-width="0.7"/>
<circle cx="242.18" cy="335.97" r="2.0" fill="#52a6ff" stroke="#000" stroke-width="0.7"/>
<circle cx="245.88" cy="335.94" r="2.0" fill="#52a6ff" stroke="#000" stroke-width="0.7"/>
<circle cx="249.57" cy="335.89" r="2.0" fill="#52a6ff" stroke="#000" stroke-width="0.7"/>
<circle cx="253.28" cy="335.80" r="2.0" fill="#52a6ff" stroke="#000" stroke-width="0.7"/>
<circle cx="256.98" cy="335.63" r="2.0" fill="#52a6ff" stroke="#000" stroke-width="0.7"/>
<circle cx="260.68" cy="335.30" r="2.0" fill="#52a6ff" stroke="#000" stroke-width="0.7"/>
<circle cx="264.38" cy="334.71" r="2.0" fill="#52a6ff" stroke="#000" stroke-width="0.7"/>
<circle cx="268.07" cy="333.64" r="2.0" fill="#52a6ff" stroke="#000" stroke-width="0.7"/>
<circle cx="271.77" cy="331.72" r="2.0" fill="#52a6ff" stroke="#000" stroke-width="0.7"/>
<circle cx="275.48" cy="328.43" r="2.0" fill="#52a6ff" stroke="#000" stroke-width="0.7"/>
<circle cx="279.18" cy="323.15" r="2.0" fill="#52a6ff" stroke="#000" stroke-width="0.7"/>
<circle cx="282.88" cy="315.50" r="2.0" fill="#52a6ff" stroke="#000" stroke-width="0.7"/>
<circle cx="286.57" cy="305.91" r="2.0" fill="#52a6ff" stroke="#000" stroke-width="0.7"/>
<circle cx="290.27" cy="297.32" r="2.0" fill="#52a6ff" stroke="#000" stroke-width="0.7"/>
<circle cx="293.98" cy="289.94" r="2.0" fill="#52a6ff" stroke="#000" stroke-width="0.7"/>
<circle cx="297.68" cy="283.91" r="2.0" fill="#52a6ff" stroke="#000" stroke-width="0.7"/>
<circle cx="301.38" cy="279.41" r="2.0" fill="#52a6ff" stroke="#000" stroke-width="0.7"/>
<circle cx="305.07" cy="276.29" r="2.0" fill="#52a6ff" stroke="#000" stroke-width="0.7"/>
<circle cx="308.77" cy="274.22" r="2.0" fill="#52a6ff" stroke="#000" stroke-width="0.7"/>
<circle cx="312.48" cy="272.89" r="2.0" fill="#52a6ff" stroke="#000" stroke-width="0.7"/>
<circle cx="316.18" cy="272.06" r="2.0" fill="#52a6ff" stroke="#000" stroke-width="0.7"/>
<circle cx="319.88" cy="271.54" r="2.0" fill="#52a6ff" stroke="#000" stroke-width="0.7"/>
<circle cx="323.57" cy="271.23" r="2.0" fill="#52a6ff" stroke="#000" stroke-width="0.7"/>
<polyline points="216.28,331.60 219.97,334.38 223.68,335.40 227.38,335.78 231.07,335.91 234.78,335.96 238.47,335.97 242.18,335.97 245.88,335.95 249.57,335.92 253.28,335.85 256.98,335.73 260.68,335.51 264.38,335.13 268.07,334.44 271.77,333.25 275.48,331.22 279.18,327.88 282.88,322.74 286.57,315.56 290.27,306.78 293.98,299.14 297.68,292.55 301.38,286.98 305.07,282.64 308.77,279.46 312.48,277.24 316.18,275.74 319.88,274.74 323.57,274.09" fill="none" stroke="#3a80d0" stroke-width="0.8"/>
<circle cx="216.28" cy="331.60" r="2.0" fill="#52a6ff" stroke="#000" stroke-width="0.7"/>
<circle cx="219.97" cy="334.38" r="2.0" fill="#52a6ff" stroke="#000" stroke-width="0.7"/>
<circle cx="223.68" cy="335.40" r="2.0" fill="#52a6ff" stroke="#000" stroke-width="0.7"/>
<circle cx="227.38" cy="335.78" r="2.0" fill="#52a6ff" stroke="#000" stroke-width="0.7"/>
<circle cx="231.07" cy="335.91" r="2.0" fill="#52a6ff" stroke="#000" stroke-width="0.7"/>
<circle cx="234.78" cy="335.96" r="2.0" fill="#52a6ff" stroke="#000" stroke-width="0.7"/>
<circle cx="238.47" cy="335.97" r="2.0" fill="#52a6ff" stroke="#000" stroke-width="0.7"/>
<circle cx="242.18" cy="335.97" r="2.0" fill="#52a6ff" stroke="#000" stroke-width="0.7"/>
<circle cx="245.88" cy="335.95" r="2.0" fill="#52a6ff" stroke="#000" stroke-width="0.7"/>
<circle cx="249.57" cy="335.92" r="2.0" fill="#52a6ff" stroke="#000" stroke-width="0.7"/>
<circle cx="253.28" cy="335.85" r="2.0" fill="#52a6ff" stroke="#000" stroke-width="0.7"/>
<circle cx="256.98" cy="335.73" r="2.0" fill="#52a6ff" stroke="#000" stroke-width="0.7"/>
<circle cx="260.68" cy="335.51" r="2.0" fill="#52a6ff" stroke="#000" stroke-width="0.7"/>
<circle cx="264.38" cy="335.13" r="2.0" fill="#52a6ff" stroke="#000" stroke-width="0.7"/>
<circle cx="268.07" cy="334.44" r="2.0" fill="#52a6ff" stroke="#000" stroke-width="0.7"/>
<circle cx="271.77" cy="333.25" r="2.0" fill="#52a6ff" stroke="#000" stroke-width="0.7"/>
<circle cx="275.48" cy="331.22" r="2.0" fill="#52a6ff" stroke="#000" stroke-width="0.7"/>
<circle cx="279.18" cy="327.88" r="2.0" fill="#52a6ff" stroke="#000" stroke-width="0.7"/>
<circle cx="282.88" cy="322.74" r="2.0" fill="#52a6ff" stroke="#000" stroke-width="0.7"/>
<circle cx="286.57" cy="315.56" r="2.0" fill="#52a6ff" stroke="#000" stroke-width="0.7"/>
<circle cx="290.27" cy="306.78" r="2.0" fill="#52a6ff" stroke="#000" stroke-width="0.7"/>
<circle cx="293.98" cy="299.14" r="2.0" fill="#52a6ff" stroke="#000" stroke-width="0.7"/>
<circle cx="297.68" cy="292.55" r="2.0" fill="#52a6ff" stroke="#000" stroke-width="0.7"/>
<circle cx="301.38" cy="286.98" r="2.0" fill="#52a6ff" stroke="#000" stroke-width="0.7"/>
<circle cx="305.07" cy="282.64" r="2.0" fill="#52a6ff" stroke="#000" stroke-width="0.7"/>
<circle cx="308.77" cy="279.46" r="2.0" fill="#52a6ff" stroke="#000" stroke-width="0.7"/>
<circle cx="312.48" cy="277.24" r="2.0" fill="#52a6ff" stroke="#000" stroke-width="0.7"/>
<circle cx="316.18" cy="275.74" r="2.0" fill="#52a6ff" stroke="#000" stroke-width="0.7"/>
<circle cx="319.88" cy="274.74" r="2.0" fill="#52a6ff" stroke="#000" stroke-width="0.7"/>
<circle cx="323.57" cy="274.09" r="2.0" fill="#52a6ff" stroke="#000" stroke-width="0.7"/>
<polyline points="216.28,331.60 219.97,334.38 223.68,335.40 227.38,335.78 231.07,335.92 234.78,335.97 238.47,335.98 242.18,335.98 245.88,335.97 249.57,335.96 253.28,335.92 256.98,335.86 260.68,335.75 264.38,335.55 268.07,335.19 271.77,334.55 275.48,333.44 279.18,331.55 282.88,328.44 286.57,323.67 290.27,316.99 293.98,308.82 297.68,302.12 301.38,296.42 305.07,291.49 308.77,287.50 312.48,284.46 316.18,282.23 319.88,280.66 323.57,279.57" fill="none" stroke="#3a80d0" stroke-width="0.8"/>
<circle cx="216.28" cy="331.60" r="2.0" fill="#52a6ff" stroke="#000" stroke-width="0.7"/>
<circle cx="219.97" cy="334.38" r="2.0" fill="#52a6ff" stroke="#000" stroke-width="0.7"/>
<circle cx="223.68" cy="335.40" r="2.0" fill="#52a6ff" stroke="#000" stroke-width="0.7"/>
<circle cx="227.38" cy="335.78" r="2.0" fill="#52a6ff" stroke="#000" stroke-width="0.7"/>
<circle cx="231.07" cy="335.92" r="2.0" fill="#52a6ff" stroke="#000" stroke-width="0.7"/>
<circle cx="234.78" cy="335.97" r="2.0" fill="#52a6ff" stroke="#000" stroke-width="0.7"/>
<circle cx="238.47" cy="335.98" r="2.0" fill="#52a6ff" stroke="#000" stroke-width="0.7"/>
<circle cx="242.18" cy="335.98" r="2.0" fill="#52a6ff" stroke="#000" stroke-width="0.7"/>
<circle cx="245.88" cy="335.97" r="2.0" fill="#52a6ff" stroke="#000" stroke-width="0.7"/>
<circle cx="249.57" cy="335.96" r="2.0" fill="#52a6ff" stroke="#000" stroke-width="0.7"/>
<circle cx="253.28" cy="335.92" r="2.0" fill="#52a6ff" stroke="#000" stroke-width="0.7"/>
<circle cx="256.98" cy="335.86" r="2.0" fill="#52a6ff" stroke="#000" stroke-width="0.7"/>
<circle cx="260.68" cy="335.75" r="2.0" fill="#52a6ff" stroke="#000" stroke-width="0.7"/>
<circle cx="264.38" cy="335.55" r="2.0" fill="#52a6ff" stroke="#000" stroke-width="0.7"/>
<circle cx="268.07" cy="335.19" r="2.0" fill="#52a6ff" stroke="#000" stroke-width="0.7"/>
<circle cx="271.77" cy="334.55" r="2.0" fill="#52a6ff" stroke="#000" stroke-width="0.7"/>
<circle cx="275.48" cy="333.44" r="2.0" fill="#52a6ff" stroke="#000" stroke-width="0.7"/>
<circle cx="279.18" cy="331.55" r="2.0" fill="#52a6ff" stroke="#000" stroke-width="0.7"/>
<circle cx="282.88" cy="328.44" r="2.0" fill="#52a6ff" stroke="#000" stroke-width="0.7"/>
<circle cx="286.57" cy="323.67" r="2.0" fill="#52a6ff" stroke="#000" stroke-width="0.7"/>
<circle cx="290.27" cy="316.99" r="2.0" fill="#52a6ff" stroke="#000" stroke-width="0.7"/>
<circle cx="293.98" cy="308.82" r="2.0" fill="#52a6ff" stroke="#000" stroke-width="0.7"/>
<circle cx="297.68" cy="302.12" r="2.0" fill="#52a6ff" stroke="#000" stroke-width="0.7"/>
<circle cx="301.38" cy="296.42" r="2.0" fill="#52a6ff" stroke="#000" stroke-width="0.7"/>
<circle cx="305.07" cy="291.49" r="2.0" fill="#52a6ff" stroke="#000" stroke-width="0.7"/>
<circle cx="308.77" cy="287.50" r="2.0" fill="#52a6ff" stroke="#000" stroke-width="0.7"/>
<circle cx="312.48" cy="284.46" r="2.0" fill="#52a6ff" stroke="#000" stroke-width="0.7"/>
<circle cx="316.18" cy="282.23" r="2.0" fill="#52a6ff" stroke="#000" stroke-width="0.7"/>
<circle cx="319.88" cy="280.66" r="2.0" fill="#52a6ff" stroke="#000" stroke-width="0.7"/>
<circle cx="323.57" cy="279.57" r="2.0" fill="#52a6ff" stroke="#000" stroke-width="0.7"/>
<polyline points="216.28,329.75 219.97,333.68 223.68,335.11 227.38,335.61 231.07,335.75 234.78,335.74 238.47,335.63 242.18,335.41 245.88,335.04 249.57,334.42 253.28,333.43 256.98,331.84 260.68,329.34 264.38,325.53 268.07,319.94 271.77,312.28 275.48,302.61 279.18,291.64 282.88,281.53 286.57,272.39 290.27,264.79 293.98,258.96 297.68,254.73 301.38,251.80 305.07,249.83 308.77,248.52 312.48,247.68 316.18,247.13 319.88,246.78 323.57,246.56" fill="none" stroke="#000" stroke-width="0.8"/>
<circle cx="216.28" cy="329.75" r="2.2" fill="#000"/>
<circle cx="219.97" cy="333.68" r="2.2" fill="#000"/>
<circle cx="223.68" cy="335.11" r="2.2" fill="#000"/>
<circle cx="227.38" cy="335.61" r="2.2" fill="#000"/>
<circle cx="231.07" cy="335.75" r="2.2" fill="#000"/>
<circle cx="234.78" cy="335.74" r="2.2" fill="#000"/>
<circle cx="238.47" cy="335.63" r="2.2" fill="#000"/>
<circle cx="242.18" cy="335.41" r="2.2" fill="#000"/>
<circle cx="245.88" cy="335.04" r="2.2" fill="#000"/>
<circle cx="249.57" cy="334.42" r="2.2" fill="#000"/>
<circle cx="253.28" cy="333.43" r="2.2" fill="#000"/>
<circle cx="256.98" cy="331.84" r="2.2" fill="#000"/>
<circle cx="260.68" cy="329.34" r="2.2" fill="#000"/>
<circle cx="264.38" cy="325.53" r="2.2" fill="#000"/>
<circle cx="268.07" cy="319.94" r="2.2" fill="#000"/>
<circle cx="271.77" cy="312.28" r="2.2" fill="#000"/>
<circle cx="275.48" cy="302.61" r="2.2" fill="#000"/>
<circle cx="279.18" cy="291.64" r="2.2" fill="#000"/>
<circle cx="282.88" cy="281.53" r="2.2" fill="#000"/>
<circle cx="286.57" cy="272.39" r="2.2" fill="#000"/>
<circle cx="290.27" cy="264.79" r="2.2" fill="#000"/>
<circle cx="293.98" cy="258.96" r="2.2" fill="#000"/>
<circle cx="297.68" cy="254.73" r="2.2" fill="#000"/>
<circle cx="301.38" cy="251.80" r="2.2" fill="#000"/>
<circle cx="305.07" cy="249.83" r="2.2" fill="#000"/>
<circle cx="308.77" cy="248.52" r="2.2" fill="#000"/>
<circle cx="312.48" cy="247.68" r="2.2" fill="#000"/>
<circle cx="316.18" cy="247.13" r="2.2" fill="#000"/>
<circle cx="319.88" cy="246.78" r="2.2" fill="#000"/>
<circle cx="323.57" cy="246.56" r="2.2" fill="#000"/>
<polyline points="216.28,334.16 219.97,336.48 223.68,337.33 227.38,337.63 231.07,337.73 234.78,337.75 238.47,337.72 242.18,337.64 245.88,337.51 249.57,337.27 253.28,336.85 256.98,336.14 260.68,334.94 264.38,332.94 268.07,329.73 271.77,324.83 275.48,317.93 279.18,309.22 282.88,299.80 286.57,291.12 290.27,283.84 293.98,278.37 297.68,274.58 301.38,272.10 305.07,270.55 308.77,269.59 312.48,269.02 316.18,268.67 319.88,268.47 323.57,268.34" fill="none" stroke="#000" stroke-width="0.8"/>
<circle cx="216.28" cy="334.16" r="2.2" fill="#000"/>
<circle cx="219.97" cy="336.48" r="2.2" fill="#000"/>
<circle cx="223.68" cy="337.33" r="2.2" fill="#000"/>
<circle cx="227.38" cy="337.63" r="2.2" fill="#000"/>
<circle cx="231.07" cy="337.73" r="2.2" fill="#000"/>
<circle cx="234.78" cy="337.75" r="2.2" fill="#000"/>
<circle cx="238.47" cy="337.72" r="2.2" fill="#000"/>
<circle cx="242.18" cy="337.64" r="2.2" fill="#000"/>
<circle cx="245.88" cy="337.51" r="2.2" fill="#000"/>
<circle cx="249.57" cy="337.27" r="2.2" fill="#000"/>
<circle cx="253.28" cy="336.85" r="2.2" fill="#000"/>
<circle cx="256.98" cy="336.14" r="2.2" fill="#000"/>
<circle cx="260.68" cy="334.94" r="2.2" fill="#000"/>
<circle cx="264.38" cy="332.94" r="2.2" fill="#000"/>
<circle cx="268.07" cy="329.73" r="2.2" fill="#000"/>
<circle cx="271.77" cy="324.83" r="2.2" fill="#000"/>
<circle cx="275.48" cy="317.93" r="2.2" fill="#000"/>
<circle cx="279.18" cy="309.22" r="2.2" fill="#000"/>
<circle cx="282.88" cy="299.80" r="2.2" fill="#000"/>
<circle cx="286.57" cy="291.12" r="2.2" fill="#000"/>
<circle cx="290.27" cy="283.84" r="2.2" fill="#000"/>
<circle cx="293.98" cy="278.37" r="2.2" fill="#000"/>
<circle cx="297.68" cy="274.58" r="2.2" fill="#000"/>
<circle cx="301.38" cy="272.10" r="2.2" fill="#000"/>
<circle cx="305.07" cy="270.55" r="2.2" fill="#000"/>
<circle cx="308.77" cy="269.59" r="2.2" fill="#000"/>
<circle cx="312.48" cy="269.02" r="2.2" fill="#000"/>
<circle cx="316.18" cy="268.67" r="2.2" fill="#000"/>
<circle cx="319.88" cy="268.47" r="2.2" fill="#000"/>
<circle cx="323.57" cy="268.34" r="2.2" fill="#000"/>
<polyline points="216.28,330.50 219.97,332.81 223.68,333.66 227.38,333.97 231.07,334.08 234.78,334.10 238.47,334.09 242.18,334.04 245.88,333.95 249.57,333.79 253.28,333.52 256.98,333.05 260.68,332.25 264.38,330.89 268.07,328.67 271.77,325.16 275.48,319.96 279.18,312.92 282.88,304.48 286.57,296.35 290.27,289.14 293.98,283.24 297.68,278.85 301.38,275.80 305.07,273.77 308.77,272.48 312.48,271.66 316.18,271.16 319.88,270.85 323.57,270.66" fill="none" stroke="#000" stroke-width="0.8"/>
<circle cx="216.28" cy="330.50" r="2.2" fill="#000"/>
<circle cx="219.97" cy="332.81" r="2.2" fill="#000"/>
<circle cx="223.68" cy="333.66" r="2.2" fill="#000"/>
<circle cx="227.38" cy="333.97" r="2.2" fill="#000"/>
<circle cx="231.07" cy="334.08" r="2.2" fill="#000"/>
<circle cx="234.78" cy="334.10" r="2.2" fill="#000"/>
<circle cx="238.47" cy="334.09" r="2.2" fill="#000"/>
<circle cx="242.18" cy="334.04" r="2.2" fill="#000"/>
<circle cx="245.88" cy="333.95" r="2.2" fill="#000"/>
<circle cx="249.57" cy="333.79" r="2.2" fill="#000"/>
<circle cx="253.28" cy="333.52" r="2.2" fill="#000"/>
<circle cx="256.98" cy="333.05" r="2.2" fill="#000"/>
<circle cx="260.68" cy="332.25" r="2.2" fill="#000"/>
<circle cx="264.38" cy="330.89" r="2.2" fill="#000"/>
<circle cx="268.07" cy="328.67" r="2.2" fill="#000"/>
<circle cx="271.77" cy="325.16" r="2.2" fill="#000"/>
<circle cx="275.48" cy="319.96" r="2.2" fill="#000"/>
<circle cx="279.18" cy="312.92" r="2.2" fill="#000"/>
<circle cx="282.88" cy="304.48" r="2.2" fill="#000"/>
<circle cx="286.57" cy="296.35" r="2.2" fill="#000"/>
<circle cx="290.27" cy="289.14" r="2.2" fill="#000"/>
<circle cx="293.98" cy="283.24" r="2.2" fill="#000"/>
<circle cx="297.68" cy="278.85" r="2.2" fill="#000"/>
<circle cx="301.38" cy="275.80" r="2.2" fill="#000"/>
<circle cx="305.07" cy="273.77" r="2.2" fill="#000"/>
<circle cx="308.77" cy="272.48" r="2.2" fill="#000"/>
<circle cx="312.48" cy="271.66" r="2.2" fill="#000"/>
<circle cx="316.18" cy="271.16" r="2.2" fill="#000"/>
<circle cx="319.88" cy="270.85" r="2.2" fill="#000"/>
<circle cx="323.57" cy="270.66" r="2.2" fill="#000"/>
<path d="M220.5 240.6H232.5" stroke="#5aa0e0" stroke-width="1.1"/>
<circle cx="226.5" cy="240.6" r="2.2" fill="#52a6ff" stroke="#000" stroke-width="1.0"/>
<text x="238.8" y="242.95" font-size="7.8" class="lg">SD Biosensor</text>
<path d="M220.5 251.7H232.5" stroke="#000" stroke-width="1.1"/>
<circle cx="226.5" cy="251.7" r="2.2" fill="#000"/>
<text x="238.8" y="254.04999999999998" font-size="7.8" class="lg">PBS</text>
<text x="335.5" y="200.10000000000002" font-size="9.8" font-weight="bold" fill="#000" stroke="#000" stroke-width="0.25">g</text>
<path d="M379.5 231.5H490.5V341.5" fill="none" stroke="#3c3c3c" stroke-width="1.0"/>
<path d="M379.5 231.5V341.5H490.5" fill="none" stroke="#111" stroke-width="1.1"/>
<path d="M376.3 341.5H379.5" stroke="#111" stroke-width="1"/>
<text x="374.9" y="344.38" font-size="9.2" text-anchor="end" class="t">0</text>
<path d="M376.3 304.8333333333333H379.5" stroke="#111" stroke-width="1"/>
<text x="374.9" y="307.7133333333333" font-size="9.4" text-anchor="end" class="t">1×10<tspan dy="-3.9" font-size="5.8">6</tspan></text>
<path d="M376.3 268.1666666666667H379.5" stroke="#111" stroke-width="1"/>
<text x="374.9" y="271.0466666666667" font-size="9.4" text-anchor="end" class="t">2×10<tspan dy="-3.9" font-size="5.8">6</tspan></text>
<path d="M376.3 231.5H379.5" stroke="#111" stroke-width="1"/>
<text x="374.9" y="234.38000000000002" font-size="9.4" text-anchor="end" class="t">3×10<tspan dy="-3.9" font-size="5.8">6</tspan></text>
<path d="M379.5 341.5V344.4" stroke="#111" stroke-width="1"/>
<text x="379.5" y="354.4" font-size="8.6" text-anchor="middle" class="t">0</text>
<path d="M416.5 341.5V344.4" stroke="#111" stroke-width="1"/>
<text x="416.5" y="354.4" font-size="8.6" text-anchor="middle" class="t">10</text>
<path d="M453.5 341.5V344.4" stroke="#111" stroke-width="1"/>
<text x="453.5" y="354.4" font-size="8.6" text-anchor="middle" class="t">20</text>
<path d="M490.5 341.5V344.4" stroke="#111" stroke-width="1"/>
<text x="490.5" y="354.4" font-size="8.6" text-anchor="middle" class="t">30</text>
<text x="435.0" y="367.9" font-size="8.7" text-anchor="middle" class="t">minutes</text>
<text transform="translate(344.9 283.1) rotate(-90)" x="0" y="0" font-size="9.5" text-anchor="middle" class="t">Fluorescence (R)</text>
<polyline points="382.27,336.37 385.98,338.22 389.68,338.90 393.38,339.15 397.07,339.25 400.77,339.28 404.48,339.29 408.18,339.30 411.88,339.30 415.57,339.30 419.27,339.30 422.98,339.30 426.68,339.30 430.38,339.30 434.07,339.30 437.77,339.30 441.48,339.30 445.18,339.30 448.88,339.30 452.57,339.30 456.27,339.30 459.98,339.30 463.68,339.30 467.38,339.30 471.07,339.30 474.77,339.30 478.48,339.30 482.18,339.30 485.88,339.30 489.57,339.30" fill="none" stroke="#1ed81e" stroke-width="0.8"/>
<circle cx="382.27" cy="336.37" r="2.0" fill="#1ed81e" stroke="#000" stroke-width="0.7"/>
<circle cx="385.98" cy="338.22" r="2.0" fill="#1ed81e" stroke="#000" stroke-width="0.7"/>
<circle cx="389.68" cy="338.90" r="2.0" fill="#1ed81e" stroke="#000" stroke-width="0.7"/>
<circle cx="393.38" cy="339.15" r="2.0" fill="#1ed81e" stroke="#000" stroke-width="0.7"/>
<circle cx="397.07" cy="339.25" r="2.0" fill="#1ed81e" stroke="#000" stroke-width="0.7"/>
<circle cx="400.77" cy="339.28" r="2.0" fill="#1ed81e" stroke="#000" stroke-width="0.7"/>
<circle cx="404.48" cy="339.29" r="2.0" fill="#1ed81e" stroke="#000" stroke-width="0.7"/>
<circle cx="408.18" cy="339.30" r="2.0" fill="#1ed81e" stroke="#000" stroke-width="0.7"/>
<circle cx="411.88" cy="339.30" r="2.0" fill="#1ed81e" stroke="#000" stroke-width="0.7"/>
<circle cx="415.57" cy="339.30" r="2.0" fill="#1ed81e" stroke="#000" stroke-width="0.7"/>
<circle cx="419.27" cy="339.30" r="2.0" fill="#1ed81e" stroke="#000" stroke-width="0.7"/>
<circle cx="422.98" cy="339.30" r="2.0" fill="#1ed81e" stroke="#000" stroke-width="0.7"/>
<circle cx="426.68" cy="339.30" r="2.0" fill="#1ed81e" stroke="#000" stroke-width="0.7"/>
<circle cx="430.38" cy="339.30" r="2.0" fill="#1ed81e" stroke="#000" stroke-width="0.7"/>
<circle cx="434.07" cy="339.30" r="2.0" fill="#1ed81e" stroke="#000" stroke-width="0.7"/>
<circle cx="437.77" cy="339.30" r="2.0" fill="#1ed81e" stroke="#000" stroke-width="0.7"/>
<circle cx="441.48" cy="339.30" r="2.0" fill="#1ed81e" stroke="#000" stroke-width="0.7"/>
<circle cx="445.18" cy="339.30" r="2.0" fill="#1ed81e" stroke="#000" stroke-width="0.7"/>
<circle cx="448.88" cy="339.30" r="2.0" fill="#1ed81e" stroke="#000" stroke-width="0.7"/>
<circle cx="452.57" cy="339.30" r="2.0" fill="#1ed81e" stroke="#000" stroke-width="0.7"/>
<circle cx="456.27" cy="339.30" r="2.0" fill="#1ed81e" stroke="#000" stroke-width="0.7"/>
<circle cx="459.98" cy="339.30" r="2.0" fill="#1ed81e" stroke="#000" stroke-width="0.7"/>
<circle cx="463.68" cy="339.30" r="2.0" fill="#1ed81e" stroke="#000" stroke-width="0.7"/>
<circle cx="467.38" cy="339.30" r="2.0" fill="#1ed81e" stroke="#000" stroke-width="0.7"/>
<circle cx="471.07" cy="339.30" r="2.0" fill="#1ed81e" stroke="#000" stroke-width="0.7"/>
<circle cx="474.77" cy="339.30" r="2.0" fill="#1ed81e" stroke="#000" stroke-width="0.7"/>
<circle cx="478.48" cy="339.30" r="2.0" fill="#1ed81e" stroke="#000" stroke-width="0.7"/>
<circle cx="482.18" cy="339.30" r="2.0" fill="#1ed81e" stroke="#000" stroke-width="0.7"/>
<circle cx="485.88" cy="339.30" r="2.0" fill="#1ed81e" stroke="#000" stroke-width="0.7"/>
<circle cx="489.57" cy="339.30" r="2.0" fill="#1ed81e" stroke="#000" stroke-width="0.7"/>
<polyline points="382.27,334.90 385.98,337.22 389.68,338.07 393.38,338.38 397.07,338.50 400.77,338.54 404.48,338.56 408.18,338.56 411.88,338.57 415.57,338.57 419.27,338.57 422.98,338.57 426.68,338.57 430.38,338.57 434.07,338.57 437.77,338.57 441.48,338.57 445.18,338.57 448.88,338.57 452.57,338.57 456.27,338.57 459.98,338.57 463.68,338.57 467.38,338.57 471.07,338.57 474.77,338.57 478.48,338.57 482.18,338.57 485.88,338.57 489.57,338.57" fill="none" stroke="#5252f0" stroke-width="0.8"/>
<circle cx="382.27" cy="334.90" r="2.0" fill="#5252f0" stroke="#000" stroke-width="0.7"/>
<circle cx="385.98" cy="337.22" r="2.0" fill="#5252f0" stroke="#000" stroke-width="0.7"/>
<circle cx="389.68" cy="338.07" r="2.0" fill="#5252f0" stroke="#000" stroke-width="0.7"/>
<circle cx="393.38" cy="338.38" r="2.0" fill="#5252f0" stroke="#000" stroke-width="0.7"/>
<circle cx="397.07" cy="338.50" r="2.0" fill="#5252f0" stroke="#000" stroke-width="0.7"/>
<circle cx="400.77" cy="338.54" r="2.0" fill="#5252f0" stroke="#000" stroke-width="0.7"/>
<circle cx="404.48" cy="338.56" r="2.0" fill="#5252f0" stroke="#000" stroke-width="0.7"/>
<circle cx="408.18" cy="338.56" r="2.0" fill="#5252f0" stroke="#000" stroke-width="0.7"/>
<circle cx="411.88" cy="338.57" r="2.0" fill="#5252f0" stroke="#000" stroke-width="0.7"/>
<circle cx="415.57" cy="338.57" r="2.0" fill="#5252f0" stroke="#000" stroke-width="0.7"/>
<circle cx="419.27" cy="338.57" r="2.0" fill="#5252f0" stroke="#000" stroke-width="0.7"/>
<circle cx="422.98" cy="338.57" r="2.0" fill="#5252f0" stroke="#000" stroke-width="0.7"/>
<circle cx="426.68" cy="338.57" r="2.0" fill="#5252f0" stroke="#000" stroke-width="0.7"/>
<circle cx="430.38" cy="338.57" r="2.0" fill="#5252f0" stroke="#000" stroke-width="0.7"/>
<circle cx="434.07" cy="338.57" r="2.0" fill="#5252f0" stroke="#000" stroke-width="0.7"/>
<circle cx="437.77" cy="338.57" r="2.0" fill="#5252f0" stroke="#000" stroke-width="0.7"/>
<circle cx="441.48" cy="338.57" r="2.0" fill="#5252f0" stroke="#000" stroke-width="0.7"/>
<circle cx="445.18" cy="338.57" r="2.0" fill="#5252f0" stroke="#000" stroke-width="0.7"/>
<circle cx="448.88" cy="338.57" r="2.0" fill="#5252f0" stroke="#000" stroke-width="0.7"/>
<circle cx="452.57" cy="338.57" r="2.0" fill="#5252f0" stroke="#000" stroke-width="0.7"/>
<circle cx="456.27" cy="338.57" r="2.0" fill="#5252f0" stroke="#000" stroke-width="0.7"/>
<circle cx="459.98" cy="338.57" r="2.0" fill="#5252f0" stroke="#000" stroke-width="0.7"/>
<circle cx="463.68" cy="338.57" r="2.0" fill="#5252f0" stroke="#000" stroke-width="0.7"/>
<circle cx="467.38" cy="338.57" r="2.0" fill="#5252f0" stroke="#000" stroke-width="0.7"/>
<circle cx="471.07" cy="338.57" r="2.0" fill="#5252f0" stroke="#000" stroke-width="0.7"/>
<circle cx="474.77" cy="338.57" r="2.0" fill="#5252f0" stroke="#000" stroke-width="0.7"/>
<circle cx="478.48" cy="338.57" r="2.0" fill="#5252f0" stroke="#000" stroke-width="0.7"/>
<circle cx="482.18" cy="338.57" r="2.0" fill="#5252f0" stroke="#000" stroke-width="0.7"/>
<circle cx="485.88" cy="338.57" r="2.0" fill="#5252f0" stroke="#000" stroke-width="0.7"/>
<circle cx="489.57" cy="338.57" r="2.0" fill="#5252f0" stroke="#000" stroke-width="0.7"/>
<polyline points="382.27,333.80 385.98,336.58 389.68,337.60 393.38,337.98 397.07,338.12 400.77,338.17 404.48,338.19 408.18,338.20 411.88,338.20 415.57,338.20 419.27,338.20 422.98,338.20 426.68,338.20 430.38,338.20 434.07,338.20 437.77,338.20 441.48,338.20 445.18,338.20 448.88,338.20 452.57,338.20 456.27,338.20 459.98,338.20 463.68,338.20 467.38,338.20 471.07,338.20 474.77,338.20 478.48,338.20 482.18,338.20 485.88,338.20 489.57,338.20" fill="none" stroke="#b41ef0" stroke-width="0.8"/>
<circle cx="382.27" cy="333.80" r="2.0" fill="#b41ef0" stroke="#000" stroke-width="0.7"/>
<circle cx="385.98" cy="336.58" r="2.0" fill="#b41ef0" stroke="#000" stroke-width="0.7"/>
<circle cx="389.68" cy="337.60" r="2.0" fill="#b41ef0" stroke="#000" stroke-width="0.7"/>
<circle cx="393.38" cy="337.98" r="2.0" fill="#b41ef0" stroke="#000" stroke-width="0.7"/>
<circle cx="397.07" cy="338.12" r="2.0" fill="#b41ef0" stroke="#000" stroke-width="0.7"/>
<circle cx="400.77" cy="338.17" r="2.0" fill="#b41ef0" stroke="#000" stroke-width="0.7"/>
<circle cx="404.48" cy="338.19" r="2.0" fill="#b41ef0" stroke="#000" stroke-width="0.7"/>
<circle cx="408.18" cy="338.20" r="2.0" fill="#b41ef0" stroke="#000" stroke-width="0.7"/>
<circle cx="411.88" cy="338.20" r="2.0" fill="#b41ef0" stroke="#000" stroke-width="0.7"/>
<circle cx="415.57" cy="338.20" r="2.0" fill="#b41ef0" stroke="#000" stroke-width="0.7"/>
<circle cx="419.27" cy="338.20" r="2.0" fill="#b41ef0" stroke="#000" stroke-width="0.7"/>
<circle cx="422.98" cy="338.20" r="2.0" fill="#b41ef0" stroke="#000" stroke-width="0.7"/>
<circle cx="426.68" cy="338.20" r="2.0" fill="#b41ef0" stroke="#000" stroke-width="0.7"/>
<circle cx="430.38" cy="338.20" r="2.0" fill="#b41ef0" stroke="#000" stroke-width="0.7"/>
<circle cx="434.07" cy="338.20" r="2.0" fill="#b41ef0" stroke="#000" stroke-width="0.7"/>
<circle cx="437.77" cy="338.20" r="2.0" fill="#b41ef0" stroke="#000" stroke-width="0.7"/>
<circle cx="441.48" cy="338.20" r="2.0" fill="#b41ef0" stroke="#000" stroke-width="0.7"/>
<circle cx="445.18" cy="338.20" r="2.0" fill="#b41ef0" stroke="#000" stroke-width="0.7"/>
<circle cx="448.88" cy="338.20" r="2.0" fill="#b41ef0" stroke="#000" stroke-width="0.7"/>
<circle cx="452.57" cy="338.20" r="2.0" fill="#b41ef0" stroke="#000" stroke-width="0.7"/>
<circle cx="456.27" cy="338.20" r="2.0" fill="#b41ef0" stroke="#000" stroke-width="0.7"/>
<circle cx="459.98" cy="338.20" r="2.0" fill="#b41ef0" stroke="#000" stroke-width="0.7"/>
<circle cx="463.68" cy="338.20" r="2.0" fill="#b41ef0" stroke="#000" stroke-width="0.7"/>
<circle cx="467.38" cy="338.20" r="2.0" fill="#b41ef0" stroke="#000" stroke-width="0.7"/>
<circle cx="471.07" cy="338.20" r="2.0" fill="#b41ef0" stroke="#000" stroke-width="0.7"/>
<circle cx="474.77" cy="338.20" r="2.0" fill="#b41ef0" stroke="#000" stroke-width="0.7"/>
<circle cx="478.48" cy="338.20" r="2.0" fill="#b41ef0" stroke="#000" stroke-width="0.7"/>
<circle cx="482.18" cy="338.20" r="2.0" fill="#b41ef0" stroke="#000" stroke-width="0.7"/>
<circle cx="485.88" cy="338.20" r="2.0" fill="#b41ef0" stroke="#000" stroke-width="0.7"/>
<circle cx="489.57" cy="338.20" r="2.0" fill="#b41ef0" stroke="#000" stroke-width="0.7"/>
<polyline points="382.27,333.43 385.98,336.21 389.68,337.24 393.38,337.61 397.07,337.75 400.77,337.80 404.48,337.82 408.18,337.83 411.88,337.83 415.57,337.83 419.27,337.83 422.98,337.83 426.68,337.83 430.38,337.83 434.07,337.83 437.77,337.83 441.48,337.83 445.18,337.83 448.88,337.83 452.57,337.83 456.27,337.83 459.98,337.83 463.68,337.83 467.38,337.83 471.07,337.83 474.77,337.83 478.48,337.83 482.18,337.83 485.88,337.83 489.57,337.83" fill="none" stroke="#52a6ff" stroke-width="0.8"/>
<circle cx="382.27" cy="333.43" r="2.0" fill="#52a6ff" stroke="#000" stroke-width="0.7"/>
<circle cx="385.98" cy="336.21" r="2.0" fill="#52a6ff" stroke="#000" stroke-width="0.7"/>
<circle cx="389.68" cy="337.24" r="2.0" fill="#52a6ff" stroke="#000" stroke-width="0.7"/>
<circle cx="393.38" cy="337.61" r="2.0" fill="#52a6ff" stroke="#000" stroke-width="0.7"/>
<circle cx="397.07" cy="337.75" r="2.0" fill="#52a6ff" stroke="#000" stroke-width="0.7"/>
<circle cx="400.77" cy="337.80" r="2.0" fill="#52a6ff" stroke="#000" stroke-width="0.7"/>
<circle cx="404.48" cy="337.82" r="2.0" fill="#52a6ff" stroke="#000" stroke-width="0.7"/>
<circle cx="408.18" cy="337.83" r="2.0" fill="#52a6ff" stroke="#000" stroke-width="0.7"/>
<circle cx="411.88" cy="337.83" r="2.0" fill="#52a6ff" stroke="#000" stroke-width="0.7"/>
<circle cx="415.57" cy="337.83" r="2.0" fill="#52a6ff" stroke="#000" stroke-width="0.7"/>
<circle cx="419.27" cy="337.83" r="2.0" fill="#52a6ff" stroke="#000" stroke-width="0.7"/>
<circle cx="422.98" cy="337.83" r="2.0" fill="#52a6ff" stroke="#000" stroke-width="0.7"/>
<circle cx="426.68" cy="337.83" r="2.0" fill="#52a6ff" stroke="#000" stroke-width="0.7"/>
<circle cx="430.38" cy="337.83" r="2.0" fill="#52a6ff" stroke="#000" stroke-width="0.7"/>
<circle cx="434.07" cy="337.83" r="2.0" fill="#52a6ff" stroke="#000" stroke-width="0.7"/>
<circle cx="437.77" cy="337.83" r="2.0" fill="#52a6ff" stroke="#000" stroke-width="0.7"/>
<circle cx="441.48" cy="337.83" r="2.0" fill="#52a6ff" stroke="#000" stroke-width="0.7"/>
<circle cx="445.18" cy="337.83" r="2.0" fill="#52a6ff" stroke="#000" stroke-width="0.7"/>
<circle cx="448.88" cy="337.83" r="2.0" fill="#52a6ff" stroke="#000" stroke-width="0.7"/>
<circle cx="452.57" cy="337.83" r="2.0" fill="#52a6ff" stroke="#000" stroke-width="0.7"/>
<circle cx="456.27" cy="337.83" r="2.0" fill="#52a6ff" stroke="#000" stroke-width="0.7"/>
<circle cx="459.98" cy="337.83" r="2.0" fill="#52a6ff" stroke="#000" stroke-width="0.7"/>
<circle cx="463.68" cy="337.83" r="2.0" fill="#52a6ff" stroke="#000" stroke-width="0.7"/>
<circle cx="467.38" cy="337.83" r="2.0" fill="#52a6ff" stroke="#000" stroke-width="0.7"/>
<circle cx="471.07" cy="337.83" r="2.0" fill="#52a6ff" stroke="#000" stroke-width="0.7"/>
<circle cx="474.77" cy="337.83" r="2.0" fill="#52a6ff" stroke="#000" stroke-width="0.7"/>
<circle cx="478.48" cy="337.83" r="2.0" fill="#52a6ff" stroke="#000" stroke-width="0.7"/>
<circle cx="482.18" cy="337.83" r="2.0" fill="#52a6ff" stroke="#000" stroke-width="0.7"/>
<circle cx="485.88" cy="337.83" r="2.0" fill="#52a6ff" stroke="#000" stroke-width="0.7"/>
<circle cx="489.57" cy="337.83" r="2.0" fill="#52a6ff" stroke="#000" stroke-width="0.7"/>
<polyline points="382.27,335.63 385.98,337.95 389.68,338.80 393.38,339.12 397.07,339.23 400.77,339.28 404.48,339.29 408.18,339.30 411.88,339.30 415.57,339.30 419.27,339.30 422.98,339.30 426.68,339.30 430.38,339.30 434.07,339.30 437.77,339.30 441.48,339.30 445.18,339.30 448.88,339.30 452.57,339.30 456.27,339.30 459.98,339.30 463.68,339.30 467.38,339.30 471.07,339.30 474.77,339.30 478.48,339.30 482.18,339.30 485.88,339.30 489.57,339.30" fill="none" stroke="#000" stroke-width="0.8"/>
<circle cx="382.27" cy="335.63" r="2.2" fill="#000"/>
<circle cx="385.98" cy="337.95" r="2.2" fill="#000"/>
<circle cx="389.68" cy="338.80" r="2.2" fill="#000"/>
<circle cx="393.38" cy="339.12" r="2.2" fill="#000"/>
<circle cx="397.07" cy="339.23" r="2.2" fill="#000"/>
<circle cx="400.77" cy="339.28" r="2.2" fill="#000"/>
<circle cx="404.48" cy="339.29" r="2.2" fill="#000"/>
<circle cx="408.18" cy="339.30" r="2.2" fill="#000"/>
<circle cx="411.88" cy="339.30" r="2.2" fill="#000"/>
<circle cx="415.57" cy="339.30" r="2.2" fill="#000"/>
<circle cx="419.27" cy="339.30" r="2.2" fill="#000"/>
<circle cx="422.98" cy="339.30" r="2.2" fill="#000"/>
<circle cx="426.68" cy="339.30" r="2.2" fill="#000"/>
<circle cx="430.38" cy="339.30" r="2.2" fill="#000"/>
<circle cx="434.07" cy="339.30" r="2.2" fill="#000"/>
<circle cx="437.77" cy="339.30" r="2.2" fill="#000"/>
<circle cx="441.48" cy="339.30" r="2.2" fill="#000"/>
<circle cx="445.18" cy="339.30" r="2.2" fill="#000"/>
<circle cx="448.88" cy="339.30" r="2.2" fill="#000"/>
<circle cx="452.57" cy="339.30" r="2.2" fill="#000"/>
<circle cx="456.27" cy="339.30" r="2.2" fill="#000"/>
<circle cx="459.98" cy="339.30" r="2.2" fill="#000"/>
<circle cx="463.68" cy="339.30" r="2.2" fill="#000"/>
<circle cx="467.38" cy="339.30" r="2.2" fill="#000"/>
<circle cx="471.07" cy="339.30" r="2.2" fill="#000"/>
<circle cx="474.77" cy="339.30" r="2.2" fill="#000"/>
<circle cx="478.48" cy="339.30" r="2.2" fill="#000"/>
<circle cx="482.18" cy="339.30" r="2.2" fill="#000"/>
<circle cx="485.88" cy="339.30" r="2.2" fill="#000"/>
<circle cx="489.57" cy="339.30" r="2.2" fill="#000"/>
<polyline points="382.27,332.33 385.98,335.11 389.68,336.14 393.38,336.51 397.07,336.65 400.77,336.70 404.48,336.72 408.18,336.73 411.88,336.73 415.57,336.73 419.27,336.73 422.98,336.73 426.68,336.73 430.38,336.73 434.07,336.73 437.77,336.73 441.48,336.73 445.18,336.73 448.88,336.73 452.57,336.73 456.27,336.73 459.98,336.73 463.68,336.73 467.38,336.73 471.07,336.73 474.77,336.73 478.48,336.73 482.18,336.73 485.88,336.73 489.57,336.73" fill="none" stroke="#000" stroke-width="0.8"/>
<circle cx="382.27" cy="332.33" r="2.0" fill="#0a0aff" stroke="#000" stroke-width="0.7"/>
<circle cx="385.98" cy="335.11" r="2.0" fill="#0a0aff" stroke="#000" stroke-width="0.7"/>
<circle cx="389.68" cy="336.14" r="2.0" fill="#0a0aff" stroke="#000" stroke-width="0.7"/>
<circle cx="393.38" cy="336.51" r="2.0" fill="#0a0aff" stroke="#000" stroke-width="0.7"/>
<circle cx="397.07" cy="336.65" r="2.0" fill="#0a0aff" stroke="#000" stroke-width="0.7"/>
<circle cx="400.77" cy="336.70" r="2.0" fill="#0a0aff" stroke="#000" stroke-width="0.7"/>
<circle cx="404.48" cy="336.72" r="2.0" fill="#0a0aff" stroke="#000" stroke-width="0.7"/>
<circle cx="408.18" cy="336.73" r="2.0" fill="#0a0aff" stroke="#000" stroke-width="0.7"/>
<circle cx="411.88" cy="336.73" r="2.0" fill="#0a0aff" stroke="#000" stroke-width="0.7"/>
<circle cx="415.57" cy="336.73" r="2.0" fill="#0a0aff" stroke="#000" stroke-width="0.7"/>
<circle cx="419.27" cy="336.73" r="2.0" fill="#0a0aff" stroke="#000" stroke-width="0.7"/>
<circle cx="422.98" cy="336.73" r="2.0" fill="#0a0aff" stroke="#000" stroke-width="0.7"/>
<circle cx="426.68" cy="336.73" r="2.0" fill="#0a0aff" stroke="#000" stroke-width="0.7"/>
<circle cx="430.38" cy="336.73" r="2.0" fill="#0a0aff" stroke="#000" stroke-width="0.7"/>
<circle cx="434.07" cy="336.73" r="2.0" fill="#0a0aff" stroke="#000" stroke-width="0.7"/>
<circle cx="437.77" cy="336.73" r="2.0" fill="#0a0aff" stroke="#000" stroke-width="0.7"/>
<circle cx="441.48" cy="336.73" r="2.0" fill="#0a0aff" stroke="#000" stroke-width="0.7"/>
<circle cx="445.18" cy="336.73" r="2.0" fill="#0a0aff" stroke="#000" stroke-width="0.7"/>
<circle cx="448.88" cy="336.73" r="2.0" fill="#0a0aff" stroke="#000" stroke-width="0.7"/>
<circle cx="452.57" cy="336.73" r="2.0" fill="#0a0aff" stroke="#000" stroke-width="0.7"/>
<circle cx="456.27" cy="336.73" r="2.0" fill="#0a0aff" stroke="#000" stroke-width="0.7"/>
<circle cx="459.98" cy="336.73" r="2.0" fill="#0a0aff" stroke="#000" stroke-width="0.7"/>
<circle cx="463.68" cy="336.73" r="2.0" fill="#0a0aff" stroke="#000" stroke-width="0.7"/>
<circle cx="467.38" cy="336.73" r="2.0" fill="#0a0aff" stroke="#000" stroke-width="0.7"/>
<circle cx="471.07" cy="336.73" r="2.0" fill="#0a0aff" stroke="#000" stroke-width="0.7"/>
<circle cx="474.77" cy="336.73" r="2.0" fill="#0a0aff" stroke="#000" stroke-width="0.7"/>
<circle cx="478.48" cy="336.73" r="2.0" fill="#0a0aff" stroke="#000" stroke-width="0.7"/>
<circle cx="482.18" cy="336.73" r="2.0" fill="#0a0aff" stroke="#000" stroke-width="0.7"/>
<circle cx="485.88" cy="336.73" r="2.0" fill="#0a0aff" stroke="#000" stroke-width="0.7"/>
<circle cx="489.57" cy="336.73" r="2.0" fill="#0a0aff" stroke="#000" stroke-width="0.7"/>
<polyline points="382.27,325.00 385.98,331.03 389.68,333.24 393.38,334.06 397.07,334.36 400.77,334.47 404.48,334.51 408.18,334.52 411.88,334.53 415.57,334.53 419.27,334.53 422.98,334.53 426.68,334.53 430.38,334.53 434.07,334.53 437.77,334.53 441.48,334.53 445.18,334.53 448.88,334.53 452.57,334.53 456.27,334.53 459.98,334.53 463.68,334.53 467.38,334.53 471.07,334.53 474.77,334.53 478.48,334.53 482.18,334.53 485.88,334.53 489.57,334.53" fill="none" stroke="#000" stroke-width="0.8"/>
<circle cx="382.27" cy="325.00" r="2.0" fill="#d4d41c" stroke="#000" stroke-width="0.7"/>
<circle cx="385.98" cy="331.03" r="2.0" fill="#d4d41c" stroke="#000" stroke-width="0.7"/>
<circle cx="389.68" cy="333.24" r="2.0" fill="#d4d41c" stroke="#000" stroke-width="0.7"/>
<circle cx="393.38" cy="334.06" r="2.0" fill="#d4d41c" stroke="#000" stroke-width="0.7"/>
<circle cx="397.07" cy="334.36" r="2.0" fill="#d4d41c" stroke="#000" stroke-width="0.7"/>
<circle cx="400.77" cy="334.47" r="2.0" fill="#d4d41c" stroke="#000" stroke-width="0.7"/>
<circle cx="404.48" cy="334.51" r="2.0" fill="#d4d41c" stroke="#000" stroke-width="0.7"/>
<circle cx="408.18" cy="334.52" r="2.0" fill="#d4d41c" stroke="#000" stroke-width="0.7"/>
<circle cx="411.88" cy="334.53" r="2.0" fill="#d4d41c" stroke="#000" stroke-width="0.7"/>
<circle cx="415.57" cy="334.53" r="2.0" fill="#d4d41c" stroke="#000" stroke-width="0.7"/>
<circle cx="419.27" cy="334.53" r="2.0" fill="#d4d41c" stroke="#000" stroke-width="0.7"/>
<circle cx="422.98" cy="334.53" r="2.0" fill="#d4d41c" stroke="#000" stroke-width="0.7"/>
<circle cx="426.68" cy="334.53" r="2.0" fill="#d4d41c" stroke="#000" stroke-width="0.7"/>
<circle cx="430.38" cy="334.53" r="2.0" fill="#d4d41c" stroke="#000" stroke-width="0.7"/>
<circle cx="434.07" cy="334.53" r="2.0" fill="#d4d41c" stroke="#000" stroke-width="0.7"/>
<circle cx="437.77" cy="334.53" r="2.0" fill="#d4d41c" stroke="#000" stroke-width="0.7"/>
<circle cx="441.48" cy="334.53" r="2.0" fill="#d4d41c" stroke="#000" stroke-width="0.7"/>
<circle cx="445.18" cy="334.53" r="2.0" fill="#d4d41c" stroke="#000" stroke-width="0.7"/>
<circle cx="448.88" cy="334.53" r="2.0" fill="#d4d41c" stroke="#000" stroke-width="0.7"/>
<circle cx="452.57" cy="334.53" r="2.0" fill="#d4d41c" stroke="#000" stroke-width="0.7"/>
<circle cx="456.27" cy="334.53" r="2.0" fill="#d4d41c" stroke="#000" stroke-width="0.7"/>
<circle cx="459.98" cy="334.53" r="2.0" fill="#d4d41c" stroke="#000" stroke-width="0.7"/>
<circle cx="463.68" cy="334.53" r="2.0" fill="#d4d41c" stroke="#000" stroke-width="0.7"/>
<circle cx="467.38" cy="334.53" r="2.0" fill="#d4d41c" stroke="#000" stroke-width="0.7"/>
<circle cx="471.07" cy="334.53" r="2.0" fill="#d4d41c" stroke="#000" stroke-width="0.7"/>
<circle cx="474.77" cy="334.53" r="2.0" fill="#d4d41c" stroke="#000" stroke-width="0.7"/>
<circle cx="478.48" cy="334.53" r="2.0" fill="#d4d41c" stroke="#000" stroke-width="0.7"/>
<circle cx="482.18" cy="334.53" r="2.0" fill="#d4d41c" stroke="#000" stroke-width="0.7"/>
<circle cx="485.88" cy="334.53" r="2.0" fill="#d4d41c" stroke="#000" stroke-width="0.7"/>
<circle cx="489.57" cy="334.53" r="2.0" fill="#d4d41c" stroke="#000" stroke-width="0.7"/>
<polyline points="382.27,329.03 385.98,332.05 389.68,333.15 393.38,333.56 397.07,333.71 400.77,333.77 404.48,333.79 408.18,333.80 411.88,333.80 415.57,333.80 419.27,333.80 422.98,333.80 426.68,333.80 430.38,333.80 434.07,333.80 437.77,333.80 441.48,333.80 445.18,333.80 448.88,333.80 452.57,333.80 456.27,333.80 459.98,333.80 463.68,333.80 467.38,333.80 471.07,333.80 474.77,333.80 478.48,333.80 482.18,333.80 485.88,333.80 489.57,333.80" fill="none" stroke="#000" stroke-width="0.8"/>
<circle cx="382.27" cy="329.03" r="2.0" fill="#ff0a0a" stroke="#000" stroke-width="0.7"/>
<circle cx="385.98" cy="332.05" r="2.0" fill="#ff0a0a" stroke="#000" stroke-width="0.7"/>
<circle cx="389.68" cy="333.15" r="2.0" fill="#ff0a0a" stroke="#000" stroke-width="0.7"/>
<circle cx="393.38" cy="333.56" r="2.0" fill="#ff0a0a" stroke="#000" stroke-width="0.7"/>
<circle cx="397.07" cy="333.71" r="2.0" fill="#ff0a0a" stroke="#000" stroke-width="0.7"/>
<circle cx="400.77" cy="333.77" r="2.0" fill="#ff0a0a" stroke="#000" stroke-width="0.7"/>
<circle cx="404.48" cy="333.79" r="2.0" fill="#ff0a0a" stroke="#000" stroke-width="0.7"/>
<circle cx="408.18" cy="333.80" r="2.0" fill="#ff0a0a" stroke="#000" stroke-width="0.7"/>
<circle cx="411.88" cy="333.80" r="2.0" fill="#ff0a0a" stroke="#000" stroke-width="0.7"/>
<circle cx="415.57" cy="333.80" r="2.0" fill="#ff0a0a" stroke="#000" stroke-width="0.7"/>
<circle cx="419.27" cy="333.80" r="2.0" fill="#ff0a0a" stroke="#000" stroke-width="0.7"/>
<circle cx="422.98" cy="333.80" r="2.0" fill="#ff0a0a" stroke="#000" stroke-width="0.7"/>
<circle cx="426.68" cy="333.80" r="2.0" fill="#ff0a0a" stroke="#000" stroke-width="0.7"/>
<circle cx="430.38" cy="333.80" r="2.0" fill="#ff0a0a" stroke="#000" stroke-width="0.7"/>
<circle cx="434.07" cy="333.80" r="2.0" fill="#ff0a0a" stroke="#000" stroke-width="0.7"/>
<circle cx="437.77" cy="333.80" r="2.0" fill="#ff0a0a" stroke="#000" stroke-width="0.7"/>
<circle cx="441.48" cy="333.80" r="2.0" fill="#ff0a0a" stroke="#000" stroke-width="0.7"/>
<circle cx="445.18" cy="333.80" r="2.0" fill="#ff0a0a" stroke="#000" stroke-width="0.7"/>
<circle cx="448.88" cy="333.80" r="2.0" fill="#ff0a0a" stroke="#000" stroke-width="0.7"/>
<circle cx="452.57" cy="333.80" r="2.0" fill="#ff0a0a" stroke="#000" stroke-width="0.7"/>
<circle cx="456.27" cy="333.80" r="2.0" fill="#ff0a0a" stroke="#000" stroke-width="0.7"/>
<circle cx="459.98" cy="333.80" r="2.0" fill="#ff0a0a" stroke="#000" stroke-width="0.7"/>
<circle cx="463.68" cy="333.80" r="2.0" fill="#ff0a0a" stroke="#000" stroke-width="0.7"/>
<circle cx="467.38" cy="333.80" r="2.0" fill="#ff0a0a" stroke="#000" stroke-width="0.7"/>
<circle cx="471.07" cy="333.80" r="2.0" fill="#ff0a0a" stroke="#000" stroke-width="0.7"/>
<circle cx="474.77" cy="333.80" r="2.0" fill="#ff0a0a" stroke="#000" stroke-width="0.7"/>
<circle cx="478.48" cy="333.80" r="2.0" fill="#ff0a0a" stroke="#000" stroke-width="0.7"/>
<circle cx="482.18" cy="333.80" r="2.0" fill="#ff0a0a" stroke="#000" stroke-width="0.7"/>
<circle cx="485.88" cy="333.80" r="2.0" fill="#ff0a0a" stroke="#000" stroke-width="0.7"/>
<circle cx="489.57" cy="333.80" r="2.0" fill="#ff0a0a" stroke="#000" stroke-width="0.7"/>
<path d="M386.5 240.4H398.5" stroke="#000" stroke-width="1.1"/>
<circle cx="392.5" cy="240.4" r="2.2" fill="#d4d41c" stroke="#000" stroke-width="1.0"/>
<text x="404.8" y="242.75" font-size="7.8" class="lg">Mole</text>
<path d="M386.5 250.8H398.5" stroke="#000" stroke-width="1.1"/>
<circle cx="392.5" cy="250.8" r="2.2" fill="#ff0a0a" stroke="#000" stroke-width="1.0"/>
<text x="404.8" y="253.15" font-size="7.8" class="lg">Copan</text>
<path d="M386.5 261.2H398.5" stroke="#000" stroke-width="1.1"/>
<circle cx="392.5" cy="261.2" r="2.2" fill="#0a0aff" stroke="#000" stroke-width="1.0"/>
<text x="404.8" y="263.55" font-size="7.8" class="lg">NEST</text>
<path d="M386.5 271.6H398.5" stroke="#1ed81e" stroke-width="1.1"/>
<circle cx="392.5" cy="271.6" r="2.2" fill="#1ed81e" stroke="#000" stroke-width="1.0"/>
<text x="404.8" y="273.95000000000005" font-size="7.8" class="lg">Gensure</text>
<path d="M386.5 282.0H398.5" stroke="#5252f0" stroke-width="1.1"/>
<circle cx="392.5" cy="282.0" r="2.2" fill="#5252f0" stroke="#000" stroke-width="1.0"/>
<text x="404.8" y="284.35" font-size="7.8" class="lg">Acro</text>
<path d="M386.5 292.4H398.5" stroke="#b41ef0" stroke-width="1.1"/>
<circle cx="392.5" cy="292.4" r="2.2" fill="#b41ef0" stroke="#000" stroke-width="1.0"/>
<text x="404.8" y="294.75" font-size="7.8" class="lg">Biosynex</text>
<path d="M386.5 302.8H398.5" stroke="#52a6ff" stroke-width="1.1"/>
<circle cx="392.5" cy="302.8" r="2.2" fill="#52a6ff" stroke="#000" stroke-width="1.0"/>
<text x="404.8" y="305.15000000000003" font-size="7.8" class="lg">SD Biosensor</text>
<text x="435.0" y="215.9" font-size="8.9" text-anchor="middle" class="t">NTC</text>
<text x="509.6" y="201.5" font-size="9.8" font-weight="bold" fill="#000" stroke="#000" stroke-width="0.25">h</text>
<g stroke="#7a7a7a" stroke-width="0.8" fill="#fff">
<!-- tube 1 -->
<rect x="525.4" y="237.8" width="6.6" height="32.7"/>
<rect x="525.9" y="265.6" width="5.6" height="4.6" fill="#d8d8d8" stroke="none"/>
<rect x="524.4" y="229.4" width="8.9" height="8.6" fill="#cc0a14" stroke="none"/>
<!-- swab 1 -->
<rect x="543.9" y="225.6" width="1.3" height="52.6" fill="#c8c8c8" stroke="#8a8a8a" stroke-width="0.4"/>
<rect x="542.9" y="218.6" width="3.3" height="7.6" rx="1.6" fill="#fff" stroke="#777" stroke-width="0.7"/>
<!-- tube 2 -->
<rect x="525.4" y="305.9" width="6.6" height="32.7"/>
<rect x="525.9" y="333.8" width="5.6" height="4.6" fill="#d8d8d8" stroke="none"/>
<rect x="523.4" y="296.9" width="9.3" height="9" fill="#58a4dc" stroke="#4a8cc0" stroke-width="0.4"/>
<!-- swab 2 -->
<rect x="543.9" y="292.2" width="1.3" height="53.3" fill="#c8c8c8" stroke="#8a8a8a" stroke-width="0.4"/>
<rect x="542.9" y="285.2" width="3.3" height="7.6" rx="1.6" fill="#fff" stroke="#777" stroke-width="0.7"/>
<circle cx="554.6" cy="249.5" r="0.5" fill="#aaa" stroke="none"/>
<!-- microtube -->
<path d="M577 271.3 V290 Q577.5 300.5 581.6 300.5 Q585.7 300.5 586.2 290 V271.3" fill="#fff"/>
<path d="M579 292 Q581.6 299 584.3 292 Z" fill="#ddd" stroke="#aaa" stroke-width="0.5"/>
<rect x="575.7" y="268.9" width="11.6" height="2.4" fill="#fff"/>
<path d="M562.7 264 L566 262.1 L574.3 267.5 L572.6 269.9 Z" fill="#fff"/>
<!-- pipette tip -->
<path d="M589.4 248.7 L595.4 249.5 L582.1 264 Q580.7 264.5 580.8 263.2 Z" fill="#fafafa"/>
<path d="M591.5 250.5 L583 262" fill="none" stroke="#999" stroke-width="0.5"/>
</g>
<g stroke="#111" stroke-width="1" fill="#111">
<line x1="555.4" y1="284.3" x2="564" y2="284.3"/>
<path d="M567.6 284.3 L563.4 282.2 L563.4 286.4 Z" stroke="none"/>
<line x1="595.9" y1="281.8" x2="603.3" y2="277.2"/>
<path d="M606.6 275.2 L601.8 275.5 L604.1 279.2 Z" stroke="none"/>
<line x1="595.9" y1="286.4" x2="603.3" y2="290.7"/>
<path d="M606.6 292.6 L604.1 288.9 L601.8 292.5 Z" stroke="none"/>
</g>
<g fill="#fff" stroke="#707070" stroke-width="0.85">
<!-- phone -->
<rect x="628.4" y="214.4" width="19.5" height="37.9" rx="2.8"/>
<rect x="630.7" y="220.1" width="15.3" height="27" fill="#dcdcdc" stroke="#8a8a8a" stroke-width="0.6"/>
<line x1="635.6" y1="217.6" x2="640.3" y2="217.6" stroke-width="0.6"/>
<circle cx="638.2" cy="249.9" r="1.0" stroke-width="0.6"/>
<!-- cylinder -->
<path d="M644.5 244 Q645 235 655.2 234.8 Q665.4 235 665.8 244 V263.5 Q665.8 268.3 655.2 268.3 Q644.5 268.3 644.5 263.5 Z"/>
<path d="M644.5 243.5 Q655.2 247.8 665.8 243.5" fill="none" stroke-width="0.7"/>
<path d="M644.5 252.5 Q655.2 256.5 665.8 252.5" fill="none" stroke-width="0.7"/>
<ellipse cx="654" cy="237.4" rx="3.6" ry="1.9"/>
<!-- chip holder -->
<path d="M618.4 271.4 V265.2 L620.4 261.4 H636.6 L638.4 265.2 V271.4 Z"/>
<path d="M618.4 265.2 H638.4" fill="none" stroke-width="0.7"/>
<path d="M621.9 265 Q621.9 259.2 624.8 257.2 Q627.7 259.2 627.7 265 Z" fill="#d4d4d4" stroke="#8a8a8a" stroke-width="0.6"/>
<rect x="630.3" y="259.6" width="5.6" height="5.8" fill="#fff" stroke="#8a8a8a" stroke-width="0.6"/>
<rect x="629.3" y="256.3" width="7.4" height="3.5" fill="#e6d650" stroke="#8a8a8a" stroke-width="0.6"/>
</g>
<g fill="#fff" stroke="#707070" stroke-width="0.85" stroke-linejoin="round">
<!-- PCR machine body -->
<path d="M619 308.2 L640.1 302.7 L672.1 311.9 V320.2 Q672 323 669 325 L647 337.5 Q644.5 339.4 641 339.4 L618 328 Q612.6 325.7 612.6 321 L613.5 319.2 Z"/>
<!-- lid -->
<path d="M639.8 303.5 V286.6 Q639.8 285 641 283.6 L642.2 282.3 L669.6 288.4 Q671.8 289 671.8 291 V311.9" />
<path d="M639.8 286.1 L668.3 292 L671.5 289.6" fill="none" stroke-width="0.7"/>
<path d="M668.3 292 V310.2" fill="none" stroke-width="0.7"/>
<path d="M643.5 289.3 L661.9 293.6 V303.3 L643.5 299 Z" fill="#dedede" stroke="#8a8a8a" stroke-width="0.7"/>
<!-- top face edges -->
<path d="M619 308.2 L647.4 321.1 L672.1 311.9" fill="none"/>
<!-- blue plate -->
<path d="M629.1 309.2 L643.7 302.7 L663 309.5 L649.2 317.4 Z" fill="#78bdea" stroke="#3a86c6" stroke-width="0.8"/>
<path d="M634 309.6 L644.2 305 L658.6 310 L649 315 Z" fill="#cfe6f6" stroke="#2f7ab8" stroke-width="0.6"/>
<path d="M637.3 310.1 L645.6 307.3 L656.6 311.4 L649.2 314.7 Z" fill="#e6e6e6" stroke="#3a86c6" stroke-width="0.5"/>
<!-- front panel -->
<path d="M613.5 319.2 L643.7 333.9 L647.4 321.1" fill="none"/>
<path d="M643.7 333.9 L641 339.4" fill="none"/>
<path d="M620.8 312.8 L641 321.1 L640.1 330.2 L618.1 322 Z" fill="#dedede" stroke="#8a8a8a" stroke-width="0.7"/>
</g>

</svg></body></html>
